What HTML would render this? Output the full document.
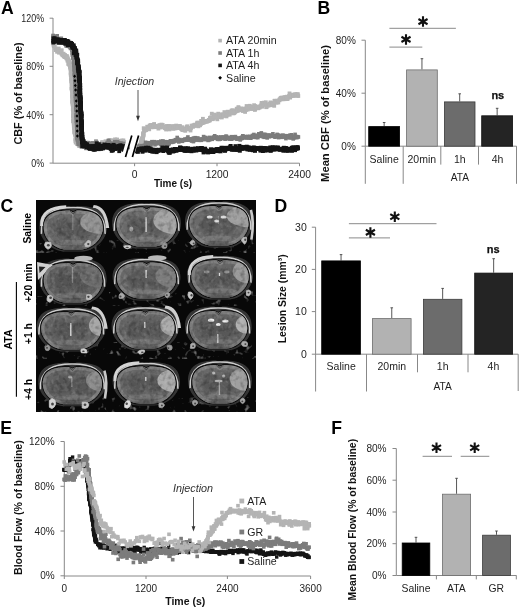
<!DOCTYPE html>
<html><head><meta charset="utf-8"><style>
html,body{margin:0;padding:0;background:#fff;width:520px;height:609px;overflow:hidden}
svg{display:block;will-change:transform}
text{font-family:"Liberation Sans",sans-serif}
</style></head><body>
<svg width="520" height="609" viewBox="0 0 520 609">
<text x="0.9" y="13.9" font-size="17.6" font-weight="bold" fill="#000">A</text>
<path d="M53,18L53,163.2" stroke="#888888" stroke-width="1"/>
<path d="M53,163.2L299.5,163.2" stroke="#888888" stroke-width="1"/>
<path d="M49.6,18.2L53,18.2" stroke="#888888" stroke-width="1"/>
<text x="0" y="0" font-size="10.6" text-anchor="end" fill="#1e1e1e" transform="translate(44.1 22.0) scale(0.84 1)">120%</text>
<path d="M49.6,66.3L53,66.3" stroke="#888888" stroke-width="1"/>
<text x="0" y="0" font-size="10.6" text-anchor="end" fill="#1e1e1e" transform="translate(44.1 70.1) scale(0.84 1)">80%</text>
<path d="M49.6,114.7L53,114.7" stroke="#888888" stroke-width="1"/>
<text x="0" y="0" font-size="10.6" text-anchor="end" fill="#1e1e1e" transform="translate(44.1 118.5) scale(0.84 1)">40%</text>
<path d="M49.6,163.1L53,163.1" stroke="#888888" stroke-width="1"/>
<text x="0" y="0" font-size="10.6" text-anchor="end" fill="#1e1e1e" transform="translate(44.1 166.9) scale(0.84 1)">0%</text>
<path d="M134.6,163.2L134.6,166.2" stroke="#888888" stroke-width="1"/>
<text x="134.7" y="177.7" font-size="10.3" text-anchor="middle" fill="#1e1e1e">0</text>
<path d="M217,163.2L217,166.2" stroke="#888888" stroke-width="1"/>
<text x="217.1" y="177.7" font-size="10.3" text-anchor="middle" fill="#1e1e1e">1200</text>
<path d="M299.5,163.2L299.5,166.2" stroke="#888888" stroke-width="1"/>
<text x="299.6" y="177.7" font-size="10.3" text-anchor="middle" fill="#1e1e1e">2400</text>
<text x="173" y="186.6" font-size="10" text-anchor="middle" font-weight="bold" fill="#111">Time (s)</text>
<text x="21.7" y="93.5" font-size="10.9" text-anchor="middle" font-weight="bold" fill="#111" transform="rotate(-90 21.7 93.5)">CBF (% of baseline)</text>
<g fill="#b4b4b4"><rect x="51.8" y="43.8" width="3.8" height="3.8"/><rect x="51.6" y="42.6" width="3.8" height="3.8"/><rect x="52.0" y="43.6" width="3.8" height="3.8"/><rect x="52.4" y="44.4" width="3.8" height="3.8"/><rect x="53.4" y="46.2" width="3.8" height="3.8"/><rect x="53.3" y="41.9" width="3.8" height="3.8"/><rect x="54.5" y="47.1" width="3.8" height="3.8"/><rect x="53.9" y="48.2" width="3.8" height="3.8"/><rect x="55.2" y="49.9" width="3.8" height="3.8"/><rect x="55.1" y="48.5" width="3.8" height="3.8"/><rect x="56.3" y="47.1" width="3.8" height="3.8"/><rect x="56.1" y="49.0" width="3.8" height="3.8"/><rect x="56.8" y="46.6" width="3.8" height="3.8"/><rect x="57.1" y="50.8" width="3.8" height="3.8"/><rect x="58.6" y="49.8" width="3.8" height="3.8"/><rect x="57.8" y="49.7" width="3.8" height="3.8"/><rect x="59.2" y="50.5" width="3.8" height="3.8"/><rect x="59.3" y="49.0" width="3.8" height="3.8"/><rect x="59.8" y="48.3" width="3.8" height="3.8"/><rect x="59.7" y="52.0" width="3.8" height="3.8"/><rect x="60.6" y="53.3" width="3.8" height="3.8"/><rect x="60.8" y="52.1" width="3.8" height="3.8"/><rect x="60.8" y="52.3" width="3.8" height="3.8"/><rect x="60.9" y="53.4" width="3.8" height="3.8"/><rect x="62.0" y="54.6" width="3.8" height="3.8"/><rect x="61.7" y="51.8" width="3.8" height="3.8"/><rect x="63.0" y="55.2" width="3.8" height="3.8"/><rect x="62.6" y="53.4" width="3.8" height="3.8"/><rect x="63.0" y="54.9" width="3.8" height="3.8"/><rect x="63.0" y="53.0" width="3.8" height="3.8"/><rect x="63.4" y="54.3" width="3.8" height="3.8"/><rect x="64.4" y="56.4" width="3.8" height="3.8"/><rect x="64.7" y="55.1" width="3.8" height="3.8"/><rect x="64.9" y="55.9" width="3.8" height="3.8"/><rect x="65.0" y="54.1" width="3.8" height="3.8"/><rect x="64.7" y="55.2" width="3.8" height="3.8"/><rect x="65.4" y="56.8" width="3.8" height="3.8"/><rect x="65.0" y="56.3" width="3.8" height="3.8"/><rect x="65.5" y="58.7" width="3.8" height="3.8"/><rect x="65.7" y="55.6" width="3.8" height="3.8"/><rect x="66.7" y="58.5" width="3.8" height="3.8"/><rect x="66.3" y="57.3" width="3.8" height="3.8"/><rect x="66.6" y="58.7" width="3.8" height="3.8"/><rect x="66.3" y="62.0" width="3.8" height="3.8"/><rect x="67.2" y="59.5" width="3.8" height="3.8"/><rect x="67.2" y="62.8" width="3.8" height="3.8"/><rect x="67.4" y="59.9" width="3.8" height="3.8"/><rect x="67.6" y="61.3" width="3.8" height="3.8"/><rect x="68.1" y="62.4" width="3.8" height="3.8"/><rect x="68.1" y="62.5" width="3.8" height="3.8"/><rect x="67.7" y="60.0" width="3.8" height="3.8"/><rect x="67.5" y="61.3" width="3.8" height="3.8"/><rect x="68.6" y="65.1" width="3.8" height="3.8"/><rect x="68.5" y="66.7" width="3.8" height="3.8"/><rect x="68.0" y="63.9" width="3.8" height="3.8"/><rect x="68.4" y="64.8" width="3.8" height="3.8"/><rect x="68.6" y="63.8" width="3.8" height="3.8"/><rect x="68.0" y="63.5" width="3.8" height="3.8"/><rect x="68.9" y="64.4" width="3.8" height="3.8"/><rect x="68.4" y="65.5" width="3.8" height="3.8"/><rect x="68.7" y="66.9" width="3.8" height="3.8"/><rect x="69.0" y="67.6" width="3.8" height="3.8"/><rect x="69.3" y="68.9" width="3.8" height="3.8"/><rect x="69.4" y="67.8" width="3.8" height="3.8"/><rect x="68.7" y="70.9" width="3.8" height="3.8"/><rect x="69.6" y="68.1" width="3.8" height="3.8"/><rect x="69.1" y="71.9" width="3.8" height="3.8"/><rect x="68.9" y="67.6" width="3.8" height="3.8"/><rect x="69.0" y="73.1" width="3.8" height="3.8"/><rect x="68.9" y="72.3" width="3.8" height="3.8"/><rect x="69.4" y="73.3" width="3.8" height="3.8"/><rect x="69.3" y="70.9" width="3.8" height="3.8"/><rect x="69.3" y="72.9" width="3.8" height="3.8"/><rect x="68.9" y="73.3" width="3.8" height="3.8"/><rect x="69.7" y="72.4" width="3.8" height="3.8"/><rect x="69.5" y="73.3" width="3.8" height="3.8"/><rect x="69.3" y="76.8" width="3.8" height="3.8"/><rect x="69.8" y="73.5" width="3.8" height="3.8"/><rect x="70.1" y="74.6" width="3.8" height="3.8"/><rect x="69.7" y="77.4" width="3.8" height="3.8"/><rect x="69.7" y="77.6" width="3.8" height="3.8"/><rect x="69.9" y="79.7" width="3.8" height="3.8"/><rect x="69.9" y="80.0" width="3.8" height="3.8"/><rect x="69.4" y="76.1" width="3.8" height="3.8"/><rect x="69.4" y="79.4" width="3.8" height="3.8"/><rect x="70.2" y="79.6" width="3.8" height="3.8"/><rect x="70.1" y="81.9" width="3.8" height="3.8"/><rect x="69.7" y="82.4" width="3.8" height="3.8"/><rect x="70.5" y="81.6" width="3.8" height="3.8"/><rect x="69.7" y="78.7" width="3.8" height="3.8"/><rect x="69.8" y="80.9" width="3.8" height="3.8"/><rect x="70.2" y="84.3" width="3.8" height="3.8"/><rect x="70.3" y="83.9" width="3.8" height="3.8"/><rect x="69.7" y="86.5" width="3.8" height="3.8"/><rect x="69.8" y="84.6" width="3.8" height="3.8"/><rect x="70.0" y="85.1" width="3.8" height="3.8"/><rect x="70.6" y="86.2" width="3.8" height="3.8"/><rect x="69.9" y="86.4" width="3.8" height="3.8"/><rect x="69.9" y="87.7" width="3.8" height="3.8"/><rect x="69.9" y="86.3" width="3.8" height="3.8"/><rect x="70.0" y="83.8" width="3.8" height="3.8"/><rect x="69.9" y="87.1" width="3.8" height="3.8"/><rect x="70.5" y="87.9" width="3.8" height="3.8"/><rect x="70.4" y="86.2" width="3.8" height="3.8"/><rect x="70.0" y="89.0" width="3.8" height="3.8"/><rect x="70.3" y="87.5" width="3.8" height="3.8"/><rect x="70.5" y="91.3" width="3.8" height="3.8"/><rect x="70.3" y="91.9" width="3.8" height="3.8"/><rect x="70.3" y="89.6" width="3.8" height="3.8"/><rect x="71.0" y="93.9" width="3.8" height="3.8"/><rect x="70.6" y="94.2" width="3.8" height="3.8"/><rect x="70.8" y="92.0" width="3.8" height="3.8"/><rect x="70.9" y="96.2" width="3.8" height="3.8"/><rect x="70.6" y="93.4" width="3.8" height="3.8"/><rect x="70.3" y="94.9" width="3.8" height="3.8"/><rect x="70.3" y="93.7" width="3.8" height="3.8"/><rect x="70.6" y="94.8" width="3.8" height="3.8"/><rect x="70.6" y="95.7" width="3.8" height="3.8"/><rect x="70.6" y="101.8" width="3.8" height="3.8"/><rect x="70.6" y="96.6" width="3.8" height="3.8"/><rect x="70.4" y="99.7" width="3.8" height="3.8"/><rect x="70.9" y="97.2" width="3.8" height="3.8"/><rect x="70.5" y="99.2" width="3.8" height="3.8"/><rect x="70.5" y="100.0" width="3.8" height="3.8"/><rect x="71.1" y="101.2" width="3.8" height="3.8"/><rect x="71.2" y="98.7" width="3.8" height="3.8"/><rect x="70.9" y="98.2" width="3.8" height="3.8"/><rect x="71.3" y="104.4" width="3.8" height="3.8"/><rect x="71.5" y="103.3" width="3.8" height="3.8"/><rect x="71.3" y="102.9" width="3.8" height="3.8"/><rect x="71.1" y="104.6" width="3.8" height="3.8"/><rect x="71.2" y="100.7" width="3.8" height="3.8"/><rect x="70.9" y="101.5" width="3.8" height="3.8"/><rect x="70.8" y="103.3" width="3.8" height="3.8"/><rect x="71.3" y="103.5" width="3.8" height="3.8"/><rect x="71.2" y="103.4" width="3.8" height="3.8"/><rect x="71.3" y="103.8" width="3.8" height="3.8"/><rect x="71.4" y="108.7" width="3.8" height="3.8"/><rect x="70.9" y="107.4" width="3.8" height="3.8"/><rect x="71.6" y="110.3" width="3.8" height="3.8"/><rect x="71.3" y="108.1" width="3.8" height="3.8"/><rect x="71.6" y="106.3" width="3.8" height="3.8"/><rect x="71.1" y="108.4" width="3.8" height="3.8"/><rect x="71.5" y="111.1" width="3.8" height="3.8"/><rect x="71.6" y="110.5" width="3.8" height="3.8"/><rect x="71.6" y="109.5" width="3.8" height="3.8"/><rect x="71.5" y="114.2" width="3.8" height="3.8"/><rect x="72.0" y="114.0" width="3.8" height="3.8"/><rect x="71.9" y="113.5" width="3.8" height="3.8"/><rect x="71.5" y="113.1" width="3.8" height="3.8"/><rect x="71.3" y="113.7" width="3.8" height="3.8"/><rect x="72.1" y="114.1" width="3.8" height="3.8"/><rect x="72.1" y="113.9" width="3.8" height="3.8"/><rect x="71.4" y="117.1" width="3.8" height="3.8"/><rect x="71.2" y="114.2" width="3.8" height="3.8"/><rect x="71.4" y="116.1" width="3.8" height="3.8"/><rect x="71.3" y="119.2" width="3.8" height="3.8"/><rect x="72.1" y="119.0" width="3.8" height="3.8"/><rect x="72.3" y="117.9" width="3.8" height="3.8"/><rect x="72.4" y="119.8" width="3.8" height="3.8"/><rect x="71.7" y="120.0" width="3.8" height="3.8"/><rect x="71.5" y="119.4" width="3.8" height="3.8"/><rect x="71.7" y="119.0" width="3.8" height="3.8"/><rect x="71.9" y="121.1" width="3.8" height="3.8"/><rect x="72.2" y="119.0" width="3.8" height="3.8"/><rect x="72.5" y="118.6" width="3.8" height="3.8"/><rect x="72.4" y="119.0" width="3.8" height="3.8"/><rect x="71.9" y="122.4" width="3.8" height="3.8"/><rect x="72.2" y="122.4" width="3.8" height="3.8"/><rect x="72.0" y="122.5" width="3.8" height="3.8"/><rect x="72.4" y="121.4" width="3.8" height="3.8"/><rect x="71.9" y="124.0" width="3.8" height="3.8"/><rect x="72.3" y="126.9" width="3.8" height="3.8"/><rect x="72.7" y="125.3" width="3.8" height="3.8"/><rect x="72.1" y="125.8" width="3.8" height="3.8"/><rect x="72.1" y="125.4" width="3.8" height="3.8"/><rect x="72.7" y="123.1" width="3.8" height="3.8"/><rect x="72.4" y="123.0" width="3.8" height="3.8"/><rect x="72.1" y="125.0" width="3.8" height="3.8"/><rect x="72.5" y="129.8" width="3.8" height="3.8"/><rect x="72.4" y="126.3" width="3.8" height="3.8"/><rect x="72.5" y="123.4" width="3.8" height="3.8"/><rect x="73.1" y="129.2" width="3.8" height="3.8"/><rect x="73.1" y="128.9" width="3.8" height="3.8"/><rect x="72.8" y="129.8" width="3.8" height="3.8"/><rect x="73.2" y="132.5" width="3.8" height="3.8"/><rect x="72.6" y="130.7" width="3.8" height="3.8"/><rect x="73.5" y="131.2" width="3.8" height="3.8"/><rect x="73.1" y="128.0" width="3.8" height="3.8"/><rect x="72.7" y="130.5" width="3.8" height="3.8"/><rect x="73.4" y="130.8" width="3.8" height="3.8"/><rect x="73.4" y="131.9" width="3.8" height="3.8"/><rect x="73.4" y="133.0" width="3.8" height="3.8"/><rect x="73.3" y="132.9" width="3.8" height="3.8"/><rect x="73.4" y="130.7" width="3.8" height="3.8"/><rect x="73.9" y="135.6" width="3.8" height="3.8"/><rect x="74.2" y="136.9" width="3.8" height="3.8"/><rect x="73.5" y="137.6" width="3.8" height="3.8"/><rect x="73.7" y="136.8" width="3.8" height="3.8"/><rect x="73.6" y="139.2" width="3.8" height="3.8"/><rect x="74.1" y="139.0" width="3.8" height="3.8"/><rect x="74.3" y="137.4" width="3.8" height="3.8"/><rect x="74.6" y="136.8" width="3.8" height="3.8"/><rect x="73.8" y="140.7" width="3.8" height="3.8"/><rect x="75.1" y="142.0" width="3.8" height="3.8"/><rect x="74.8" y="136.1" width="3.8" height="3.8"/><rect x="75.7" y="138.5" width="3.8" height="3.8"/><rect x="75.7" y="140.0" width="3.8" height="3.8"/><rect x="77.5" y="141.1" width="3.8" height="3.8"/><rect x="77.3" y="144.2" width="3.8" height="3.8"/><rect x="77.8" y="143.5" width="3.8" height="3.8"/><rect x="78.3" y="140.0" width="3.8" height="3.8"/><rect x="78.8" y="141.7" width="3.8" height="3.8"/><rect x="78.9" y="138.3" width="3.8" height="3.8"/><rect x="80.6" y="142.3" width="3.8" height="3.8"/><rect x="80.4" y="143.4" width="3.8" height="3.8"/><rect x="81.0" y="143.0" width="3.8" height="3.8"/><rect x="80.8" y="140.2" width="3.8" height="3.8"/><rect x="82.0" y="144.2" width="3.8" height="3.8"/><rect x="81.6" y="140.7" width="3.8" height="3.8"/><rect x="83.3" y="142.7" width="3.8" height="3.8"/><rect x="82.9" y="142.7" width="3.8" height="3.8"/><rect x="83.9" y="144.2" width="3.8" height="3.8"/><rect x="83.6" y="143.1" width="3.8" height="3.8"/><rect x="85.5" y="143.6" width="3.8" height="3.8"/><rect x="84.8" y="140.7" width="3.8" height="3.8"/><rect x="86.0" y="144.4" width="3.8" height="3.8"/><rect x="86.5" y="146.1" width="3.8" height="3.8"/><rect x="87.4" y="141.7" width="3.8" height="3.8"/><rect x="87.2" y="143.6" width="3.8" height="3.8"/><rect x="88.4" y="145.1" width="3.8" height="3.8"/><rect x="87.8" y="144.7" width="3.8" height="3.8"/><rect x="88.9" y="144.9" width="3.8" height="3.8"/><rect x="89.5" y="145.7" width="3.8" height="3.8"/><rect x="89.7" y="141.3" width="3.8" height="3.8"/><rect x="89.8" y="143.9" width="3.8" height="3.8"/><rect x="91.3" y="141.1" width="3.8" height="3.8"/><rect x="91.3" y="144.9" width="3.8" height="3.8"/><rect x="92.2" y="141.4" width="3.8" height="3.8"/><rect x="91.8" y="145.1" width="3.8" height="3.8"/><rect x="93.2" y="146.2" width="3.8" height="3.8"/><rect x="93.0" y="145.4" width="3.8" height="3.8"/><rect x="94.4" y="140.2" width="3.8" height="3.8"/><rect x="94.1" y="139.0" width="3.8" height="3.8"/><rect x="94.6" y="140.4" width="3.8" height="3.8"/><rect x="94.7" y="145.0" width="3.8" height="3.8"/><rect x="96.5" y="142.2" width="3.8" height="3.8"/><rect x="95.9" y="146.7" width="3.8" height="3.8"/><rect x="97.2" y="143.8" width="3.8" height="3.8"/><rect x="96.8" y="143.5" width="3.8" height="3.8"/><rect x="97.9" y="141.9" width="3.8" height="3.8"/><rect x="97.6" y="142.4" width="3.8" height="3.8"/><rect x="98.9" y="142.1" width="3.8" height="3.8"/><rect x="99.4" y="142.5" width="3.8" height="3.8"/><rect x="100.0" y="140.4" width="3.8" height="3.8"/><rect x="99.8" y="141.9" width="3.8" height="3.8"/><rect x="100.9" y="142.5" width="3.8" height="3.8"/><rect x="100.9" y="140.4" width="3.8" height="3.8"/><rect x="102.5" y="142.8" width="3.8" height="3.8"/><rect x="102.3" y="141.3" width="3.8" height="3.8"/><rect x="103.0" y="142.5" width="3.8" height="3.8"/><rect x="103.0" y="143.7" width="3.8" height="3.8"/><rect x="103.6" y="139.4" width="3.8" height="3.8"/><rect x="103.7" y="140.9" width="3.8" height="3.8"/><rect x="104.7" y="142.3" width="3.8" height="3.8"/><rect x="105.1" y="141.6" width="3.8" height="3.8"/><rect x="106.4" y="141.6" width="3.8" height="3.8"/><rect x="106.5" y="140.4" width="3.8" height="3.8"/><rect x="107.5" y="140.4" width="3.8" height="3.8"/><rect x="107.5" y="138.1" width="3.8" height="3.8"/><rect x="108.4" y="139.7" width="3.8" height="3.8"/><rect x="108.4" y="141.1" width="3.8" height="3.8"/><rect x="109.1" y="141.3" width="3.8" height="3.8"/><rect x="108.7" y="139.8" width="3.8" height="3.8"/><rect x="109.6" y="138.4" width="3.8" height="3.8"/><rect x="110.4" y="139.8" width="3.8" height="3.8"/><rect x="111.2" y="139.1" width="3.8" height="3.8"/><rect x="111.0" y="138.8" width="3.8" height="3.8"/><rect x="112.0" y="139.7" width="3.8" height="3.8"/><rect x="112.1" y="140.2" width="3.8" height="3.8"/><rect x="113.1" y="137.5" width="3.8" height="3.8"/><rect x="113.1" y="140.9" width="3.8" height="3.8"/><rect x="113.7" y="138.8" width="3.8" height="3.8"/><rect x="114.2" y="141.3" width="3.8" height="3.8"/><rect x="115.1" y="137.8" width="3.8" height="3.8"/><rect x="115.1" y="137.7" width="3.8" height="3.8"/><rect x="116.5" y="144.3" width="3.8" height="3.8"/><rect x="115.8" y="141.6" width="3.8" height="3.8"/><rect x="117.5" y="140.3" width="3.8" height="3.8"/><rect x="117.4" y="140.7" width="3.8" height="3.8"/><rect x="118.4" y="142.1" width="3.8" height="3.8"/><rect x="118.4" y="143.1" width="3.8" height="3.8"/><rect x="118.8" y="139.0" width="3.8" height="3.8"/><rect x="119.1" y="138.9" width="3.8" height="3.8"/><rect x="119.8" y="141.8" width="3.8" height="3.8"/><rect x="119.8" y="138.7" width="3.8" height="3.8"/><rect x="121.2" y="141.8" width="3.8" height="3.8"/><rect x="121.5" y="138.5" width="3.8" height="3.8"/><rect x="121.7" y="142.6" width="3.8" height="3.8"/><rect x="122.4" y="140.3" width="3.8" height="3.8"/><rect x="123.0" y="141.3" width="3.8" height="3.8"/><rect x="123.0" y="142.6" width="3.8" height="3.8"/><rect x="124.4" y="142.3" width="3.8" height="3.8"/><rect x="124.2" y="144.6" width="3.8" height="3.8"/><rect x="124.6" y="142.4" width="3.8" height="3.8"/><rect x="125.2" y="140.5" width="3.8" height="3.8"/></g>
<g fill="#7c7c7c"><rect x="51.2" y="33.7" width="3.8" height="3.8"/><rect x="51.1" y="35.4" width="3.8" height="3.8"/><rect x="52.2" y="35.4" width="3.8" height="3.8"/><rect x="52.6" y="35.1" width="3.8" height="3.8"/><rect x="53.0" y="37.0" width="3.8" height="3.8"/><rect x="52.9" y="35.6" width="3.8" height="3.8"/><rect x="54.1" y="35.5" width="3.8" height="3.8"/><rect x="53.7" y="36.2" width="3.8" height="3.8"/><rect x="55.2" y="34.0" width="3.8" height="3.8"/><rect x="54.8" y="38.3" width="3.8" height="3.8"/><rect x="56.0" y="38.6" width="3.8" height="3.8"/><rect x="55.7" y="38.2" width="3.8" height="3.8"/><rect x="57.5" y="38.9" width="3.8" height="3.8"/><rect x="57.1" y="39.1" width="3.8" height="3.8"/><rect x="57.9" y="38.0" width="3.8" height="3.8"/><rect x="57.6" y="40.7" width="3.8" height="3.8"/><rect x="58.6" y="39.7" width="3.8" height="3.8"/><rect x="59.3" y="36.5" width="3.8" height="3.8"/><rect x="59.8" y="39.7" width="3.8" height="3.8"/><rect x="59.9" y="39.0" width="3.8" height="3.8"/><rect x="61.3" y="38.5" width="3.8" height="3.8"/><rect x="61.4" y="40.4" width="3.8" height="3.8"/><rect x="62.6" y="41.3" width="3.8" height="3.8"/><rect x="62.5" y="40.4" width="3.8" height="3.8"/><rect x="63.3" y="42.2" width="3.8" height="3.8"/><rect x="63.5" y="39.2" width="3.8" height="3.8"/><rect x="64.2" y="43.8" width="3.8" height="3.8"/><rect x="64.3" y="42.3" width="3.8" height="3.8"/><rect x="65.1" y="42.3" width="3.8" height="3.8"/><rect x="65.0" y="40.2" width="3.8" height="3.8"/><rect x="65.3" y="44.1" width="3.8" height="3.8"/><rect x="65.3" y="42.8" width="3.8" height="3.8"/><rect x="66.3" y="43.1" width="3.8" height="3.8"/><rect x="66.7" y="43.1" width="3.8" height="3.8"/><rect x="66.9" y="41.0" width="3.8" height="3.8"/><rect x="67.2" y="44.2" width="3.8" height="3.8"/><rect x="67.7" y="44.9" width="3.8" height="3.8"/><rect x="67.7" y="40.5" width="3.8" height="3.8"/><rect x="68.9" y="44.3" width="3.8" height="3.8"/><rect x="68.7" y="45.0" width="3.8" height="3.8"/><rect x="68.7" y="46.4" width="3.8" height="3.8"/><rect x="68.9" y="45.9" width="3.8" height="3.8"/><rect x="69.4" y="46.3" width="3.8" height="3.8"/><rect x="69.5" y="44.6" width="3.8" height="3.8"/><rect x="70.5" y="48.5" width="3.8" height="3.8"/><rect x="70.0" y="48.5" width="3.8" height="3.8"/><rect x="70.6" y="50.9" width="3.8" height="3.8"/><rect x="71.0" y="51.3" width="3.8" height="3.8"/><rect x="70.6" y="51.4" width="3.8" height="3.8"/><rect x="70.6" y="53.0" width="3.8" height="3.8"/><rect x="70.9" y="50.7" width="3.8" height="3.8"/><rect x="71.1" y="51.1" width="3.8" height="3.8"/><rect x="71.1" y="51.7" width="3.8" height="3.8"/><rect x="70.9" y="53.3" width="3.8" height="3.8"/><rect x="71.6" y="54.5" width="3.8" height="3.8"/><rect x="71.6" y="52.4" width="3.8" height="3.8"/><rect x="72.0" y="57.2" width="3.8" height="3.8"/><rect x="71.3" y="56.2" width="3.8" height="3.8"/><rect x="71.6" y="55.2" width="3.8" height="3.8"/><rect x="71.4" y="54.5" width="3.8" height="3.8"/><rect x="72.0" y="56.4" width="3.8" height="3.8"/><rect x="71.4" y="56.2" width="3.8" height="3.8"/><rect x="71.6" y="55.6" width="3.8" height="3.8"/><rect x="72.2" y="56.9" width="3.8" height="3.8"/><rect x="72.4" y="58.4" width="3.8" height="3.8"/><rect x="72.2" y="59.2" width="3.8" height="3.8"/><rect x="71.9" y="60.2" width="3.8" height="3.8"/><rect x="72.2" y="60.1" width="3.8" height="3.8"/><rect x="72.7" y="60.8" width="3.8" height="3.8"/><rect x="71.9" y="60.2" width="3.8" height="3.8"/><rect x="72.6" y="62.6" width="3.8" height="3.8"/><rect x="72.1" y="62.4" width="3.8" height="3.8"/><rect x="72.4" y="64.7" width="3.8" height="3.8"/><rect x="72.7" y="63.6" width="3.8" height="3.8"/><rect x="72.2" y="62.6" width="3.8" height="3.8"/><rect x="72.5" y="63.5" width="3.8" height="3.8"/><rect x="72.7" y="63.3" width="3.8" height="3.8"/><rect x="72.9" y="61.8" width="3.8" height="3.8"/><rect x="73.1" y="62.4" width="3.8" height="3.8"/><rect x="72.8" y="63.4" width="3.8" height="3.8"/><rect x="72.3" y="63.7" width="3.8" height="3.8"/><rect x="72.9" y="67.0" width="3.8" height="3.8"/><rect x="72.9" y="67.0" width="3.8" height="3.8"/><rect x="73.0" y="67.1" width="3.8" height="3.8"/><rect x="73.1" y="66.0" width="3.8" height="3.8"/><rect x="72.4" y="68.3" width="3.8" height="3.8"/><rect x="73.3" y="71.0" width="3.8" height="3.8"/><rect x="72.5" y="67.4" width="3.8" height="3.8"/><rect x="73.0" y="67.9" width="3.8" height="3.8"/><rect x="72.9" y="67.6" width="3.8" height="3.8"/><rect x="72.9" y="73.0" width="3.8" height="3.8"/><rect x="72.6" y="72.2" width="3.8" height="3.8"/><rect x="72.8" y="71.7" width="3.8" height="3.8"/><rect x="73.0" y="72.0" width="3.8" height="3.8"/><rect x="72.8" y="73.5" width="3.8" height="3.8"/><rect x="73.5" y="71.7" width="3.8" height="3.8"/><rect x="73.0" y="73.8" width="3.8" height="3.8"/><rect x="73.5" y="74.3" width="3.8" height="3.8"/><rect x="72.9" y="74.3" width="3.8" height="3.8"/><rect x="73.1" y="72.3" width="3.8" height="3.8"/><rect x="73.2" y="73.8" width="3.8" height="3.8"/><rect x="73.6" y="76.0" width="3.8" height="3.8"/><rect x="73.2" y="74.9" width="3.8" height="3.8"/><rect x="73.2" y="75.9" width="3.8" height="3.8"/><rect x="73.1" y="77.1" width="3.8" height="3.8"/><rect x="73.3" y="78.2" width="3.8" height="3.8"/><rect x="73.8" y="76.8" width="3.8" height="3.8"/><rect x="73.0" y="79.3" width="3.8" height="3.8"/><rect x="73.1" y="78.9" width="3.8" height="3.8"/><rect x="73.0" y="76.2" width="3.8" height="3.8"/><rect x="73.1" y="78.1" width="3.8" height="3.8"/><rect x="73.2" y="79.2" width="3.8" height="3.8"/><rect x="74.0" y="80.0" width="3.8" height="3.8"/><rect x="73.7" y="79.0" width="3.8" height="3.8"/><rect x="73.9" y="77.9" width="3.8" height="3.8"/><rect x="73.3" y="79.9" width="3.8" height="3.8"/><rect x="73.6" y="82.5" width="3.8" height="3.8"/><rect x="73.4" y="80.0" width="3.8" height="3.8"/><rect x="73.6" y="82.4" width="3.8" height="3.8"/><rect x="73.7" y="80.7" width="3.8" height="3.8"/><rect x="73.2" y="84.7" width="3.8" height="3.8"/><rect x="73.9" y="82.5" width="3.8" height="3.8"/><rect x="74.2" y="85.8" width="3.8" height="3.8"/><rect x="73.9" y="84.5" width="3.8" height="3.8"/><rect x="74.0" y="87.1" width="3.8" height="3.8"/><rect x="73.8" y="85.5" width="3.8" height="3.8"/><rect x="74.1" y="87.2" width="3.8" height="3.8"/><rect x="73.7" y="88.3" width="3.8" height="3.8"/><rect x="73.9" y="88.4" width="3.8" height="3.8"/><rect x="73.8" y="87.3" width="3.8" height="3.8"/><rect x="74.2" y="88.7" width="3.8" height="3.8"/><rect x="73.9" y="89.5" width="3.8" height="3.8"/><rect x="74.1" y="92.0" width="3.8" height="3.8"/><rect x="73.8" y="90.4" width="3.8" height="3.8"/><rect x="73.5" y="90.2" width="3.8" height="3.8"/><rect x="74.4" y="91.6" width="3.8" height="3.8"/><rect x="73.5" y="94.3" width="3.8" height="3.8"/><rect x="74.2" y="96.1" width="3.8" height="3.8"/><rect x="74.2" y="93.9" width="3.8" height="3.8"/><rect x="74.3" y="93.2" width="3.8" height="3.8"/><rect x="74.3" y="93.2" width="3.8" height="3.8"/><rect x="73.8" y="96.1" width="3.8" height="3.8"/><rect x="74.3" y="93.7" width="3.8" height="3.8"/><rect x="74.5" y="97.2" width="3.8" height="3.8"/><rect x="74.0" y="96.0" width="3.8" height="3.8"/><rect x="74.3" y="97.7" width="3.8" height="3.8"/><rect x="73.8" y="99.6" width="3.8" height="3.8"/><rect x="74.6" y="96.2" width="3.8" height="3.8"/><rect x="73.8" y="97.9" width="3.8" height="3.8"/><rect x="74.8" y="100.6" width="3.8" height="3.8"/><rect x="74.5" y="100.6" width="3.8" height="3.8"/><rect x="74.0" y="100.4" width="3.8" height="3.8"/><rect x="74.0" y="102.0" width="3.8" height="3.8"/><rect x="74.0" y="101.2" width="3.8" height="3.8"/><rect x="74.6" y="101.4" width="3.8" height="3.8"/><rect x="74.0" y="102.7" width="3.8" height="3.8"/><rect x="74.7" y="104.3" width="3.8" height="3.8"/><rect x="74.4" y="103.6" width="3.8" height="3.8"/><rect x="74.7" y="107.4" width="3.8" height="3.8"/><rect x="74.0" y="102.2" width="3.8" height="3.8"/><rect x="74.3" y="104.0" width="3.8" height="3.8"/><rect x="74.5" y="103.2" width="3.8" height="3.8"/><rect x="74.5" y="106.2" width="3.8" height="3.8"/><rect x="74.2" y="105.2" width="3.8" height="3.8"/><rect x="74.7" y="104.4" width="3.8" height="3.8"/><rect x="75.0" y="106.3" width="3.8" height="3.8"/><rect x="74.2" y="106.1" width="3.8" height="3.8"/><rect x="74.8" y="107.1" width="3.8" height="3.8"/><rect x="75.1" y="108.4" width="3.8" height="3.8"/><rect x="74.6" y="105.8" width="3.8" height="3.8"/><rect x="74.8" y="109.7" width="3.8" height="3.8"/><rect x="75.0" y="108.2" width="3.8" height="3.8"/><rect x="74.6" y="107.5" width="3.8" height="3.8"/><rect x="74.3" y="108.3" width="3.8" height="3.8"/><rect x="74.8" y="108.9" width="3.8" height="3.8"/><rect x="75.1" y="112.2" width="3.8" height="3.8"/><rect x="74.6" y="113.4" width="3.8" height="3.8"/><rect x="74.5" y="112.8" width="3.8" height="3.8"/><rect x="74.9" y="113.2" width="3.8" height="3.8"/><rect x="74.8" y="113.9" width="3.8" height="3.8"/><rect x="75.1" y="114.7" width="3.8" height="3.8"/><rect x="75.1" y="115.4" width="3.8" height="3.8"/><rect x="75.3" y="113.8" width="3.8" height="3.8"/><rect x="74.9" y="114.5" width="3.8" height="3.8"/><rect x="74.6" y="115.9" width="3.8" height="3.8"/><rect x="74.8" y="115.1" width="3.8" height="3.8"/><rect x="75.5" y="118.1" width="3.8" height="3.8"/><rect x="74.6" y="116.1" width="3.8" height="3.8"/><rect x="75.1" y="117.2" width="3.8" height="3.8"/><rect x="74.5" y="119.5" width="3.8" height="3.8"/><rect x="75.1" y="118.7" width="3.8" height="3.8"/><rect x="75.3" y="116.9" width="3.8" height="3.8"/><rect x="75.4" y="122.8" width="3.8" height="3.8"/><rect x="74.8" y="121.5" width="3.8" height="3.8"/><rect x="75.2" y="123.2" width="3.8" height="3.8"/><rect x="75.1" y="125.9" width="3.8" height="3.8"/><rect x="75.3" y="123.0" width="3.8" height="3.8"/><rect x="74.9" y="124.0" width="3.8" height="3.8"/><rect x="75.4" y="121.0" width="3.8" height="3.8"/><rect x="75.2" y="125.6" width="3.8" height="3.8"/><rect x="75.0" y="127.2" width="3.8" height="3.8"/><rect x="75.7" y="126.5" width="3.8" height="3.8"/><rect x="75.6" y="126.9" width="3.8" height="3.8"/><rect x="75.5" y="127.8" width="3.8" height="3.8"/><rect x="75.7" y="130.2" width="3.8" height="3.8"/><rect x="75.5" y="127.5" width="3.8" height="3.8"/><rect x="75.2" y="130.4" width="3.8" height="3.8"/><rect x="75.5" y="130.1" width="3.8" height="3.8"/><rect x="75.7" y="133.2" width="3.8" height="3.8"/><rect x="75.1" y="131.1" width="3.8" height="3.8"/><rect x="76.0" y="135.3" width="3.8" height="3.8"/><rect x="75.2" y="131.5" width="3.8" height="3.8"/><rect x="76.0" y="132.0" width="3.8" height="3.8"/><rect x="76.0" y="131.9" width="3.8" height="3.8"/><rect x="75.4" y="133.1" width="3.8" height="3.8"/><rect x="75.9" y="132.9" width="3.8" height="3.8"/><rect x="75.6" y="133.8" width="3.8" height="3.8"/><rect x="76.1" y="134.9" width="3.8" height="3.8"/><rect x="75.7" y="137.2" width="3.8" height="3.8"/><rect x="75.5" y="136.2" width="3.8" height="3.8"/><rect x="76.1" y="137.0" width="3.8" height="3.8"/><rect x="75.7" y="138.2" width="3.8" height="3.8"/><rect x="76.5" y="139.6" width="3.8" height="3.8"/><rect x="75.6" y="135.6" width="3.8" height="3.8"/><rect x="76.3" y="137.6" width="3.8" height="3.8"/><rect x="76.3" y="142.4" width="3.8" height="3.8"/><rect x="76.4" y="139.7" width="3.8" height="3.8"/><rect x="75.8" y="136.8" width="3.8" height="3.8"/><rect x="77.0" y="141.4" width="3.8" height="3.8"/><rect x="77.1" y="141.5" width="3.8" height="3.8"/><rect x="77.8" y="142.0" width="3.8" height="3.8"/><rect x="77.5" y="142.3" width="3.8" height="3.8"/><rect x="78.8" y="142.4" width="3.8" height="3.8"/><rect x="78.7" y="142.7" width="3.8" height="3.8"/><rect x="79.6" y="143.2" width="3.8" height="3.8"/><rect x="79.6" y="144.8" width="3.8" height="3.8"/><rect x="80.5" y="141.0" width="3.8" height="3.8"/><rect x="79.8" y="144.2" width="3.8" height="3.8"/><rect x="81.0" y="144.1" width="3.8" height="3.8"/><rect x="80.6" y="142.0" width="3.8" height="3.8"/><rect x="81.7" y="142.8" width="3.8" height="3.8"/><rect x="81.9" y="140.9" width="3.8" height="3.8"/><rect x="82.7" y="144.2" width="3.8" height="3.8"/><rect x="83.6" y="141.0" width="3.8" height="3.8"/><rect x="84.1" y="146.4" width="3.8" height="3.8"/><rect x="83.8" y="143.3" width="3.8" height="3.8"/><rect x="84.6" y="145.5" width="3.8" height="3.8"/><rect x="85.3" y="143.0" width="3.8" height="3.8"/><rect x="86.2" y="140.9" width="3.8" height="3.8"/><rect x="86.5" y="142.8" width="3.8" height="3.8"/><rect x="87.1" y="143.7" width="3.8" height="3.8"/><rect x="86.9" y="144.5" width="3.8" height="3.8"/><rect x="88.2" y="144.4" width="3.8" height="3.8"/><rect x="88.3" y="143.3" width="3.8" height="3.8"/><rect x="89.0" y="141.6" width="3.8" height="3.8"/><rect x="89.4" y="143.1" width="3.8" height="3.8"/><rect x="90.4" y="143.8" width="3.8" height="3.8"/><rect x="90.0" y="145.2" width="3.8" height="3.8"/><rect x="91.4" y="141.8" width="3.8" height="3.8"/><rect x="90.7" y="141.2" width="3.8" height="3.8"/><rect x="91.8" y="142.6" width="3.8" height="3.8"/><rect x="92.1" y="145.3" width="3.8" height="3.8"/><rect x="92.6" y="144.3" width="3.8" height="3.8"/><rect x="93.6" y="144.2" width="3.8" height="3.8"/><rect x="94.4" y="144.4" width="3.8" height="3.8"/><rect x="94.2" y="140.3" width="3.8" height="3.8"/><rect x="95.1" y="141.2" width="3.8" height="3.8"/><rect x="95.2" y="142.2" width="3.8" height="3.8"/><rect x="96.6" y="142.8" width="3.8" height="3.8"/><rect x="95.7" y="144.2" width="3.8" height="3.8"/><rect x="96.9" y="143.3" width="3.8" height="3.8"/><rect x="97.1" y="144.2" width="3.8" height="3.8"/><rect x="97.9" y="143.0" width="3.8" height="3.8"/><rect x="97.7" y="144.6" width="3.8" height="3.8"/><rect x="99.2" y="142.7" width="3.8" height="3.8"/><rect x="98.8" y="143.9" width="3.8" height="3.8"/><rect x="100.2" y="142.3" width="3.8" height="3.8"/><rect x="99.8" y="143.7" width="3.8" height="3.8"/><rect x="100.6" y="144.1" width="3.8" height="3.8"/><rect x="101.5" y="143.0" width="3.8" height="3.8"/><rect x="101.9" y="144.8" width="3.8" height="3.8"/><rect x="101.8" y="143.5" width="3.8" height="3.8"/><rect x="102.7" y="142.9" width="3.8" height="3.8"/><rect x="103.0" y="143.9" width="3.8" height="3.8"/><rect x="104.6" y="143.5" width="3.8" height="3.8"/><rect x="104.0" y="142.8" width="3.8" height="3.8"/><rect x="105.4" y="140.8" width="3.8" height="3.8"/><rect x="105.3" y="142.5" width="3.8" height="3.8"/><rect x="106.4" y="140.9" width="3.8" height="3.8"/><rect x="106.5" y="138.7" width="3.8" height="3.8"/><rect x="107.1" y="140.1" width="3.8" height="3.8"/><rect x="107.2" y="139.8" width="3.8" height="3.8"/><rect x="108.2" y="141.5" width="3.8" height="3.8"/><rect x="108.3" y="143.6" width="3.8" height="3.8"/><rect x="109.0" y="143.2" width="3.8" height="3.8"/><rect x="109.4" y="143.1" width="3.8" height="3.8"/><rect x="109.8" y="141.5" width="3.8" height="3.8"/><rect x="110.2" y="142.5" width="3.8" height="3.8"/><rect x="111.4" y="141.8" width="3.8" height="3.8"/><rect x="111.6" y="142.8" width="3.8" height="3.8"/><rect x="111.6" y="144.9" width="3.8" height="3.8"/><rect x="112.5" y="143.7" width="3.8" height="3.8"/><rect x="113.1" y="139.9" width="3.8" height="3.8"/><rect x="113.3" y="140.1" width="3.8" height="3.8"/><rect x="114.0" y="143.8" width="3.8" height="3.8"/><rect x="113.7" y="141.2" width="3.8" height="3.8"/><rect x="115.2" y="142.5" width="3.8" height="3.8"/><rect x="115.6" y="139.9" width="3.8" height="3.8"/><rect x="116.6" y="140.9" width="3.8" height="3.8"/><rect x="115.8" y="143.2" width="3.8" height="3.8"/><rect x="117.1" y="142.8" width="3.8" height="3.8"/><rect x="117.5" y="142.2" width="3.8" height="3.8"/><rect x="118.5" y="141.5" width="3.8" height="3.8"/><rect x="118.1" y="142.6" width="3.8" height="3.8"/><rect x="119.2" y="143.4" width="3.8" height="3.8"/><rect x="119.0" y="144.5" width="3.8" height="3.8"/><rect x="120.0" y="142.9" width="3.8" height="3.8"/><rect x="119.6" y="141.5" width="3.8" height="3.8"/><rect x="121.3" y="141.7" width="3.8" height="3.8"/><rect x="121.1" y="142.2" width="3.8" height="3.8"/><rect x="122.1" y="145.0" width="3.8" height="3.8"/><rect x="121.7" y="143.1" width="3.8" height="3.8"/><rect x="122.7" y="142.6" width="3.8" height="3.8"/><rect x="123.1" y="144.1" width="3.8" height="3.8"/><rect x="123.7" y="145.0" width="3.8" height="3.8"/><rect x="124.3" y="142.8" width="3.8" height="3.8"/><rect x="124.7" y="143.9" width="3.8" height="3.8"/><rect x="125.2" y="142.1" width="3.8" height="3.8"/></g>
<g fill="#141414"><rect x="51.2" y="39.0" width="3.8" height="3.8"/><rect x="51.5" y="36.4" width="3.8" height="3.8"/><rect x="51.3" y="40.7" width="3.8" height="3.8"/><rect x="52.5" y="39.9" width="3.8" height="3.8"/><rect x="52.8" y="36.3" width="3.8" height="3.8"/><rect x="52.7" y="38.8" width="3.8" height="3.8"/><rect x="54.1" y="37.8" width="3.8" height="3.8"/><rect x="53.8" y="38.8" width="3.8" height="3.8"/><rect x="53.6" y="38.2" width="3.8" height="3.8"/><rect x="55.4" y="37.5" width="3.8" height="3.8"/><rect x="55.0" y="39.7" width="3.8" height="3.8"/><rect x="54.9" y="38.6" width="3.8" height="3.8"/><rect x="56.0" y="37.9" width="3.8" height="3.8"/><rect x="55.8" y="38.8" width="3.8" height="3.8"/><rect x="56.3" y="37.5" width="3.8" height="3.8"/><rect x="56.7" y="37.9" width="3.8" height="3.8"/><rect x="57.0" y="40.9" width="3.8" height="3.8"/><rect x="57.4" y="38.9" width="3.8" height="3.8"/><rect x="58.0" y="39.6" width="3.8" height="3.8"/><rect x="58.1" y="38.4" width="3.8" height="3.8"/><rect x="58.1" y="40.2" width="3.8" height="3.8"/><rect x="59.5" y="38.1" width="3.8" height="3.8"/><rect x="59.2" y="38.6" width="3.8" height="3.8"/><rect x="59.5" y="40.5" width="3.8" height="3.8"/><rect x="59.9" y="39.8" width="3.8" height="3.8"/><rect x="60.2" y="38.3" width="3.8" height="3.8"/><rect x="60.0" y="40.4" width="3.8" height="3.8"/><rect x="60.9" y="39.4" width="3.8" height="3.8"/><rect x="61.0" y="39.2" width="3.8" height="3.8"/><rect x="60.9" y="40.9" width="3.8" height="3.8"/><rect x="61.7" y="39.7" width="3.8" height="3.8"/><rect x="62.5" y="38.9" width="3.8" height="3.8"/><rect x="62.5" y="40.5" width="3.8" height="3.8"/><rect x="62.6" y="39.0" width="3.8" height="3.8"/><rect x="63.0" y="38.0" width="3.8" height="3.8"/><rect x="63.3" y="39.9" width="3.8" height="3.8"/><rect x="64.2" y="41.2" width="3.8" height="3.8"/><rect x="64.3" y="41.6" width="3.8" height="3.8"/><rect x="63.6" y="41.7" width="3.8" height="3.8"/><rect x="64.9" y="40.7" width="3.8" height="3.8"/><rect x="65.2" y="41.3" width="3.8" height="3.8"/><rect x="65.4" y="39.0" width="3.8" height="3.8"/><rect x="66.0" y="40.2" width="3.8" height="3.8"/><rect x="66.4" y="39.5" width="3.8" height="3.8"/><rect x="65.9" y="43.4" width="3.8" height="3.8"/><rect x="66.6" y="41.3" width="3.8" height="3.8"/><rect x="66.8" y="42.0" width="3.8" height="3.8"/><rect x="67.3" y="43.2" width="3.8" height="3.8"/><rect x="68.3" y="42.6" width="3.8" height="3.8"/><rect x="68.5" y="41.0" width="3.8" height="3.8"/><rect x="68.5" y="41.2" width="3.8" height="3.8"/><rect x="69.2" y="41.1" width="3.8" height="3.8"/><rect x="69.0" y="41.7" width="3.8" height="3.8"/><rect x="69.5" y="43.2" width="3.8" height="3.8"/><rect x="69.9" y="43.3" width="3.8" height="3.8"/><rect x="70.2" y="41.9" width="3.8" height="3.8"/><rect x="69.7" y="42.9" width="3.8" height="3.8"/><rect x="70.2" y="44.1" width="3.8" height="3.8"/><rect x="70.5" y="44.9" width="3.8" height="3.8"/><rect x="70.0" y="43.8" width="3.8" height="3.8"/><rect x="71.3" y="44.3" width="3.8" height="3.8"/><rect x="70.5" y="45.9" width="3.8" height="3.8"/><rect x="70.7" y="45.7" width="3.8" height="3.8"/><rect x="71.2" y="44.0" width="3.8" height="3.8"/><rect x="71.8" y="43.3" width="3.8" height="3.8"/><rect x="71.1" y="44.6" width="3.8" height="3.8"/><rect x="71.7" y="45.9" width="3.8" height="3.8"/><rect x="72.0" y="47.0" width="3.8" height="3.8"/><rect x="71.9" y="44.8" width="3.8" height="3.8"/><rect x="71.9" y="51.4" width="3.8" height="3.8"/><rect x="72.0" y="47.4" width="3.8" height="3.8"/><rect x="72.9" y="46.4" width="3.8" height="3.8"/><rect x="72.6" y="48.5" width="3.8" height="3.8"/><rect x="73.1" y="49.5" width="3.8" height="3.8"/><rect x="72.8" y="49.7" width="3.8" height="3.8"/><rect x="72.7" y="48.6" width="3.8" height="3.8"/><rect x="73.3" y="48.7" width="3.8" height="3.8"/><rect x="72.6" y="46.7" width="3.8" height="3.8"/><rect x="72.9" y="49.2" width="3.8" height="3.8"/><rect x="73.0" y="46.1" width="3.8" height="3.8"/><rect x="73.5" y="48.1" width="3.8" height="3.8"/><rect x="73.4" y="50.7" width="3.8" height="3.8"/><rect x="73.6" y="49.2" width="3.8" height="3.8"/><rect x="73.8" y="49.3" width="3.8" height="3.8"/><rect x="73.8" y="49.3" width="3.8" height="3.8"/><rect x="73.8" y="50.1" width="3.8" height="3.8"/><rect x="74.0" y="50.9" width="3.8" height="3.8"/><rect x="73.6" y="53.2" width="3.8" height="3.8"/><rect x="74.3" y="52.1" width="3.8" height="3.8"/><rect x="74.4" y="53.2" width="3.8" height="3.8"/><rect x="74.1" y="51.2" width="3.8" height="3.8"/><rect x="74.2" y="50.6" width="3.8" height="3.8"/><rect x="74.5" y="53.5" width="3.8" height="3.8"/><rect x="74.4" y="50.6" width="3.8" height="3.8"/><rect x="74.3" y="52.9" width="3.8" height="3.8"/><rect x="74.4" y="48.7" width="3.8" height="3.8"/><rect x="75.1" y="57.4" width="3.8" height="3.8"/><rect x="75.1" y="53.3" width="3.8" height="3.8"/><rect x="74.9" y="53.0" width="3.8" height="3.8"/><rect x="75.4" y="52.8" width="3.8" height="3.8"/><rect x="74.8" y="55.0" width="3.8" height="3.8"/><rect x="74.5" y="55.6" width="3.8" height="3.8"/><rect x="74.7" y="56.0" width="3.8" height="3.8"/><rect x="75.0" y="55.5" width="3.8" height="3.8"/><rect x="75.2" y="56.1" width="3.8" height="3.8"/><rect x="75.7" y="57.2" width="3.8" height="3.8"/><rect x="75.0" y="57.7" width="3.8" height="3.8"/><rect x="75.3" y="57.9" width="3.8" height="3.8"/><rect x="75.2" y="58.9" width="3.8" height="3.8"/><rect x="75.5" y="59.2" width="3.8" height="3.8"/><rect x="75.3" y="60.9" width="3.8" height="3.8"/><rect x="75.7" y="60.2" width="3.8" height="3.8"/><rect x="76.1" y="58.4" width="3.8" height="3.8"/><rect x="75.2" y="61.4" width="3.8" height="3.8"/><rect x="76.2" y="58.9" width="3.8" height="3.8"/><rect x="76.0" y="60.2" width="3.8" height="3.8"/><rect x="75.5" y="61.0" width="3.8" height="3.8"/><rect x="75.6" y="61.5" width="3.8" height="3.8"/><rect x="76.3" y="64.3" width="3.8" height="3.8"/><rect x="76.3" y="59.3" width="3.8" height="3.8"/><rect x="75.8" y="62.7" width="3.8" height="3.8"/><rect x="76.3" y="61.5" width="3.8" height="3.8"/><rect x="75.7" y="61.2" width="3.8" height="3.8"/><rect x="76.5" y="66.2" width="3.8" height="3.8"/><rect x="76.3" y="64.9" width="3.8" height="3.8"/><rect x="75.9" y="66.3" width="3.8" height="3.8"/><rect x="76.1" y="62.5" width="3.8" height="3.8"/><rect x="76.0" y="65.9" width="3.8" height="3.8"/><rect x="76.0" y="65.3" width="3.8" height="3.8"/><rect x="76.4" y="65.2" width="3.8" height="3.8"/><rect x="77.0" y="64.5" width="3.8" height="3.8"/><rect x="76.8" y="66.9" width="3.8" height="3.8"/><rect x="76.5" y="66.6" width="3.8" height="3.8"/><rect x="77.0" y="67.0" width="3.8" height="3.8"/><rect x="76.4" y="66.5" width="3.8" height="3.8"/><rect x="76.7" y="67.6" width="3.8" height="3.8"/><rect x="77.1" y="68.4" width="3.8" height="3.8"/><rect x="76.3" y="65.7" width="3.8" height="3.8"/><rect x="76.9" y="68.6" width="3.8" height="3.8"/><rect x="76.8" y="68.0" width="3.8" height="3.8"/><rect x="76.7" y="67.7" width="3.8" height="3.8"/><rect x="76.8" y="70.6" width="3.8" height="3.8"/><rect x="76.5" y="69.2" width="3.8" height="3.8"/><rect x="77.1" y="68.9" width="3.8" height="3.8"/><rect x="76.8" y="69.0" width="3.8" height="3.8"/><rect x="77.5" y="69.9" width="3.8" height="3.8"/><rect x="77.1" y="70.9" width="3.8" height="3.8"/><rect x="77.2" y="69.8" width="3.8" height="3.8"/><rect x="77.4" y="69.7" width="3.8" height="3.8"/><rect x="77.5" y="70.1" width="3.8" height="3.8"/><rect x="77.4" y="69.5" width="3.8" height="3.8"/><rect x="77.2" y="71.4" width="3.8" height="3.8"/><rect x="76.7" y="70.8" width="3.8" height="3.8"/><rect x="77.2" y="72.4" width="3.8" height="3.8"/><rect x="77.1" y="73.9" width="3.8" height="3.8"/><rect x="76.8" y="74.2" width="3.8" height="3.8"/><rect x="77.4" y="73.6" width="3.8" height="3.8"/><rect x="77.2" y="74.7" width="3.8" height="3.8"/><rect x="77.6" y="70.7" width="3.8" height="3.8"/><rect x="77.9" y="74.2" width="3.8" height="3.8"/><rect x="77.5" y="74.4" width="3.8" height="3.8"/><rect x="77.3" y="74.9" width="3.8" height="3.8"/><rect x="77.1" y="72.4" width="3.8" height="3.8"/><rect x="77.3" y="75.6" width="3.8" height="3.8"/><rect x="77.2" y="75.1" width="3.8" height="3.8"/><rect x="77.5" y="78.0" width="3.8" height="3.8"/><rect x="77.7" y="79.2" width="3.8" height="3.8"/><rect x="77.8" y="79.2" width="3.8" height="3.8"/><rect x="77.9" y="79.3" width="3.8" height="3.8"/><rect x="77.3" y="77.4" width="3.8" height="3.8"/><rect x="78.0" y="76.3" width="3.8" height="3.8"/><rect x="77.5" y="78.6" width="3.8" height="3.8"/><rect x="77.9" y="76.6" width="3.8" height="3.8"/><rect x="77.2" y="78.2" width="3.8" height="3.8"/><rect x="77.6" y="78.0" width="3.8" height="3.8"/><rect x="77.7" y="80.0" width="3.8" height="3.8"/><rect x="78.1" y="76.1" width="3.8" height="3.8"/><rect x="77.9" y="80.3" width="3.8" height="3.8"/><rect x="77.4" y="79.3" width="3.8" height="3.8"/><rect x="78.0" y="82.7" width="3.8" height="3.8"/><rect x="77.8" y="80.7" width="3.8" height="3.8"/><rect x="77.9" y="81.3" width="3.8" height="3.8"/><rect x="78.0" y="82.1" width="3.8" height="3.8"/><rect x="78.1" y="83.3" width="3.8" height="3.8"/><rect x="77.8" y="86.4" width="3.8" height="3.8"/><rect x="77.9" y="84.8" width="3.8" height="3.8"/><rect x="77.8" y="83.7" width="3.8" height="3.8"/><rect x="78.4" y="83.0" width="3.8" height="3.8"/><rect x="78.1" y="85.3" width="3.8" height="3.8"/><rect x="77.5" y="84.3" width="3.8" height="3.8"/><rect x="78.4" y="86.1" width="3.8" height="3.8"/><rect x="77.6" y="87.1" width="3.8" height="3.8"/><rect x="77.6" y="90.2" width="3.8" height="3.8"/><rect x="78.4" y="88.3" width="3.8" height="3.8"/><rect x="78.1" y="86.4" width="3.8" height="3.8"/><rect x="77.8" y="90.0" width="3.8" height="3.8"/><rect x="77.6" y="89.1" width="3.8" height="3.8"/><rect x="77.9" y="89.8" width="3.8" height="3.8"/><rect x="77.9" y="93.1" width="3.8" height="3.8"/><rect x="77.8" y="88.5" width="3.8" height="3.8"/><rect x="77.8" y="89.2" width="3.8" height="3.8"/><rect x="78.3" y="90.4" width="3.8" height="3.8"/><rect x="77.8" y="90.2" width="3.8" height="3.8"/><rect x="77.7" y="93.0" width="3.8" height="3.8"/><rect x="78.4" y="91.7" width="3.8" height="3.8"/><rect x="78.1" y="90.2" width="3.8" height="3.8"/><rect x="77.8" y="90.4" width="3.8" height="3.8"/><rect x="78.2" y="92.3" width="3.8" height="3.8"/><rect x="78.0" y="90.9" width="3.8" height="3.8"/><rect x="78.5" y="92.7" width="3.8" height="3.8"/><rect x="78.0" y="94.2" width="3.8" height="3.8"/><rect x="77.7" y="93.7" width="3.8" height="3.8"/><rect x="77.8" y="93.5" width="3.8" height="3.8"/><rect x="78.4" y="95.3" width="3.8" height="3.8"/><rect x="78.4" y="95.0" width="3.8" height="3.8"/><rect x="78.7" y="95.3" width="3.8" height="3.8"/><rect x="78.5" y="96.9" width="3.8" height="3.8"/><rect x="78.2" y="95.7" width="3.8" height="3.8"/><rect x="77.8" y="96.5" width="3.8" height="3.8"/><rect x="77.9" y="95.5" width="3.8" height="3.8"/><rect x="78.0" y="96.3" width="3.8" height="3.8"/><rect x="77.9" y="96.1" width="3.8" height="3.8"/><rect x="78.2" y="93.5" width="3.8" height="3.8"/><rect x="78.1" y="96.7" width="3.8" height="3.8"/><rect x="78.7" y="96.5" width="3.8" height="3.8"/><rect x="78.2" y="97.7" width="3.8" height="3.8"/><rect x="78.3" y="97.5" width="3.8" height="3.8"/><rect x="78.3" y="99.5" width="3.8" height="3.8"/><rect x="78.5" y="96.4" width="3.8" height="3.8"/><rect x="78.8" y="97.8" width="3.8" height="3.8"/><rect x="78.3" y="97.9" width="3.8" height="3.8"/><rect x="78.4" y="99.0" width="3.8" height="3.8"/><rect x="79.0" y="101.0" width="3.8" height="3.8"/><rect x="78.6" y="101.0" width="3.8" height="3.8"/><rect x="78.4" y="100.9" width="3.8" height="3.8"/><rect x="78.9" y="101.8" width="3.8" height="3.8"/><rect x="79.0" y="102.9" width="3.8" height="3.8"/><rect x="78.7" y="101.0" width="3.8" height="3.8"/><rect x="78.1" y="101.8" width="3.8" height="3.8"/><rect x="79.0" y="100.3" width="3.8" height="3.8"/><rect x="78.4" y="101.5" width="3.8" height="3.8"/><rect x="78.9" y="101.4" width="3.8" height="3.8"/><rect x="78.7" y="101.5" width="3.8" height="3.8"/><rect x="78.8" y="102.7" width="3.8" height="3.8"/><rect x="78.5" y="103.3" width="3.8" height="3.8"/><rect x="78.7" y="103.3" width="3.8" height="3.8"/><rect x="78.5" y="106.1" width="3.8" height="3.8"/><rect x="78.8" y="106.6" width="3.8" height="3.8"/><rect x="79.1" y="104.2" width="3.8" height="3.8"/><rect x="78.8" y="103.9" width="3.8" height="3.8"/><rect x="79.2" y="103.5" width="3.8" height="3.8"/><rect x="78.7" y="106.8" width="3.8" height="3.8"/><rect x="78.5" y="105.8" width="3.8" height="3.8"/><rect x="79.2" y="106.5" width="3.8" height="3.8"/><rect x="78.8" y="107.0" width="3.8" height="3.8"/><rect x="79.1" y="105.8" width="3.8" height="3.8"/><rect x="79.2" y="107.8" width="3.8" height="3.8"/><rect x="79.1" y="106.1" width="3.8" height="3.8"/><rect x="78.8" y="108.1" width="3.8" height="3.8"/><rect x="78.7" y="110.0" width="3.8" height="3.8"/><rect x="78.5" y="109.8" width="3.8" height="3.8"/><rect x="78.8" y="110.7" width="3.8" height="3.8"/><rect x="79.1" y="113.3" width="3.8" height="3.8"/><rect x="78.7" y="108.4" width="3.8" height="3.8"/><rect x="78.9" y="113.4" width="3.8" height="3.8"/><rect x="79.3" y="112.4" width="3.8" height="3.8"/><rect x="79.0" y="110.4" width="3.8" height="3.8"/><rect x="79.0" y="109.3" width="3.8" height="3.8"/><rect x="79.6" y="110.6" width="3.8" height="3.8"/><rect x="79.0" y="111.5" width="3.8" height="3.8"/><rect x="79.4" y="111.5" width="3.8" height="3.8"/><rect x="79.6" y="113.9" width="3.8" height="3.8"/><rect x="78.7" y="111.4" width="3.8" height="3.8"/><rect x="79.5" y="112.1" width="3.8" height="3.8"/><rect x="79.1" y="114.3" width="3.8" height="3.8"/><rect x="79.2" y="114.4" width="3.8" height="3.8"/><rect x="79.2" y="115.9" width="3.8" height="3.8"/><rect x="79.5" y="114.4" width="3.8" height="3.8"/><rect x="78.9" y="114.0" width="3.8" height="3.8"/><rect x="78.9" y="117.3" width="3.8" height="3.8"/><rect x="78.9" y="116.5" width="3.8" height="3.8"/><rect x="79.5" y="114.8" width="3.8" height="3.8"/><rect x="79.3" y="112.1" width="3.8" height="3.8"/><rect x="79.7" y="113.9" width="3.8" height="3.8"/><rect x="79.2" y="116.3" width="3.8" height="3.8"/><rect x="79.2" y="117.4" width="3.8" height="3.8"/><rect x="79.8" y="118.7" width="3.8" height="3.8"/><rect x="79.4" y="117.1" width="3.8" height="3.8"/><rect x="79.8" y="119.6" width="3.8" height="3.8"/><rect x="79.2" y="116.1" width="3.8" height="3.8"/><rect x="79.5" y="117.6" width="3.8" height="3.8"/><rect x="79.6" y="118.5" width="3.8" height="3.8"/><rect x="79.9" y="122.0" width="3.8" height="3.8"/><rect x="79.1" y="119.5" width="3.8" height="3.8"/><rect x="79.6" y="121.2" width="3.8" height="3.8"/><rect x="79.3" y="122.7" width="3.8" height="3.8"/><rect x="79.9" y="120.4" width="3.8" height="3.8"/><rect x="79.5" y="122.7" width="3.8" height="3.8"/><rect x="79.7" y="122.0" width="3.8" height="3.8"/><rect x="80.0" y="124.0" width="3.8" height="3.8"/><rect x="80.1" y="121.2" width="3.8" height="3.8"/><rect x="79.8" y="122.6" width="3.8" height="3.8"/><rect x="79.4" y="124.2" width="3.8" height="3.8"/><rect x="80.1" y="125.6" width="3.8" height="3.8"/><rect x="80.0" y="126.0" width="3.8" height="3.8"/><rect x="79.6" y="124.8" width="3.8" height="3.8"/><rect x="79.9" y="126.2" width="3.8" height="3.8"/><rect x="79.3" y="126.3" width="3.8" height="3.8"/><rect x="79.5" y="126.1" width="3.8" height="3.8"/><rect x="79.9" y="129.2" width="3.8" height="3.8"/><rect x="80.1" y="130.0" width="3.8" height="3.8"/><rect x="80.1" y="128.8" width="3.8" height="3.8"/><rect x="79.7" y="127.5" width="3.8" height="3.8"/><rect x="79.4" y="127.4" width="3.8" height="3.8"/><rect x="80.1" y="126.3" width="3.8" height="3.8"/><rect x="80.2" y="131.6" width="3.8" height="3.8"/><rect x="80.3" y="131.5" width="3.8" height="3.8"/><rect x="79.7" y="128.0" width="3.8" height="3.8"/><rect x="80.4" y="132.2" width="3.8" height="3.8"/><rect x="80.0" y="131.7" width="3.8" height="3.8"/><rect x="79.5" y="131.5" width="3.8" height="3.8"/><rect x="80.3" y="132.3" width="3.8" height="3.8"/><rect x="80.1" y="135.0" width="3.8" height="3.8"/><rect x="79.8" y="133.8" width="3.8" height="3.8"/><rect x="79.9" y="131.4" width="3.8" height="3.8"/><rect x="79.7" y="132.7" width="3.8" height="3.8"/><rect x="79.8" y="134.0" width="3.8" height="3.8"/><rect x="80.1" y="133.9" width="3.8" height="3.8"/><rect x="79.6" y="131.6" width="3.8" height="3.8"/><rect x="79.7" y="133.0" width="3.8" height="3.8"/><rect x="80.0" y="132.6" width="3.8" height="3.8"/><rect x="79.8" y="135.5" width="3.8" height="3.8"/><rect x="80.0" y="135.6" width="3.8" height="3.8"/><rect x="79.8" y="136.4" width="3.8" height="3.8"/><rect x="80.2" y="135.6" width="3.8" height="3.8"/><rect x="79.8" y="133.2" width="3.8" height="3.8"/><rect x="80.2" y="134.5" width="3.8" height="3.8"/><rect x="79.9" y="135.8" width="3.8" height="3.8"/><rect x="80.0" y="136.3" width="3.8" height="3.8"/><rect x="79.8" y="137.2" width="3.8" height="3.8"/><rect x="80.3" y="135.1" width="3.8" height="3.8"/><rect x="80.0" y="135.7" width="3.8" height="3.8"/><rect x="79.8" y="135.1" width="3.8" height="3.8"/><rect x="80.7" y="137.5" width="3.8" height="3.8"/><rect x="80.4" y="136.6" width="3.8" height="3.8"/><rect x="80.6" y="139.2" width="3.8" height="3.8"/><rect x="80.8" y="138.6" width="3.8" height="3.8"/><rect x="80.5" y="137.3" width="3.8" height="3.8"/><rect x="80.7" y="135.3" width="3.8" height="3.8"/><rect x="80.8" y="139.1" width="3.8" height="3.8"/><rect x="80.3" y="139.2" width="3.8" height="3.8"/><rect x="80.6" y="140.4" width="3.8" height="3.8"/><rect x="80.2" y="140.7" width="3.8" height="3.8"/><rect x="80.3" y="144.4" width="3.8" height="3.8"/><rect x="80.5" y="138.0" width="3.8" height="3.8"/><rect x="80.8" y="140.5" width="3.8" height="3.8"/><rect x="80.2" y="138.6" width="3.8" height="3.8"/><rect x="80.1" y="140.6" width="3.8" height="3.8"/><rect x="81.0" y="139.6" width="3.8" height="3.8"/><rect x="80.8" y="142.6" width="3.8" height="3.8"/><rect x="81.0" y="142.7" width="3.8" height="3.8"/><rect x="80.7" y="140.1" width="3.8" height="3.8"/><rect x="80.9" y="143.4" width="3.8" height="3.8"/><rect x="81.9" y="139.3" width="3.8" height="3.8"/><rect x="81.9" y="141.9" width="3.8" height="3.8"/><rect x="81.2" y="143.1" width="3.8" height="3.8"/><rect x="82.3" y="143.3" width="3.8" height="3.8"/><rect x="82.5" y="144.8" width="3.8" height="3.8"/><rect x="82.2" y="143.7" width="3.8" height="3.8"/><rect x="83.7" y="144.0" width="3.8" height="3.8"/><rect x="83.4" y="142.0" width="3.8" height="3.8"/><rect x="83.1" y="141.1" width="3.8" height="3.8"/><rect x="83.6" y="143.6" width="3.8" height="3.8"/><rect x="84.4" y="143.8" width="3.8" height="3.8"/><rect x="84.2" y="142.6" width="3.8" height="3.8"/><rect x="85.0" y="145.4" width="3.8" height="3.8"/><rect x="84.7" y="142.7" width="3.8" height="3.8"/><rect x="85.3" y="142.4" width="3.8" height="3.8"/><rect x="85.7" y="144.7" width="3.8" height="3.8"/><rect x="85.8" y="144.4" width="3.8" height="3.8"/><rect x="86.6" y="144.2" width="3.8" height="3.8"/><rect x="87.2" y="146.4" width="3.8" height="3.8"/><rect x="87.6" y="144.4" width="3.8" height="3.8"/><rect x="87.6" y="146.3" width="3.8" height="3.8"/><rect x="88.1" y="147.1" width="3.8" height="3.8"/><rect x="88.1" y="146.3" width="3.8" height="3.8"/><rect x="87.9" y="145.9" width="3.8" height="3.8"/><rect x="89.5" y="145.1" width="3.8" height="3.8"/><rect x="89.5" y="146.3" width="3.8" height="3.8"/><rect x="88.7" y="145.4" width="3.8" height="3.8"/><rect x="90.0" y="145.0" width="3.8" height="3.8"/><rect x="90.1" y="144.3" width="3.8" height="3.8"/><rect x="90.5" y="144.7" width="3.8" height="3.8"/><rect x="90.7" y="147.1" width="3.8" height="3.8"/><rect x="91.0" y="144.2" width="3.8" height="3.8"/><rect x="91.5" y="145.7" width="3.8" height="3.8"/><rect x="91.9" y="147.5" width="3.8" height="3.8"/><rect x="91.7" y="147.8" width="3.8" height="3.8"/><rect x="92.2" y="146.5" width="3.8" height="3.8"/><rect x="93.2" y="145.0" width="3.8" height="3.8"/><rect x="93.1" y="147.8" width="3.8" height="3.8"/><rect x="93.6" y="144.0" width="3.8" height="3.8"/><rect x="94.0" y="147.0" width="3.8" height="3.8"/><rect x="93.9" y="144.3" width="3.8" height="3.8"/><rect x="94.2" y="146.0" width="3.8" height="3.8"/><rect x="94.7" y="141.4" width="3.8" height="3.8"/><rect x="95.3" y="144.0" width="3.8" height="3.8"/><rect x="94.9" y="145.4" width="3.8" height="3.8"/><rect x="96.6" y="145.5" width="3.8" height="3.8"/><rect x="96.5" y="144.5" width="3.8" height="3.8"/><rect x="95.9" y="144.0" width="3.8" height="3.8"/><rect x="97.0" y="142.3" width="3.8" height="3.8"/><rect x="96.8" y="147.3" width="3.8" height="3.8"/><rect x="97.1" y="146.0" width="3.8" height="3.8"/><rect x="97.9" y="145.9" width="3.8" height="3.8"/><rect x="98.2" y="146.5" width="3.8" height="3.8"/><rect x="98.4" y="144.3" width="3.8" height="3.8"/><rect x="99.1" y="144.6" width="3.8" height="3.8"/><rect x="99.4" y="147.0" width="3.8" height="3.8"/><rect x="99.4" y="143.9" width="3.8" height="3.8"/><rect x="99.9" y="144.9" width="3.8" height="3.8"/><rect x="100.4" y="145.4" width="3.8" height="3.8"/><rect x="100.0" y="145.1" width="3.8" height="3.8"/><rect x="101.2" y="146.5" width="3.8" height="3.8"/><rect x="101.4" y="144.2" width="3.8" height="3.8"/><rect x="101.5" y="144.5" width="3.8" height="3.8"/><rect x="102.4" y="143.6" width="3.8" height="3.8"/><rect x="102.1" y="144.8" width="3.8" height="3.8"/><rect x="102.3" y="144.7" width="3.8" height="3.8"/><rect x="102.7" y="142.6" width="3.8" height="3.8"/><rect x="103.3" y="144.9" width="3.8" height="3.8"/><rect x="103.0" y="143.0" width="3.8" height="3.8"/><rect x="104.4" y="144.3" width="3.8" height="3.8"/><rect x="104.4" y="143.2" width="3.8" height="3.8"/><rect x="104.5" y="145.7" width="3.8" height="3.8"/><rect x="105.2" y="144.2" width="3.8" height="3.8"/><rect x="105.3" y="143.2" width="3.8" height="3.8"/><rect x="104.9" y="145.4" width="3.8" height="3.8"/><rect x="105.9" y="144.6" width="3.8" height="3.8"/><rect x="106.3" y="145.4" width="3.8" height="3.8"/><rect x="106.4" y="143.0" width="3.8" height="3.8"/><rect x="107.4" y="145.3" width="3.8" height="3.8"/><rect x="106.7" y="145.4" width="3.8" height="3.8"/><rect x="106.7" y="143.6" width="3.8" height="3.8"/><rect x="107.6" y="146.0" width="3.8" height="3.8"/><rect x="108.2" y="145.1" width="3.8" height="3.8"/><rect x="107.9" y="144.8" width="3.8" height="3.8"/><rect x="108.8" y="147.1" width="3.8" height="3.8"/><rect x="108.6" y="143.6" width="3.8" height="3.8"/><rect x="108.6" y="144.3" width="3.8" height="3.8"/><rect x="110.2" y="145.6" width="3.8" height="3.8"/><rect x="110.1" y="144.1" width="3.8" height="3.8"/><rect x="109.8" y="149.0" width="3.8" height="3.8"/><rect x="111.6" y="142.9" width="3.8" height="3.8"/><rect x="111.1" y="148.5" width="3.8" height="3.8"/><rect x="111.1" y="144.0" width="3.8" height="3.8"/><rect x="111.9" y="145.1" width="3.8" height="3.8"/><rect x="111.8" y="145.9" width="3.8" height="3.8"/><rect x="112.1" y="143.7" width="3.8" height="3.8"/><rect x="112.8" y="145.0" width="3.8" height="3.8"/><rect x="113.6" y="146.9" width="3.8" height="3.8"/><rect x="113.5" y="147.1" width="3.8" height="3.8"/><rect x="113.7" y="145.0" width="3.8" height="3.8"/><rect x="114.3" y="145.2" width="3.8" height="3.8"/><rect x="113.9" y="144.5" width="3.8" height="3.8"/><rect x="115.6" y="145.3" width="3.8" height="3.8"/><rect x="115.0" y="145.8" width="3.8" height="3.8"/><rect x="115.4" y="144.8" width="3.8" height="3.8"/><rect x="115.8" y="146.0" width="3.8" height="3.8"/><rect x="116.5" y="144.1" width="3.8" height="3.8"/><rect x="116.1" y="146.0" width="3.8" height="3.8"/><rect x="117.2" y="144.6" width="3.8" height="3.8"/><rect x="116.6" y="145.5" width="3.8" height="3.8"/><rect x="117.3" y="149.3" width="3.8" height="3.8"/><rect x="118.3" y="143.4" width="3.8" height="3.8"/><rect x="117.7" y="147.0" width="3.8" height="3.8"/><rect x="117.8" y="144.1" width="3.8" height="3.8"/><rect x="119.4" y="145.6" width="3.8" height="3.8"/><rect x="119.5" y="143.7" width="3.8" height="3.8"/><rect x="118.7" y="144.3" width="3.8" height="3.8"/><rect x="120.1" y="145.4" width="3.8" height="3.8"/><rect x="120.5" y="145.3" width="3.8" height="3.8"/><rect x="119.7" y="145.4" width="3.8" height="3.8"/><rect x="121.1" y="144.3" width="3.8" height="3.8"/><rect x="121.0" y="145.0" width="3.8" height="3.8"/><rect x="121.3" y="147.5" width="3.8" height="3.8"/><rect x="122.3" y="146.0" width="3.8" height="3.8"/><rect x="122.3" y="145.3" width="3.8" height="3.8"/><rect x="121.7" y="147.9" width="3.8" height="3.8"/><rect x="122.8" y="147.0" width="3.8" height="3.8"/><rect x="123.4" y="145.9" width="3.8" height="3.8"/><rect x="123.2" y="145.9" width="3.8" height="3.8"/><rect x="124.6" y="146.0" width="3.8" height="3.8"/><rect x="123.8" y="145.5" width="3.8" height="3.8"/><rect x="123.8" y="144.4" width="3.8" height="3.8"/><rect x="125.5" y="144.9" width="3.8" height="3.8"/><rect x="125.4" y="145.8" width="3.8" height="3.8"/><rect x="125.6" y="144.8" width="3.8" height="3.8"/></g>
<path d="M74.6,74.5L76.1,76.2L74.6,77.9L73.1,76.2Z" fill="#000"/>
<path d="M75,79.1L76.5,80.8L75,82.5L73.5,80.8Z" fill="#000"/>
<path d="M75.3,83.8L76.8,85.5L75.3,87.2L73.8,85.5Z" fill="#000"/>
<path d="M75.6,88.3L77.1,90L75.6,91.7L74.1,90Z" fill="#000"/>
<path d="M76,93.3L77.5,95L76,96.7L74.5,95Z" fill="#000"/>
<path d="M76.3,99.3L77.8,101L76.3,102.7L74.8,101Z" fill="#000"/>
<path d="M76.6,104.3L78.1,106L76.6,107.7L75.1,106Z" fill="#000"/>
<path d="M76.8,109.3L78.3,111L76.8,112.7L75.3,111Z" fill="#000"/>
<path d="M77,114.3L78.5,116L77,117.7L75.5,116Z" fill="#000"/>
<path d="M77,119.3L78.5,121L77,122.7L75.5,121Z" fill="#000"/>
<path d="M77.2,124.3L78.7,126L77.2,127.7L75.7,126Z" fill="#000"/>
<path d="M77.3,129.3L78.8,131L77.3,132.7L75.8,131Z" fill="#000"/>
<path d="M77.4,134.3L78.9,136L77.4,137.7L75.9,136Z" fill="#000"/>
<g fill="#b4b4b4"><rect x="134.8" y="146.2" width="3.8" height="3.8"/><rect x="135.5" y="146.7" width="3.8" height="3.8"/><rect x="135.9" y="147.1" width="3.8" height="3.8"/><rect x="135.9" y="145.9" width="3.8" height="3.8"/><rect x="136.2" y="147.2" width="3.8" height="3.8"/><rect x="136.5" y="146.2" width="3.8" height="3.8"/><rect x="137.7" y="144.7" width="3.8" height="3.8"/><rect x="137.3" y="146.2" width="3.8" height="3.8"/><rect x="138.0" y="147.2" width="3.8" height="3.8"/><rect x="138.0" y="146.8" width="3.8" height="3.8"/><rect x="138.8" y="141.2" width="3.8" height="3.8"/><rect x="138.3" y="142.8" width="3.8" height="3.8"/><rect x="138.9" y="145.3" width="3.8" height="3.8"/><rect x="138.3" y="143.0" width="3.8" height="3.8"/><rect x="139.1" y="140.3" width="3.8" height="3.8"/><rect x="139.0" y="140.5" width="3.8" height="3.8"/><rect x="139.7" y="141.0" width="3.8" height="3.8"/><rect x="139.7" y="137.7" width="3.8" height="3.8"/><rect x="139.7" y="136.7" width="3.8" height="3.8"/><rect x="139.4" y="140.0" width="3.8" height="3.8"/><rect x="139.9" y="137.3" width="3.8" height="3.8"/><rect x="139.7" y="138.7" width="3.8" height="3.8"/><rect x="140.8" y="137.2" width="3.8" height="3.8"/><rect x="140.7" y="139.5" width="3.8" height="3.8"/><rect x="140.4" y="136.2" width="3.8" height="3.8"/><rect x="141.1" y="136.5" width="3.8" height="3.8"/><rect x="141.2" y="136.7" width="3.8" height="3.8"/><rect x="141.3" y="134.4" width="3.8" height="3.8"/><rect x="141.1" y="133.1" width="3.8" height="3.8"/><rect x="141.7" y="133.1" width="3.8" height="3.8"/><rect x="141.6" y="131.9" width="3.8" height="3.8"/><rect x="141.4" y="133.8" width="3.8" height="3.8"/><rect x="141.4" y="131.2" width="3.8" height="3.8"/><rect x="141.3" y="131.9" width="3.8" height="3.8"/><rect x="141.8" y="126.3" width="3.8" height="3.8"/><rect x="142.3" y="129.1" width="3.8" height="3.8"/><rect x="142.4" y="128.3" width="3.8" height="3.8"/><rect x="142.4" y="128.6" width="3.8" height="3.8"/><rect x="143.4" y="128.0" width="3.8" height="3.8"/><rect x="143.4" y="128.1" width="3.8" height="3.8"/><rect x="143.5" y="128.4" width="3.8" height="3.8"/><rect x="143.5" y="127.3" width="3.8" height="3.8"/><rect x="144.3" y="126.9" width="3.8" height="3.8"/><rect x="144.2" y="128.1" width="3.8" height="3.8"/><rect x="145.3" y="124.8" width="3.8" height="3.8"/><rect x="145.5" y="127.3" width="3.8" height="3.8"/><rect x="146.4" y="125.9" width="3.8" height="3.8"/><rect x="146.5" y="126.8" width="3.8" height="3.8"/><rect x="146.6" y="125.9" width="3.8" height="3.8"/><rect x="147.3" y="127.4" width="3.8" height="3.8"/><rect x="147.7" y="123.8" width="3.8" height="3.8"/><rect x="148.6" y="123.1" width="3.8" height="3.8"/><rect x="148.8" y="124.7" width="3.8" height="3.8"/><rect x="148.7" y="124.6" width="3.8" height="3.8"/><rect x="149.7" y="125.4" width="3.8" height="3.8"/><rect x="149.9" y="123.0" width="3.8" height="3.8"/><rect x="150.8" y="124.7" width="3.8" height="3.8"/><rect x="151.4" y="123.5" width="3.8" height="3.8"/><rect x="152.0" y="125.3" width="3.8" height="3.8"/><rect x="152.2" y="122.1" width="3.8" height="3.8"/><rect x="153.3" y="125.1" width="3.8" height="3.8"/><rect x="153.0" y="123.9" width="3.8" height="3.8"/><rect x="153.7" y="124.2" width="3.8" height="3.8"/><rect x="154.1" y="124.2" width="3.8" height="3.8"/><rect x="154.7" y="125.1" width="3.8" height="3.8"/><rect x="155.5" y="124.6" width="3.8" height="3.8"/><rect x="156.3" y="124.8" width="3.8" height="3.8"/><rect x="156.5" y="126.7" width="3.8" height="3.8"/><rect x="157.5" y="123.2" width="3.8" height="3.8"/><rect x="157.5" y="123.9" width="3.8" height="3.8"/><rect x="158.5" y="124.8" width="3.8" height="3.8"/><rect x="158.3" y="125.6" width="3.8" height="3.8"/><rect x="158.8" y="124.0" width="3.8" height="3.8"/><rect x="159.6" y="123.6" width="3.8" height="3.8"/><rect x="160.3" y="124.8" width="3.8" height="3.8"/><rect x="159.6" y="122.7" width="3.8" height="3.8"/><rect x="160.8" y="123.1" width="3.8" height="3.8"/><rect x="160.7" y="124.7" width="3.8" height="3.8"/><rect x="162.5" y="124.8" width="3.8" height="3.8"/><rect x="162.5" y="125.8" width="3.8" height="3.8"/><rect x="163.5" y="126.4" width="3.8" height="3.8"/><rect x="163.0" y="126.0" width="3.8" height="3.8"/><rect x="164.2" y="127.6" width="3.8" height="3.8"/><rect x="164.0" y="125.7" width="3.8" height="3.8"/><rect x="164.8" y="124.1" width="3.8" height="3.8"/><rect x="165.1" y="125.7" width="3.8" height="3.8"/><rect x="166.4" y="124.5" width="3.8" height="3.8"/><rect x="166.6" y="124.3" width="3.8" height="3.8"/><rect x="166.9" y="124.2" width="3.8" height="3.8"/><rect x="166.6" y="125.7" width="3.8" height="3.8"/><rect x="167.6" y="127.5" width="3.8" height="3.8"/><rect x="167.9" y="124.1" width="3.8" height="3.8"/><rect x="168.7" y="125.6" width="3.8" height="3.8"/><rect x="168.7" y="126.2" width="3.8" height="3.8"/><rect x="170.5" y="124.6" width="3.8" height="3.8"/><rect x="169.8" y="125.6" width="3.8" height="3.8"/><rect x="171.0" y="126.7" width="3.8" height="3.8"/><rect x="171.6" y="124.2" width="3.8" height="3.8"/><rect x="171.7" y="125.3" width="3.8" height="3.8"/><rect x="171.7" y="126.7" width="3.8" height="3.8"/><rect x="173.6" y="126.5" width="3.8" height="3.8"/><rect x="173.4" y="124.7" width="3.8" height="3.8"/><rect x="173.7" y="124.3" width="3.8" height="3.8"/><rect x="174.3" y="123.7" width="3.8" height="3.8"/><rect x="175.6" y="125.5" width="3.8" height="3.8"/><rect x="175.2" y="125.8" width="3.8" height="3.8"/><rect x="175.8" y="124.7" width="3.8" height="3.8"/><rect x="176.1" y="125.4" width="3.8" height="3.8"/><rect x="177.2" y="124.1" width="3.8" height="3.8"/><rect x="176.6" y="126.1" width="3.8" height="3.8"/><rect x="178.2" y="124.2" width="3.8" height="3.8"/><rect x="178.6" y="126.1" width="3.8" height="3.8"/><rect x="179.6" y="126.3" width="3.8" height="3.8"/><rect x="179.5" y="127.2" width="3.8" height="3.8"/><rect x="180.3" y="125.3" width="3.8" height="3.8"/><rect x="179.7" y="126.6" width="3.8" height="3.8"/><rect x="180.6" y="128.1" width="3.8" height="3.8"/><rect x="180.7" y="128.2" width="3.8" height="3.8"/><rect x="182.0" y="127.1" width="3.8" height="3.8"/><rect x="182.0" y="128.3" width="3.8" height="3.8"/><rect x="183.3" y="128.4" width="3.8" height="3.8"/><rect x="183.4" y="128.8" width="3.8" height="3.8"/><rect x="184.3" y="125.7" width="3.8" height="3.8"/><rect x="183.8" y="127.1" width="3.8" height="3.8"/><rect x="185.4" y="124.4" width="3.8" height="3.8"/><rect x="185.2" y="124.9" width="3.8" height="3.8"/><rect x="186.3" y="126.7" width="3.8" height="3.8"/><rect x="185.7" y="127.3" width="3.8" height="3.8"/><rect x="186.6" y="126.4" width="3.8" height="3.8"/><rect x="187.6" y="127.2" width="3.8" height="3.8"/><rect x="188.6" y="128.6" width="3.8" height="3.8"/><rect x="187.9" y="125.8" width="3.8" height="3.8"/><rect x="189.0" y="126.1" width="3.8" height="3.8"/><rect x="188.7" y="126.5" width="3.8" height="3.8"/><rect x="189.7" y="123.7" width="3.8" height="3.8"/><rect x="190.1" y="124.2" width="3.8" height="3.8"/><rect x="191.3" y="124.6" width="3.8" height="3.8"/><rect x="191.0" y="124.8" width="3.8" height="3.8"/><rect x="192.0" y="123.5" width="3.8" height="3.8"/><rect x="191.3" y="123.6" width="3.8" height="3.8"/><rect x="192.9" y="123.8" width="3.8" height="3.8"/><rect x="192.8" y="122.8" width="3.8" height="3.8"/><rect x="193.6" y="123.9" width="3.8" height="3.8"/><rect x="193.7" y="123.4" width="3.8" height="3.8"/><rect x="194.5" y="123.1" width="3.8" height="3.8"/><rect x="194.2" y="122.9" width="3.8" height="3.8"/><rect x="195.5" y="120.7" width="3.8" height="3.8"/><rect x="195.1" y="121.5" width="3.8" height="3.8"/><rect x="195.9" y="122.6" width="3.8" height="3.8"/><rect x="196.5" y="124.4" width="3.8" height="3.8"/><rect x="197.0" y="120.9" width="3.8" height="3.8"/><rect x="196.7" y="121.5" width="3.8" height="3.8"/><rect x="198.1" y="122.8" width="3.8" height="3.8"/><rect x="198.1" y="123.4" width="3.8" height="3.8"/><rect x="199.1" y="122.0" width="3.8" height="3.8"/><rect x="199.3" y="119.0" width="3.8" height="3.8"/><rect x="199.7" y="119.3" width="3.8" height="3.8"/><rect x="200.3" y="121.2" width="3.8" height="3.8"/><rect x="201.3" y="120.8" width="3.8" height="3.8"/><rect x="201.0" y="116.9" width="3.8" height="3.8"/><rect x="202.2" y="120.5" width="3.8" height="3.8"/><rect x="201.9" y="120.2" width="3.8" height="3.8"/><rect x="202.7" y="119.7" width="3.8" height="3.8"/><rect x="203.2" y="119.8" width="3.8" height="3.8"/><rect x="204.4" y="119.0" width="3.8" height="3.8"/><rect x="203.7" y="119.6" width="3.8" height="3.8"/><rect x="205.4" y="119.5" width="3.8" height="3.8"/><rect x="204.7" y="119.8" width="3.8" height="3.8"/><rect x="206.4" y="118.9" width="3.8" height="3.8"/><rect x="206.0" y="119.2" width="3.8" height="3.8"/><rect x="207.6" y="118.8" width="3.8" height="3.8"/><rect x="206.9" y="118.0" width="3.8" height="3.8"/><rect x="208.1" y="118.0" width="3.8" height="3.8"/><rect x="208.1" y="116.0" width="3.8" height="3.8"/><rect x="208.8" y="115.5" width="3.8" height="3.8"/><rect x="208.7" y="116.5" width="3.8" height="3.8"/><rect x="209.9" y="111.8" width="3.8" height="3.8"/><rect x="210.5" y="116.1" width="3.8" height="3.8"/><rect x="210.9" y="117.3" width="3.8" height="3.8"/><rect x="211.0" y="116.6" width="3.8" height="3.8"/><rect x="211.6" y="114.5" width="3.8" height="3.8"/><rect x="212.6" y="112.7" width="3.8" height="3.8"/><rect x="212.9" y="113.0" width="3.8" height="3.8"/><rect x="213.0" y="114.1" width="3.8" height="3.8"/><rect x="213.8" y="116.0" width="3.8" height="3.8"/><rect x="214.5" y="114.3" width="3.8" height="3.8"/><rect x="215.4" y="117.4" width="3.8" height="3.8"/><rect x="215.3" y="114.7" width="3.8" height="3.8"/><rect x="216.3" y="111.8" width="3.8" height="3.8"/><rect x="216.1" y="115.0" width="3.8" height="3.8"/><rect x="217.4" y="112.5" width="3.8" height="3.8"/><rect x="217.5" y="115.3" width="3.8" height="3.8"/><rect x="218.3" y="114.0" width="3.8" height="3.8"/><rect x="218.1" y="113.9" width="3.8" height="3.8"/><rect x="219.4" y="115.2" width="3.8" height="3.8"/><rect x="218.8" y="112.9" width="3.8" height="3.8"/><rect x="219.9" y="115.6" width="3.8" height="3.8"/><rect x="219.7" y="113.8" width="3.8" height="3.8"/><rect x="221.1" y="112.3" width="3.8" height="3.8"/><rect x="221.4" y="114.1" width="3.8" height="3.8"/><rect x="222.5" y="110.2" width="3.8" height="3.8"/><rect x="221.9" y="113.2" width="3.8" height="3.8"/><rect x="223.2" y="112.0" width="3.8" height="3.8"/><rect x="223.1" y="111.0" width="3.8" height="3.8"/><rect x="224.3" y="112.4" width="3.8" height="3.8"/><rect x="224.6" y="113.2" width="3.8" height="3.8"/><rect x="224.6" y="114.5" width="3.8" height="3.8"/><rect x="225.0" y="112.3" width="3.8" height="3.8"/><rect x="226.1" y="112.6" width="3.8" height="3.8"/><rect x="225.8" y="109.8" width="3.8" height="3.8"/><rect x="227.5" y="110.8" width="3.8" height="3.8"/><rect x="227.0" y="110.2" width="3.8" height="3.8"/><rect x="227.8" y="111.5" width="3.8" height="3.8"/><rect x="227.8" y="112.8" width="3.8" height="3.8"/><rect x="228.7" y="110.7" width="3.8" height="3.8"/><rect x="229.6" y="108.8" width="3.8" height="3.8"/><rect x="230.5" y="108.3" width="3.8" height="3.8"/><rect x="230.0" y="109.6" width="3.8" height="3.8"/><rect x="231.1" y="110.3" width="3.8" height="3.8"/><rect x="231.5" y="111.5" width="3.8" height="3.8"/><rect x="232.2" y="110.8" width="3.8" height="3.8"/><rect x="232.0" y="111.1" width="3.8" height="3.8"/><rect x="233.0" y="110.5" width="3.8" height="3.8"/><rect x="233.1" y="109.7" width="3.8" height="3.8"/><rect x="234.3" y="109.4" width="3.8" height="3.8"/><rect x="234.1" y="108.5" width="3.8" height="3.8"/><rect x="234.8" y="106.8" width="3.8" height="3.8"/><rect x="235.3" y="108.4" width="3.8" height="3.8"/><rect x="235.9" y="109.0" width="3.8" height="3.8"/><rect x="236.5" y="105.2" width="3.8" height="3.8"/><rect x="237.4" y="108.0" width="3.8" height="3.8"/><rect x="236.7" y="106.1" width="3.8" height="3.8"/><rect x="237.9" y="108.0" width="3.8" height="3.8"/><rect x="237.8" y="107.0" width="3.8" height="3.8"/><rect x="238.8" y="106.8" width="3.8" height="3.8"/><rect x="238.7" y="107.9" width="3.8" height="3.8"/><rect x="239.8" y="106.6" width="3.8" height="3.8"/><rect x="240.1" y="108.0" width="3.8" height="3.8"/><rect x="241.2" y="107.5" width="3.8" height="3.8"/><rect x="240.8" y="109.1" width="3.8" height="3.8"/><rect x="242.0" y="106.9" width="3.8" height="3.8"/><rect x="242.3" y="108.6" width="3.8" height="3.8"/><rect x="243.2" y="110.0" width="3.8" height="3.8"/><rect x="243.4" y="107.9" width="3.8" height="3.8"/><rect x="244.5" y="106.2" width="3.8" height="3.8"/><rect x="244.2" y="108.0" width="3.8" height="3.8"/><rect x="244.7" y="104.1" width="3.8" height="3.8"/><rect x="245.5" y="107.4" width="3.8" height="3.8"/><rect x="245.9" y="107.6" width="3.8" height="3.8"/><rect x="245.8" y="105.6" width="3.8" height="3.8"/><rect x="246.6" y="105.5" width="3.8" height="3.8"/><rect x="247.1" y="105.6" width="3.8" height="3.8"/><rect x="247.9" y="103.9" width="3.8" height="3.8"/><rect x="248.1" y="106.0" width="3.8" height="3.8"/><rect x="249.4" y="106.9" width="3.8" height="3.8"/><rect x="249.0" y="104.9" width="3.8" height="3.8"/><rect x="250.1" y="105.7" width="3.8" height="3.8"/><rect x="249.8" y="107.0" width="3.8" height="3.8"/><rect x="250.7" y="106.1" width="3.8" height="3.8"/><rect x="250.7" y="106.1" width="3.8" height="3.8"/><rect x="252.3" y="105.4" width="3.8" height="3.8"/><rect x="252.2" y="103.3" width="3.8" height="3.8"/><rect x="253.0" y="108.0" width="3.8" height="3.8"/><rect x="253.3" y="107.3" width="3.8" height="3.8"/><rect x="254.5" y="105.7" width="3.8" height="3.8"/><rect x="253.6" y="104.1" width="3.8" height="3.8"/><rect x="255.3" y="105.6" width="3.8" height="3.8"/><rect x="254.7" y="105.8" width="3.8" height="3.8"/><rect x="256.3" y="106.4" width="3.8" height="3.8"/><rect x="256.0" y="105.1" width="3.8" height="3.8"/><rect x="257.6" y="105.8" width="3.8" height="3.8"/><rect x="257.3" y="105.2" width="3.8" height="3.8"/><rect x="258.0" y="104.8" width="3.8" height="3.8"/><rect x="258.3" y="104.4" width="3.8" height="3.8"/><rect x="259.2" y="104.4" width="3.8" height="3.8"/><rect x="259.5" y="102.7" width="3.8" height="3.8"/><rect x="260.5" y="104.8" width="3.8" height="3.8"/><rect x="259.7" y="101.0" width="3.8" height="3.8"/><rect x="260.6" y="103.5" width="3.8" height="3.8"/><rect x="261.4" y="102.1" width="3.8" height="3.8"/><rect x="262.0" y="101.4" width="3.8" height="3.8"/><rect x="262.0" y="100.8" width="3.8" height="3.8"/><rect x="263.2" y="102.3" width="3.8" height="3.8"/><rect x="263.0" y="102.8" width="3.8" height="3.8"/><rect x="264.4" y="105.3" width="3.8" height="3.8"/><rect x="263.9" y="100.4" width="3.8" height="3.8"/><rect x="264.8" y="104.8" width="3.8" height="3.8"/><rect x="265.1" y="102.7" width="3.8" height="3.8"/><rect x="266.5" y="103.7" width="3.8" height="3.8"/><rect x="266.2" y="103.0" width="3.8" height="3.8"/><rect x="267.5" y="101.9" width="3.8" height="3.8"/><rect x="267.4" y="103.3" width="3.8" height="3.8"/><rect x="268.5" y="100.5" width="3.8" height="3.8"/><rect x="268.3" y="102.9" width="3.8" height="3.8"/><rect x="269.3" y="103.0" width="3.8" height="3.8"/><rect x="269.3" y="102.0" width="3.8" height="3.8"/><rect x="270.5" y="103.3" width="3.8" height="3.8"/><rect x="270.4" y="102.0" width="3.8" height="3.8"/><rect x="271.0" y="101.1" width="3.8" height="3.8"/><rect x="271.1" y="101.9" width="3.8" height="3.8"/><rect x="272.3" y="103.9" width="3.8" height="3.8"/><rect x="272.3" y="101.7" width="3.8" height="3.8"/><rect x="272.8" y="98.8" width="3.8" height="3.8"/><rect x="272.6" y="99.2" width="3.8" height="3.8"/><rect x="274.5" y="100.6" width="3.8" height="3.8"/><rect x="274.3" y="99.6" width="3.8" height="3.8"/><rect x="274.8" y="100.6" width="3.8" height="3.8"/><rect x="275.4" y="98.8" width="3.8" height="3.8"/><rect x="275.9" y="99.6" width="3.8" height="3.8"/><rect x="276.4" y="100.6" width="3.8" height="3.8"/><rect x="277.5" y="97.7" width="3.8" height="3.8"/><rect x="277.6" y="98.4" width="3.8" height="3.8"/><rect x="278.5" y="96.5" width="3.8" height="3.8"/><rect x="278.4" y="97.2" width="3.8" height="3.8"/><rect x="279.1" y="95.9" width="3.8" height="3.8"/><rect x="279.6" y="97.4" width="3.8" height="3.8"/><rect x="280.2" y="95.7" width="3.8" height="3.8"/><rect x="280.1" y="96.8" width="3.8" height="3.8"/><rect x="281.2" y="97.2" width="3.8" height="3.8"/><rect x="281.2" y="97.3" width="3.8" height="3.8"/><rect x="282.6" y="97.3" width="3.8" height="3.8"/><rect x="282.6" y="96.6" width="3.8" height="3.8"/><rect x="282.6" y="95.5" width="3.8" height="3.8"/><rect x="282.7" y="95.4" width="3.8" height="3.8"/><rect x="284.5" y="95.7" width="3.8" height="3.8"/><rect x="284.2" y="95.1" width="3.8" height="3.8"/><rect x="285.0" y="94.8" width="3.8" height="3.8"/><rect x="284.9" y="97.1" width="3.8" height="3.8"/><rect x="285.7" y="97.1" width="3.8" height="3.8"/><rect x="286.1" y="95.7" width="3.8" height="3.8"/><rect x="287.3" y="94.0" width="3.8" height="3.8"/><rect x="287.6" y="94.7" width="3.8" height="3.8"/><rect x="287.6" y="91.5" width="3.8" height="3.8"/><rect x="288.2" y="95.7" width="3.8" height="3.8"/><rect x="289.2" y="94.3" width="3.8" height="3.8"/><rect x="288.6" y="93.3" width="3.8" height="3.8"/><rect x="289.7" y="94.0" width="3.8" height="3.8"/><rect x="290.1" y="92.7" width="3.8" height="3.8"/><rect x="291.3" y="93.1" width="3.8" height="3.8"/><rect x="291.4" y="93.9" width="3.8" height="3.8"/><rect x="291.9" y="93.6" width="3.8" height="3.8"/><rect x="292.6" y="93.8" width="3.8" height="3.8"/><rect x="293.3" y="93.2" width="3.8" height="3.8"/><rect x="293.3" y="92.2" width="3.8" height="3.8"/><rect x="293.9" y="93.1" width="3.8" height="3.8"/><rect x="294.2" y="93.2" width="3.8" height="3.8"/><rect x="295.2" y="93.8" width="3.8" height="3.8"/><rect x="295.0" y="92.4" width="3.8" height="3.8"/><rect x="296.0" y="92.3" width="3.8" height="3.8"/><rect x="296.4" y="94.1" width="3.8" height="3.8"/></g>
<g fill="#7c7c7c"><rect x="135.1" y="146.1" width="3.6" height="3.6"/><rect x="135.5" y="145.8" width="3.6" height="3.6"/><rect x="136.2" y="143.8" width="3.6" height="3.6"/><rect x="135.9" y="145.8" width="3.6" height="3.6"/><rect x="136.8" y="146.2" width="3.6" height="3.6"/><rect x="137.1" y="145.4" width="3.6" height="3.6"/><rect x="137.9" y="146.3" width="3.6" height="3.6"/><rect x="138.6" y="146.5" width="3.6" height="3.6"/><rect x="138.7" y="145.5" width="3.6" height="3.6"/><rect x="139.5" y="144.9" width="3.6" height="3.6"/><rect x="139.8" y="143.9" width="3.6" height="3.6"/><rect x="140.4" y="144.6" width="3.6" height="3.6"/><rect x="141.4" y="144.1" width="3.6" height="3.6"/><rect x="141.4" y="145.7" width="3.6" height="3.6"/><rect x="141.9" y="143.8" width="3.6" height="3.6"/><rect x="142.4" y="144.7" width="3.6" height="3.6"/><rect x="143.4" y="144.4" width="3.6" height="3.6"/><rect x="143.1" y="143.4" width="3.6" height="3.6"/><rect x="143.8" y="140.5" width="3.6" height="3.6"/><rect x="143.8" y="142.4" width="3.6" height="3.6"/><rect x="145.4" y="142.7" width="3.6" height="3.6"/><rect x="145.5" y="142.1" width="3.6" height="3.6"/><rect x="146.2" y="144.0" width="3.6" height="3.6"/><rect x="146.4" y="144.1" width="3.6" height="3.6"/><rect x="146.7" y="140.9" width="3.6" height="3.6"/><rect x="147.5" y="142.6" width="3.6" height="3.6"/><rect x="148.3" y="141.9" width="3.6" height="3.6"/><rect x="148.1" y="141.3" width="3.6" height="3.6"/><rect x="149.1" y="144.3" width="3.6" height="3.6"/><rect x="148.8" y="141.6" width="3.6" height="3.6"/><rect x="149.9" y="142.0" width="3.6" height="3.6"/><rect x="150.1" y="139.9" width="3.6" height="3.6"/><rect x="151.1" y="141.1" width="3.6" height="3.6"/><rect x="151.7" y="140.3" width="3.6" height="3.6"/><rect x="152.6" y="139.9" width="3.6" height="3.6"/><rect x="152.6" y="140.7" width="3.6" height="3.6"/><rect x="153.2" y="143.0" width="3.6" height="3.6"/><rect x="153.1" y="140.8" width="3.6" height="3.6"/><rect x="154.0" y="140.7" width="3.6" height="3.6"/><rect x="154.4" y="141.8" width="3.6" height="3.6"/><rect x="155.5" y="141.2" width="3.6" height="3.6"/><rect x="155.5" y="140.7" width="3.6" height="3.6"/><rect x="156.2" y="140.7" width="3.6" height="3.6"/><rect x="156.4" y="141.8" width="3.6" height="3.6"/><rect x="156.9" y="140.7" width="3.6" height="3.6"/><rect x="157.1" y="140.2" width="3.6" height="3.6"/><rect x="158.4" y="141.1" width="3.6" height="3.6"/><rect x="158.4" y="141.5" width="3.6" height="3.6"/><rect x="159.0" y="139.4" width="3.6" height="3.6"/><rect x="159.1" y="142.7" width="3.6" height="3.6"/><rect x="160.4" y="142.2" width="3.6" height="3.6"/><rect x="160.0" y="140.3" width="3.6" height="3.6"/><rect x="161.2" y="139.4" width="3.6" height="3.6"/><rect x="161.0" y="139.4" width="3.6" height="3.6"/><rect x="162.5" y="141.4" width="3.6" height="3.6"/><rect x="162.0" y="140.0" width="3.6" height="3.6"/><rect x="163.0" y="141.2" width="3.6" height="3.6"/><rect x="163.6" y="139.9" width="3.6" height="3.6"/><rect x="164.1" y="141.9" width="3.6" height="3.6"/><rect x="163.8" y="142.8" width="3.6" height="3.6"/><rect x="165.3" y="141.1" width="3.6" height="3.6"/><rect x="164.7" y="140.1" width="3.6" height="3.6"/><rect x="166.1" y="140.9" width="3.6" height="3.6"/><rect x="166.3" y="140.0" width="3.6" height="3.6"/><rect x="167.3" y="141.5" width="3.6" height="3.6"/><rect x="166.9" y="142.5" width="3.6" height="3.6"/><rect x="168.3" y="139.6" width="3.6" height="3.6"/><rect x="168.0" y="140.0" width="3.6" height="3.6"/><rect x="168.8" y="139.2" width="3.6" height="3.6"/><rect x="169.0" y="139.1" width="3.6" height="3.6"/><rect x="169.8" y="140.6" width="3.6" height="3.6"/><rect x="169.9" y="139.9" width="3.6" height="3.6"/><rect x="171.5" y="140.0" width="3.6" height="3.6"/><rect x="171.0" y="140.0" width="3.6" height="3.6"/><rect x="171.8" y="138.8" width="3.6" height="3.6"/><rect x="172.5" y="139.7" width="3.6" height="3.6"/><rect x="173.5" y="138.6" width="3.6" height="3.6"/><rect x="173.0" y="138.9" width="3.6" height="3.6"/><rect x="173.8" y="137.9" width="3.6" height="3.6"/><rect x="173.8" y="138.6" width="3.6" height="3.6"/><rect x="175.2" y="139.0" width="3.6" height="3.6"/><rect x="175.4" y="135.7" width="3.6" height="3.6"/><rect x="176.2" y="137.4" width="3.6" height="3.6"/><rect x="175.9" y="138.3" width="3.6" height="3.6"/><rect x="177.3" y="138.8" width="3.6" height="3.6"/><rect x="177.0" y="140.1" width="3.6" height="3.6"/><rect x="177.8" y="138.1" width="3.6" height="3.6"/><rect x="178.0" y="137.8" width="3.6" height="3.6"/><rect x="179.7" y="139.3" width="3.6" height="3.6"/><rect x="179.1" y="139.2" width="3.6" height="3.6"/><rect x="180.1" y="138.5" width="3.6" height="3.6"/><rect x="180.2" y="139.4" width="3.6" height="3.6"/><rect x="180.7" y="139.5" width="3.6" height="3.6"/><rect x="181.7" y="137.9" width="3.6" height="3.6"/><rect x="182.2" y="138.1" width="3.6" height="3.6"/><rect x="182.4" y="138.5" width="3.6" height="3.6"/><rect x="183.3" y="137.5" width="3.6" height="3.6"/><rect x="183.2" y="137.4" width="3.6" height="3.6"/><rect x="184.2" y="138.0" width="3.6" height="3.6"/><rect x="184.4" y="138.1" width="3.6" height="3.6"/><rect x="185.3" y="136.8" width="3.6" height="3.6"/><rect x="185.1" y="138.4" width="3.6" height="3.6"/><rect x="186.1" y="135.2" width="3.6" height="3.6"/><rect x="186.4" y="138.2" width="3.6" height="3.6"/><rect x="187.6" y="137.3" width="3.6" height="3.6"/><rect x="187.4" y="137.2" width="3.6" height="3.6"/><rect x="188.5" y="138.1" width="3.6" height="3.6"/><rect x="188.1" y="138.3" width="3.6" height="3.6"/><rect x="189.6" y="137.0" width="3.6" height="3.6"/><rect x="189.6" y="137.9" width="3.6" height="3.6"/><rect x="189.8" y="139.2" width="3.6" height="3.6"/><rect x="189.9" y="138.6" width="3.6" height="3.6"/><rect x="191.6" y="139.8" width="3.6" height="3.6"/><rect x="191.7" y="136.4" width="3.6" height="3.6"/><rect x="192.6" y="138.6" width="3.6" height="3.6"/><rect x="191.8" y="136.7" width="3.6" height="3.6"/><rect x="193.6" y="137.1" width="3.6" height="3.6"/><rect x="193.4" y="135.9" width="3.6" height="3.6"/><rect x="193.9" y="138.3" width="3.6" height="3.6"/><rect x="194.5" y="137.4" width="3.6" height="3.6"/><rect x="194.9" y="136.6" width="3.6" height="3.6"/><rect x="195.7" y="136.7" width="3.6" height="3.6"/><rect x="195.7" y="137.8" width="3.6" height="3.6"/><rect x="196.1" y="136.3" width="3.6" height="3.6"/><rect x="197.4" y="138.5" width="3.6" height="3.6"/><rect x="197.2" y="138.4" width="3.6" height="3.6"/><rect x="198.2" y="138.1" width="3.6" height="3.6"/><rect x="198.1" y="137.4" width="3.6" height="3.6"/><rect x="199.3" y="138.5" width="3.6" height="3.6"/><rect x="199.1" y="137.6" width="3.6" height="3.6"/><rect x="199.7" y="138.0" width="3.6" height="3.6"/><rect x="200.3" y="137.1" width="3.6" height="3.6"/><rect x="201.5" y="137.2" width="3.6" height="3.6"/><rect x="201.6" y="137.8" width="3.6" height="3.6"/><rect x="202.1" y="135.8" width="3.6" height="3.6"/><rect x="201.8" y="134.8" width="3.6" height="3.6"/><rect x="202.9" y="136.5" width="3.6" height="3.6"/><rect x="203.1" y="136.9" width="3.6" height="3.6"/><rect x="203.9" y="135.7" width="3.6" height="3.6"/><rect x="204.2" y="136.9" width="3.6" height="3.6"/><rect x="204.9" y="137.8" width="3.6" height="3.6"/><rect x="205.5" y="136.6" width="3.6" height="3.6"/><rect x="206.5" y="136.7" width="3.6" height="3.6"/><rect x="206.3" y="138.6" width="3.6" height="3.6"/><rect x="206.8" y="137.5" width="3.6" height="3.6"/><rect x="207.4" y="137.4" width="3.6" height="3.6"/><rect x="207.8" y="138.1" width="3.6" height="3.6"/><rect x="207.9" y="135.6" width="3.6" height="3.6"/><rect x="209.2" y="137.4" width="3.6" height="3.6"/><rect x="209.0" y="136.2" width="3.6" height="3.6"/><rect x="210.4" y="137.5" width="3.6" height="3.6"/><rect x="210.0" y="137.4" width="3.6" height="3.6"/><rect x="211.7" y="135.2" width="3.6" height="3.6"/><rect x="210.7" y="136.7" width="3.6" height="3.6"/><rect x="212.1" y="136.0" width="3.6" height="3.6"/><rect x="212.2" y="136.5" width="3.6" height="3.6"/><rect x="213.5" y="136.1" width="3.6" height="3.6"/><rect x="212.9" y="134.0" width="3.6" height="3.6"/><rect x="214.4" y="135.2" width="3.6" height="3.6"/><rect x="213.9" y="135.7" width="3.6" height="3.6"/><rect x="215.1" y="135.9" width="3.6" height="3.6"/><rect x="215.7" y="137.5" width="3.6" height="3.6"/><rect x="216.5" y="135.7" width="3.6" height="3.6"/><rect x="216.4" y="136.3" width="3.6" height="3.6"/><rect x="217.4" y="137.6" width="3.6" height="3.6"/><rect x="216.7" y="135.6" width="3.6" height="3.6"/><rect x="218.0" y="137.3" width="3.6" height="3.6"/><rect x="218.5" y="137.4" width="3.6" height="3.6"/><rect x="218.8" y="135.2" width="3.6" height="3.6"/><rect x="218.8" y="135.8" width="3.6" height="3.6"/><rect x="220.1" y="136.0" width="3.6" height="3.6"/><rect x="220.1" y="136.4" width="3.6" height="3.6"/><rect x="221.7" y="135.2" width="3.6" height="3.6"/><rect x="221.1" y="135.6" width="3.6" height="3.6"/><rect x="222.3" y="136.9" width="3.6" height="3.6"/><rect x="222.0" y="135.6" width="3.6" height="3.6"/><rect x="223.6" y="137.0" width="3.6" height="3.6"/><rect x="223.1" y="136.8" width="3.6" height="3.6"/><rect x="224.2" y="134.3" width="3.6" height="3.6"/><rect x="223.9" y="137.2" width="3.6" height="3.6"/><rect x="225.1" y="136.2" width="3.6" height="3.6"/><rect x="225.0" y="134.8" width="3.6" height="3.6"/><rect x="226.6" y="136.2" width="3.6" height="3.6"/><rect x="225.7" y="136.1" width="3.6" height="3.6"/><rect x="226.7" y="136.7" width="3.6" height="3.6"/><rect x="226.9" y="136.3" width="3.6" height="3.6"/><rect x="228.2" y="137.0" width="3.6" height="3.6"/><rect x="228.0" y="137.2" width="3.6" height="3.6"/><rect x="229.4" y="135.7" width="3.6" height="3.6"/><rect x="229.6" y="134.9" width="3.6" height="3.6"/><rect x="229.8" y="137.4" width="3.6" height="3.6"/><rect x="230.4" y="136.7" width="3.6" height="3.6"/><rect x="231.1" y="135.7" width="3.6" height="3.6"/><rect x="231.3" y="135.5" width="3.6" height="3.6"/><rect x="231.8" y="136.3" width="3.6" height="3.6"/><rect x="231.8" y="135.0" width="3.6" height="3.6"/><rect x="233.1" y="135.2" width="3.6" height="3.6"/><rect x="233.6" y="134.8" width="3.6" height="3.6"/><rect x="234.7" y="137.0" width="3.6" height="3.6"/><rect x="234.3" y="136.1" width="3.6" height="3.6"/><rect x="235.5" y="136.7" width="3.6" height="3.6"/><rect x="234.8" y="137.1" width="3.6" height="3.6"/><rect x="236.3" y="136.6" width="3.6" height="3.6"/><rect x="235.8" y="137.2" width="3.6" height="3.6"/><rect x="237.3" y="137.0" width="3.6" height="3.6"/><rect x="236.7" y="137.3" width="3.6" height="3.6"/><rect x="238.1" y="136.2" width="3.6" height="3.6"/><rect x="238.4" y="138.1" width="3.6" height="3.6"/><rect x="238.9" y="135.9" width="3.6" height="3.6"/><rect x="239.7" y="136.9" width="3.6" height="3.6"/><rect x="240.5" y="135.0" width="3.6" height="3.6"/><rect x="240.6" y="136.4" width="3.6" height="3.6"/><rect x="241.5" y="134.6" width="3.6" height="3.6"/><rect x="241.0" y="134.0" width="3.6" height="3.6"/><rect x="242.5" y="135.3" width="3.6" height="3.6"/><rect x="242.3" y="135.1" width="3.6" height="3.6"/><rect x="242.9" y="135.7" width="3.6" height="3.6"/><rect x="242.9" y="135.8" width="3.6" height="3.6"/><rect x="244.0" y="134.8" width="3.6" height="3.6"/><rect x="244.1" y="135.8" width="3.6" height="3.6"/><rect x="245.1" y="135.8" width="3.6" height="3.6"/><rect x="245.7" y="135.8" width="3.6" height="3.6"/><rect x="245.8" y="135.5" width="3.6" height="3.6"/><rect x="245.9" y="134.7" width="3.6" height="3.6"/><rect x="247.7" y="135.8" width="3.6" height="3.6"/><rect x="246.8" y="136.1" width="3.6" height="3.6"/><rect x="248.5" y="135.3" width="3.6" height="3.6"/><rect x="247.9" y="134.6" width="3.6" height="3.6"/><rect x="248.9" y="136.4" width="3.6" height="3.6"/><rect x="249.3" y="135.7" width="3.6" height="3.6"/><rect x="250.6" y="135.2" width="3.6" height="3.6"/><rect x="250.6" y="133.7" width="3.6" height="3.6"/><rect x="251.4" y="135.5" width="3.6" height="3.6"/><rect x="251.3" y="133.9" width="3.6" height="3.6"/><rect x="252.1" y="132.7" width="3.6" height="3.6"/><rect x="251.8" y="134.5" width="3.6" height="3.6"/><rect x="253.4" y="133.7" width="3.6" height="3.6"/><rect x="252.8" y="135.0" width="3.6" height="3.6"/><rect x="254.6" y="135.7" width="3.6" height="3.6"/><rect x="254.3" y="134.7" width="3.6" height="3.6"/><rect x="254.8" y="134.8" width="3.6" height="3.6"/><rect x="254.7" y="134.0" width="3.6" height="3.6"/><rect x="256.1" y="135.8" width="3.6" height="3.6"/><rect x="255.9" y="133.6" width="3.6" height="3.6"/><rect x="257.3" y="134.4" width="3.6" height="3.6"/><rect x="257.0" y="132.0" width="3.6" height="3.6"/><rect x="258.0" y="134.0" width="3.6" height="3.6"/><rect x="258.1" y="133.6" width="3.6" height="3.6"/><rect x="259.5" y="131.1" width="3.6" height="3.6"/><rect x="259.3" y="134.2" width="3.6" height="3.6"/><rect x="260.3" y="134.6" width="3.6" height="3.6"/><rect x="260.2" y="134.0" width="3.6" height="3.6"/><rect x="261.5" y="135.0" width="3.6" height="3.6"/><rect x="260.8" y="132.7" width="3.6" height="3.6"/><rect x="262.5" y="135.5" width="3.6" height="3.6"/><rect x="262.0" y="134.2" width="3.6" height="3.6"/><rect x="262.9" y="132.5" width="3.6" height="3.6"/><rect x="263.1" y="133.8" width="3.6" height="3.6"/><rect x="264.0" y="132.9" width="3.6" height="3.6"/><rect x="264.6" y="134.3" width="3.6" height="3.6"/><rect x="265.2" y="134.8" width="3.6" height="3.6"/><rect x="265.4" y="136.1" width="3.6" height="3.6"/><rect x="266.3" y="133.3" width="3.6" height="3.6"/><rect x="265.7" y="134.4" width="3.6" height="3.6"/><rect x="267.5" y="134.5" width="3.6" height="3.6"/><rect x="267.3" y="134.9" width="3.6" height="3.6"/><rect x="267.9" y="134.0" width="3.6" height="3.6"/><rect x="268.0" y="133.3" width="3.6" height="3.6"/><rect x="269.7" y="134.5" width="3.6" height="3.6"/><rect x="269.2" y="134.3" width="3.6" height="3.6"/><rect x="269.9" y="133.6" width="3.6" height="3.6"/><rect x="269.7" y="134.5" width="3.6" height="3.6"/><rect x="270.9" y="134.1" width="3.6" height="3.6"/><rect x="271.1" y="132.0" width="3.6" height="3.6"/><rect x="272.0" y="134.0" width="3.6" height="3.6"/><rect x="272.4" y="134.1" width="3.6" height="3.6"/><rect x="273.2" y="135.4" width="3.6" height="3.6"/><rect x="273.5" y="134.6" width="3.6" height="3.6"/><rect x="274.5" y="134.0" width="3.6" height="3.6"/><rect x="274.5" y="134.1" width="3.6" height="3.6"/><rect x="275.3" y="132.6" width="3.6" height="3.6"/><rect x="275.7" y="133.3" width="3.6" height="3.6"/><rect x="276.0" y="134.2" width="3.6" height="3.6"/><rect x="276.3" y="133.5" width="3.6" height="3.6"/><rect x="276.8" y="135.8" width="3.6" height="3.6"/><rect x="277.6" y="134.7" width="3.6" height="3.6"/><rect x="277.8" y="135.4" width="3.6" height="3.6"/><rect x="277.8" y="133.6" width="3.6" height="3.6"/><rect x="279.5" y="134.0" width="3.6" height="3.6"/><rect x="278.8" y="134.0" width="3.6" height="3.6"/><rect x="279.8" y="135.5" width="3.6" height="3.6"/><rect x="279.8" y="135.1" width="3.6" height="3.6"/><rect x="281.1" y="133.3" width="3.6" height="3.6"/><rect x="280.7" y="134.5" width="3.6" height="3.6"/><rect x="282.4" y="135.2" width="3.6" height="3.6"/><rect x="281.8" y="133.9" width="3.6" height="3.6"/><rect x="283.4" y="135.4" width="3.6" height="3.6"/><rect x="283.0" y="134.4" width="3.6" height="3.6"/><rect x="284.2" y="133.9" width="3.6" height="3.6"/><rect x="284.1" y="136.8" width="3.6" height="3.6"/><rect x="285.0" y="134.8" width="3.6" height="3.6"/><rect x="285.2" y="135.4" width="3.6" height="3.6"/><rect x="286.7" y="134.0" width="3.6" height="3.6"/><rect x="286.6" y="135.0" width="3.6" height="3.6"/><rect x="287.4" y="136.0" width="3.6" height="3.6"/><rect x="287.4" y="134.7" width="3.6" height="3.6"/><rect x="288.1" y="133.4" width="3.6" height="3.6"/><rect x="288.6" y="135.8" width="3.6" height="3.6"/><rect x="289.6" y="135.2" width="3.6" height="3.6"/><rect x="289.6" y="133.0" width="3.6" height="3.6"/><rect x="290.5" y="136.1" width="3.6" height="3.6"/><rect x="289.9" y="134.9" width="3.6" height="3.6"/><rect x="290.9" y="135.2" width="3.6" height="3.6"/><rect x="291.4" y="137.1" width="3.6" height="3.6"/><rect x="292.1" y="134.4" width="3.6" height="3.6"/><rect x="292.6" y="136.0" width="3.6" height="3.6"/><rect x="292.8" y="135.3" width="3.6" height="3.6"/><rect x="293.3" y="132.6" width="3.6" height="3.6"/><rect x="294.1" y="134.7" width="3.6" height="3.6"/><rect x="294.3" y="135.5" width="3.6" height="3.6"/><rect x="295.0" y="135.0" width="3.6" height="3.6"/><rect x="295.1" y="135.8" width="3.6" height="3.6"/><rect x="295.8" y="134.9" width="3.6" height="3.6"/><rect x="296.6" y="135.2" width="3.6" height="3.6"/></g>
<g fill="#141414"><rect x="135.0" y="147.1" width="4.0" height="4.0"/><rect x="134.5" y="149.3" width="4.0" height="4.0"/><rect x="135.9" y="149.8" width="4.0" height="4.0"/><rect x="135.6" y="147.5" width="4.0" height="4.0"/><rect x="136.5" y="147.5" width="4.0" height="4.0"/><rect x="136.5" y="148.0" width="4.0" height="4.0"/><rect x="137.9" y="147.6" width="4.0" height="4.0"/><rect x="138.3" y="148.1" width="4.0" height="4.0"/><rect x="139.3" y="146.7" width="4.0" height="4.0"/><rect x="139.2" y="146.6" width="4.0" height="4.0"/><rect x="140.5" y="147.3" width="4.0" height="4.0"/><rect x="139.6" y="146.9" width="4.0" height="4.0"/><rect x="140.5" y="149.7" width="4.0" height="4.0"/><rect x="141.4" y="148.2" width="4.0" height="4.0"/><rect x="141.7" y="147.1" width="4.0" height="4.0"/><rect x="141.8" y="146.6" width="4.0" height="4.0"/><rect x="143.5" y="146.0" width="4.0" height="4.0"/><rect x="143.5" y="148.6" width="4.0" height="4.0"/><rect x="144.0" y="145.8" width="4.0" height="4.0"/><rect x="143.7" y="147.9" width="4.0" height="4.0"/><rect x="145.0" y="146.0" width="4.0" height="4.0"/><rect x="145.3" y="146.6" width="4.0" height="4.0"/><rect x="145.8" y="146.3" width="4.0" height="4.0"/><rect x="145.9" y="145.8" width="4.0" height="4.0"/><rect x="147.0" y="146.5" width="4.0" height="4.0"/><rect x="147.2" y="147.3" width="4.0" height="4.0"/><rect x="147.6" y="146.7" width="4.0" height="4.0"/><rect x="147.7" y="148.7" width="4.0" height="4.0"/><rect x="148.6" y="149.0" width="4.0" height="4.0"/><rect x="148.8" y="147.3" width="4.0" height="4.0"/><rect x="150.4" y="147.6" width="4.0" height="4.0"/><rect x="150.1" y="149.4" width="4.0" height="4.0"/><rect x="150.5" y="148.2" width="4.0" height="4.0"/><rect x="150.8" y="149.2" width="4.0" height="4.0"/><rect x="151.5" y="149.5" width="4.0" height="4.0"/><rect x="152.4" y="148.4" width="4.0" height="4.0"/><rect x="152.9" y="149.4" width="4.0" height="4.0"/><rect x="152.7" y="149.0" width="4.0" height="4.0"/><rect x="153.8" y="147.8" width="4.0" height="4.0"/><rect x="153.8" y="149.0" width="4.0" height="4.0"/><rect x="155.0" y="148.1" width="4.0" height="4.0"/><rect x="154.6" y="150.1" width="4.0" height="4.0"/><rect x="156.4" y="148.8" width="4.0" height="4.0"/><rect x="155.7" y="148.4" width="4.0" height="4.0"/><rect x="157.0" y="147.9" width="4.0" height="4.0"/><rect x="156.7" y="148.0" width="4.0" height="4.0"/><rect x="157.7" y="148.1" width="4.0" height="4.0"/><rect x="157.6" y="147.9" width="4.0" height="4.0"/><rect x="159.3" y="147.8" width="4.0" height="4.0"/><rect x="159.1" y="148.2" width="4.0" height="4.0"/><rect x="160.3" y="145.6" width="4.0" height="4.0"/><rect x="159.9" y="148.1" width="4.0" height="4.0"/><rect x="161.4" y="149.0" width="4.0" height="4.0"/><rect x="161.0" y="147.5" width="4.0" height="4.0"/><rect x="162.3" y="147.1" width="4.0" height="4.0"/><rect x="162.5" y="145.9" width="4.0" height="4.0"/><rect x="162.8" y="145.9" width="4.0" height="4.0"/><rect x="162.9" y="147.3" width="4.0" height="4.0"/><rect x="163.9" y="147.6" width="4.0" height="4.0"/><rect x="163.8" y="146.3" width="4.0" height="4.0"/><rect x="164.6" y="147.9" width="4.0" height="4.0"/><rect x="165.2" y="145.6" width="4.0" height="4.0"/><rect x="166.5" y="149.4" width="4.0" height="4.0"/><rect x="166.1" y="148.9" width="4.0" height="4.0"/><rect x="167.1" y="148.0" width="4.0" height="4.0"/><rect x="166.8" y="150.5" width="4.0" height="4.0"/><rect x="167.5" y="150.4" width="4.0" height="4.0"/><rect x="167.7" y="150.7" width="4.0" height="4.0"/><rect x="169.1" y="148.0" width="4.0" height="4.0"/><rect x="168.9" y="148.9" width="4.0" height="4.0"/><rect x="169.6" y="149.1" width="4.0" height="4.0"/><rect x="170.3" y="148.6" width="4.0" height="4.0"/><rect x="171.0" y="149.4" width="4.0" height="4.0"/><rect x="170.6" y="147.4" width="4.0" height="4.0"/><rect x="172.4" y="148.2" width="4.0" height="4.0"/><rect x="172.0" y="149.1" width="4.0" height="4.0"/><rect x="173.0" y="147.0" width="4.0" height="4.0"/><rect x="173.5" y="147.9" width="4.0" height="4.0"/><rect x="173.8" y="148.5" width="4.0" height="4.0"/><rect x="174.4" y="148.5" width="4.0" height="4.0"/><rect x="175.2" y="147.3" width="4.0" height="4.0"/><rect x="174.8" y="148.2" width="4.0" height="4.0"/><rect x="176.1" y="147.9" width="4.0" height="4.0"/><rect x="176.3" y="147.3" width="4.0" height="4.0"/><rect x="176.7" y="147.9" width="4.0" height="4.0"/><rect x="177.2" y="147.9" width="4.0" height="4.0"/><rect x="178.0" y="145.5" width="4.0" height="4.0"/><rect x="178.2" y="146.6" width="4.0" height="4.0"/><rect x="179.1" y="146.7" width="4.0" height="4.0"/><rect x="178.9" y="145.8" width="4.0" height="4.0"/><rect x="179.9" y="146.3" width="4.0" height="4.0"/><rect x="180.5" y="147.6" width="4.0" height="4.0"/><rect x="180.9" y="147.9" width="4.0" height="4.0"/><rect x="181.1" y="147.3" width="4.0" height="4.0"/><rect x="182.4" y="148.6" width="4.0" height="4.0"/><rect x="181.8" y="147.6" width="4.0" height="4.0"/><rect x="182.7" y="147.4" width="4.0" height="4.0"/><rect x="183.2" y="148.7" width="4.0" height="4.0"/><rect x="183.7" y="148.4" width="4.0" height="4.0"/><rect x="183.6" y="146.2" width="4.0" height="4.0"/><rect x="185.0" y="148.3" width="4.0" height="4.0"/><rect x="184.6" y="148.4" width="4.0" height="4.0"/><rect x="186.2" y="146.3" width="4.0" height="4.0"/><rect x="186.1" y="148.5" width="4.0" height="4.0"/><rect x="186.7" y="147.2" width="4.0" height="4.0"/><rect x="187.2" y="148.2" width="4.0" height="4.0"/><rect x="188.1" y="147.4" width="4.0" height="4.0"/><rect x="187.7" y="148.7" width="4.0" height="4.0"/><rect x="189.5" y="149.2" width="4.0" height="4.0"/><rect x="189.1" y="148.1" width="4.0" height="4.0"/><rect x="190.1" y="147.5" width="4.0" height="4.0"/><rect x="190.1" y="147.8" width="4.0" height="4.0"/><rect x="191.4" y="148.6" width="4.0" height="4.0"/><rect x="190.8" y="146.8" width="4.0" height="4.0"/><rect x="191.7" y="147.2" width="4.0" height="4.0"/><rect x="191.7" y="148.2" width="4.0" height="4.0"/><rect x="192.8" y="147.9" width="4.0" height="4.0"/><rect x="193.3" y="146.6" width="4.0" height="4.0"/><rect x="194.3" y="148.5" width="4.0" height="4.0"/><rect x="193.8" y="147.2" width="4.0" height="4.0"/><rect x="194.9" y="146.9" width="4.0" height="4.0"/><rect x="194.6" y="147.8" width="4.0" height="4.0"/><rect x="196.0" y="146.3" width="4.0" height="4.0"/><rect x="195.8" y="146.8" width="4.0" height="4.0"/><rect x="197.2" y="147.0" width="4.0" height="4.0"/><rect x="196.6" y="146.9" width="4.0" height="4.0"/><rect x="198.1" y="147.0" width="4.0" height="4.0"/><rect x="197.8" y="147.9" width="4.0" height="4.0"/><rect x="199.2" y="146.0" width="4.0" height="4.0"/><rect x="199.2" y="147.7" width="4.0" height="4.0"/><rect x="199.8" y="146.0" width="4.0" height="4.0"/><rect x="199.9" y="147.3" width="4.0" height="4.0"/><rect x="200.8" y="148.1" width="4.0" height="4.0"/><rect x="201.5" y="148.2" width="4.0" height="4.0"/><rect x="202.2" y="147.8" width="4.0" height="4.0"/><rect x="201.6" y="150.4" width="4.0" height="4.0"/><rect x="203.1" y="146.7" width="4.0" height="4.0"/><rect x="202.8" y="149.0" width="4.0" height="4.0"/><rect x="203.5" y="148.4" width="4.0" height="4.0"/><rect x="203.9" y="148.5" width="4.0" height="4.0"/><rect x="205.1" y="149.3" width="4.0" height="4.0"/><rect x="205.0" y="149.6" width="4.0" height="4.0"/><rect x="205.7" y="149.4" width="4.0" height="4.0"/><rect x="206.1" y="150.4" width="4.0" height="4.0"/><rect x="206.5" y="148.8" width="4.0" height="4.0"/><rect x="206.5" y="149.2" width="4.0" height="4.0"/><rect x="208.3" y="149.8" width="4.0" height="4.0"/><rect x="208.2" y="149.9" width="4.0" height="4.0"/><rect x="208.9" y="147.3" width="4.0" height="4.0"/><rect x="209.2" y="148.6" width="4.0" height="4.0"/><rect x="209.9" y="149.4" width="4.0" height="4.0"/><rect x="210.1" y="149.4" width="4.0" height="4.0"/><rect x="210.8" y="148.3" width="4.0" height="4.0"/><rect x="211.4" y="150.0" width="4.0" height="4.0"/><rect x="212.3" y="147.7" width="4.0" height="4.0"/><rect x="211.6" y="147.9" width="4.0" height="4.0"/><rect x="213.0" y="148.7" width="4.0" height="4.0"/><rect x="213.2" y="148.3" width="4.0" height="4.0"/><rect x="213.8" y="148.1" width="4.0" height="4.0"/><rect x="213.9" y="148.3" width="4.0" height="4.0"/><rect x="215.0" y="149.0" width="4.0" height="4.0"/><rect x="214.8" y="147.1" width="4.0" height="4.0"/><rect x="216.4" y="147.2" width="4.0" height="4.0"/><rect x="216.4" y="149.1" width="4.0" height="4.0"/><rect x="216.8" y="147.3" width="4.0" height="4.0"/><rect x="217.3" y="147.5" width="4.0" height="4.0"/><rect x="218.5" y="149.3" width="4.0" height="4.0"/><rect x="218.1" y="148.1" width="4.0" height="4.0"/><rect x="218.6" y="147.9" width="4.0" height="4.0"/><rect x="218.6" y="148.1" width="4.0" height="4.0"/><rect x="220.3" y="147.0" width="4.0" height="4.0"/><rect x="219.5" y="145.8" width="4.0" height="4.0"/><rect x="221.0" y="147.3" width="4.0" height="4.0"/><rect x="220.7" y="145.9" width="4.0" height="4.0"/><rect x="221.9" y="146.9" width="4.0" height="4.0"/><rect x="222.3" y="147.7" width="4.0" height="4.0"/><rect x="223.0" y="148.7" width="4.0" height="4.0"/><rect x="222.9" y="148.4" width="4.0" height="4.0"/><rect x="224.1" y="147.3" width="4.0" height="4.0"/><rect x="223.5" y="145.9" width="4.0" height="4.0"/><rect x="225.3" y="145.9" width="4.0" height="4.0"/><rect x="224.8" y="146.6" width="4.0" height="4.0"/><rect x="226.5" y="146.1" width="4.0" height="4.0"/><rect x="225.6" y="146.1" width="4.0" height="4.0"/><rect x="226.9" y="147.0" width="4.0" height="4.0"/><rect x="227.4" y="146.9" width="4.0" height="4.0"/><rect x="227.8" y="145.4" width="4.0" height="4.0"/><rect x="228.5" y="145.6" width="4.0" height="4.0"/><rect x="228.6" y="146.0" width="4.0" height="4.0"/><rect x="228.6" y="144.0" width="4.0" height="4.0"/><rect x="230.5" y="147.2" width="4.0" height="4.0"/><rect x="229.8" y="147.7" width="4.0" height="4.0"/><rect x="231.2" y="146.6" width="4.0" height="4.0"/><rect x="231.1" y="146.3" width="4.0" height="4.0"/><rect x="232.2" y="146.5" width="4.0" height="4.0"/><rect x="231.5" y="147.6" width="4.0" height="4.0"/><rect x="233.4" y="146.9" width="4.0" height="4.0"/><rect x="233.4" y="147.7" width="4.0" height="4.0"/><rect x="233.8" y="146.6" width="4.0" height="4.0"/><rect x="233.5" y="144.2" width="4.0" height="4.0"/><rect x="234.6" y="147.6" width="4.0" height="4.0"/><rect x="234.8" y="147.3" width="4.0" height="4.0"/><rect x="235.7" y="147.7" width="4.0" height="4.0"/><rect x="235.6" y="146.2" width="4.0" height="4.0"/><rect x="237.4" y="143.9" width="4.0" height="4.0"/><rect x="236.9" y="147.6" width="4.0" height="4.0"/><rect x="237.8" y="148.7" width="4.0" height="4.0"/><rect x="238.1" y="146.9" width="4.0" height="4.0"/><rect x="239.4" y="144.9" width="4.0" height="4.0"/><rect x="238.8" y="145.9" width="4.0" height="4.0"/><rect x="240.4" y="146.0" width="4.0" height="4.0"/><rect x="239.7" y="146.9" width="4.0" height="4.0"/><rect x="241.4" y="145.7" width="4.0" height="4.0"/><rect x="241.2" y="145.8" width="4.0" height="4.0"/><rect x="242.5" y="146.7" width="4.0" height="4.0"/><rect x="242.5" y="145.5" width="4.0" height="4.0"/><rect x="243.0" y="146.1" width="4.0" height="4.0"/><rect x="243.2" y="145.4" width="4.0" height="4.0"/><rect x="244.1" y="146.0" width="4.0" height="4.0"/><rect x="243.5" y="145.2" width="4.0" height="4.0"/><rect x="245.4" y="145.5" width="4.0" height="4.0"/><rect x="244.7" y="144.7" width="4.0" height="4.0"/><rect x="245.5" y="147.4" width="4.0" height="4.0"/><rect x="245.8" y="147.0" width="4.0" height="4.0"/><rect x="246.7" y="145.4" width="4.0" height="4.0"/><rect x="247.3" y="146.1" width="4.0" height="4.0"/><rect x="247.9" y="146.7" width="4.0" height="4.0"/><rect x="247.7" y="147.8" width="4.0" height="4.0"/><rect x="248.7" y="146.2" width="4.0" height="4.0"/><rect x="249.5" y="146.3" width="4.0" height="4.0"/><rect x="249.7" y="145.9" width="4.0" height="4.0"/><rect x="250.3" y="147.8" width="4.0" height="4.0"/><rect x="251.0" y="148.2" width="4.0" height="4.0"/><rect x="250.6" y="147.4" width="4.0" height="4.0"/><rect x="251.6" y="145.6" width="4.0" height="4.0"/><rect x="252.0" y="145.8" width="4.0" height="4.0"/><rect x="252.7" y="145.9" width="4.0" height="4.0"/><rect x="253.0" y="148.8" width="4.0" height="4.0"/><rect x="253.8" y="146.0" width="4.0" height="4.0"/><rect x="253.7" y="147.0" width="4.0" height="4.0"/><rect x="255.4" y="146.3" width="4.0" height="4.0"/><rect x="255.2" y="146.8" width="4.0" height="4.0"/><rect x="256.5" y="146.9" width="4.0" height="4.0"/><rect x="256.2" y="146.5" width="4.0" height="4.0"/><rect x="256.5" y="146.3" width="4.0" height="4.0"/><rect x="256.5" y="146.7" width="4.0" height="4.0"/><rect x="258.1" y="147.4" width="4.0" height="4.0"/><rect x="258.5" y="148.6" width="4.0" height="4.0"/><rect x="258.8" y="145.8" width="4.0" height="4.0"/><rect x="258.5" y="146.5" width="4.0" height="4.0"/><rect x="260.0" y="147.7" width="4.0" height="4.0"/><rect x="260.3" y="147.1" width="4.0" height="4.0"/><rect x="261.0" y="146.1" width="4.0" height="4.0"/><rect x="260.9" y="149.0" width="4.0" height="4.0"/><rect x="262.2" y="146.8" width="4.0" height="4.0"/><rect x="262.3" y="146.4" width="4.0" height="4.0"/><rect x="262.8" y="146.1" width="4.0" height="4.0"/><rect x="263.0" y="147.5" width="4.0" height="4.0"/><rect x="263.6" y="148.6" width="4.0" height="4.0"/><rect x="263.5" y="146.5" width="4.0" height="4.0"/><rect x="265.3" y="148.1" width="4.0" height="4.0"/><rect x="265.3" y="147.3" width="4.0" height="4.0"/><rect x="266.3" y="147.7" width="4.0" height="4.0"/><rect x="266.4" y="146.2" width="4.0" height="4.0"/><rect x="267.5" y="147.2" width="4.0" height="4.0"/><rect x="267.3" y="147.5" width="4.0" height="4.0"/><rect x="268.3" y="148.6" width="4.0" height="4.0"/><rect x="268.3" y="145.5" width="4.0" height="4.0"/><rect x="269.5" y="147.1" width="4.0" height="4.0"/><rect x="268.9" y="148.6" width="4.0" height="4.0"/><rect x="270.2" y="145.9" width="4.0" height="4.0"/><rect x="269.9" y="147.3" width="4.0" height="4.0"/><rect x="270.8" y="145.3" width="4.0" height="4.0"/><rect x="271.2" y="146.3" width="4.0" height="4.0"/><rect x="271.6" y="147.5" width="4.0" height="4.0"/><rect x="271.5" y="147.3" width="4.0" height="4.0"/><rect x="272.7" y="145.5" width="4.0" height="4.0"/><rect x="273.3" y="146.3" width="4.0" height="4.0"/><rect x="273.9" y="146.5" width="4.0" height="4.0"/><rect x="274.1" y="147.1" width="4.0" height="4.0"/><rect x="275.0" y="147.3" width="4.0" height="4.0"/><rect x="274.8" y="145.7" width="4.0" height="4.0"/><rect x="276.1" y="145.8" width="4.0" height="4.0"/><rect x="275.9" y="145.7" width="4.0" height="4.0"/><rect x="276.6" y="147.1" width="4.0" height="4.0"/><rect x="276.7" y="147.0" width="4.0" height="4.0"/><rect x="278.0" y="147.7" width="4.0" height="4.0"/><rect x="277.7" y="147.1" width="4.0" height="4.0"/><rect x="278.8" y="147.6" width="4.0" height="4.0"/><rect x="278.9" y="146.9" width="4.0" height="4.0"/><rect x="280.2" y="146.9" width="4.0" height="4.0"/><rect x="280.4" y="147.0" width="4.0" height="4.0"/><rect x="281.4" y="148.7" width="4.0" height="4.0"/><rect x="281.0" y="146.7" width="4.0" height="4.0"/><rect x="282.1" y="146.4" width="4.0" height="4.0"/><rect x="281.9" y="145.8" width="4.0" height="4.0"/><rect x="283.4" y="147.8" width="4.0" height="4.0"/><rect x="282.6" y="147.7" width="4.0" height="4.0"/><rect x="283.7" y="148.3" width="4.0" height="4.0"/><rect x="283.9" y="146.0" width="4.0" height="4.0"/><rect x="285.2" y="148.3" width="4.0" height="4.0"/><rect x="284.9" y="148.4" width="4.0" height="4.0"/><rect x="285.6" y="147.2" width="4.0" height="4.0"/><rect x="286.0" y="148.7" width="4.0" height="4.0"/><rect x="287.0" y="146.7" width="4.0" height="4.0"/><rect x="286.7" y="147.5" width="4.0" height="4.0"/><rect x="288.4" y="147.1" width="4.0" height="4.0"/><rect x="288.1" y="147.0" width="4.0" height="4.0"/><rect x="289.1" y="147.5" width="4.0" height="4.0"/><rect x="288.6" y="147.5" width="4.0" height="4.0"/><rect x="290.0" y="145.8" width="4.0" height="4.0"/><rect x="289.9" y="148.8" width="4.0" height="4.0"/><rect x="291.3" y="145.3" width="4.0" height="4.0"/><rect x="291.2" y="146.1" width="4.0" height="4.0"/><rect x="292.3" y="146.8" width="4.0" height="4.0"/><rect x="291.7" y="147.7" width="4.0" height="4.0"/><rect x="293.0" y="148.1" width="4.0" height="4.0"/><rect x="293.2" y="146.3" width="4.0" height="4.0"/><rect x="294.3" y="145.4" width="4.0" height="4.0"/><rect x="294.4" y="146.8" width="4.0" height="4.0"/><rect x="295.0" y="145.7" width="4.0" height="4.0"/><rect x="294.8" y="146.4" width="4.0" height="4.0"/><rect x="295.7" y="145.2" width="4.0" height="4.0"/><rect x="296.0" y="146.3" width="4.0" height="4.0"/></g>
<path d="M123.5,159 L131,133 M130.5,159 L138,133" stroke="#fff" stroke-width="5"/>
<path d="M125.5,157 L131.8,135.5 M132.4,157 L138.6,135.5" stroke="#000" stroke-width="1.7"/>
<text x="134.5" y="85" font-size="10.6" text-anchor="middle" font-style="italic" fill="#333">Injection</text>
<path d="M138,90L138,117" stroke="#444" stroke-width="0.9"/>
<path d="M136.1,115.8L139.9,115.8L138,121.3Z" fill="#333"/>
<rect x="218.30" y="38.80" width="3.60" height="3.60" fill="#b4b4b4"/>
<text x="226" y="44.4" font-size="10.7" fill="#1e1e1e">ATA 20min</text>
<rect x="218.30" y="51.20" width="3.60" height="3.60" fill="#7c7c7c"/>
<text x="226" y="56.8" font-size="10.7" fill="#1e1e1e">ATA 1h</text>
<rect x="218.30" y="63.60" width="3.60" height="3.60" fill="#141414"/>
<text x="226" y="69.2" font-size="10.7" fill="#1e1e1e">ATA 4h</text>
<path d="M220.1,75.9L222,77.8L220.1,79.7L218.2,77.8Z" fill="#000"/>
<text x="226" y="81.6" font-size="10.7" fill="#1e1e1e">Saline</text>
<text x="317.6" y="13.9" font-size="17.6" font-weight="bold" fill="#000">B</text>
<path d="M365.3,40.2L365.3,183.8" stroke="#888888" stroke-width="1"/>
<path d="M365.3,146.2L516.5,146.2" stroke="#888888" stroke-width="1"/>
<path d="M361.5,40.2L365.3,40.2" stroke="#888888" stroke-width="1"/>
<text x="355.8" y="43.800000000000004" font-size="10" text-anchor="end" fill="#1e1e1e">80%</text>
<path d="M361.5,93.2L365.3,93.2" stroke="#888888" stroke-width="1"/>
<text x="355.8" y="96.8" font-size="10" text-anchor="end" fill="#1e1e1e">40%</text>
<path d="M361.5,146.2L365.3,146.2" stroke="#888888" stroke-width="1"/>
<text x="355.8" y="149.79999999999998" font-size="10" text-anchor="end" fill="#1e1e1e">0%</text>
<path d="M403.2,146.2L403.2,183.8" stroke="#888888" stroke-width="1"/>
<path d="M440.8,146.2L440.8,164.6" stroke="#888888" stroke-width="1"/>
<path d="M478.5,146.2L478.5,164.6" stroke="#888888" stroke-width="1"/>
<path d="M516.5,146.2L516.5,183.8" stroke="#888888" stroke-width="1"/>
<path d="M384.15,122.5L384.15,126.2" stroke="#444" stroke-width="0.9"/>
<path d="M382.84999999999997,122.5L385.45,122.5" stroke="#444" stroke-width="0.9"/>
<rect x="368.70" y="126.60" width="30.90" height="19.60" fill="#000" stroke="#000" stroke-width="0.8"/>
<path d="M421.95,58.7L421.95,69.5" stroke="#444" stroke-width="0.9"/>
<path d="M420.65,58.7L423.25,58.7" stroke="#444" stroke-width="0.9"/>
<rect x="406.60" y="69.90" width="30.70" height="76.30" fill="#b2b2b2" stroke="#6e6e6e" stroke-width="0.8"/>
<path d="M459.7,93.8L459.7,101.5" stroke="#444" stroke-width="0.9"/>
<path d="M458.4,93.8L461.0,93.8" stroke="#444" stroke-width="0.9"/>
<rect x="444.40" y="101.90" width="30.60" height="44.30" fill="#6c6c6c" stroke="#3c3c3c" stroke-width="0.8"/>
<path d="M497.15,108.3L497.15,115.4" stroke="#444" stroke-width="0.9"/>
<path d="M495.84999999999997,108.3L498.45,108.3" stroke="#444" stroke-width="0.9"/>
<rect x="481.70" y="115.80" width="30.90" height="30.40" fill="#242424" stroke="#111" stroke-width="0.8"/>
<text x="497.8" y="99.4" font-size="11" text-anchor="middle" font-weight="bold" fill="#111" stroke="#111" stroke-width="0.25">ns</text>
<text x="384.2" y="162.6" font-size="10.5" text-anchor="middle" fill="#1e1e1e">Saline</text>
<text x="421.8" y="162.6" font-size="10.5" text-anchor="middle" fill="#1e1e1e">20min</text>
<text x="459.8" y="162.6" font-size="10.5" text-anchor="middle" fill="#1e1e1e">1h</text>
<text x="497.5" y="162.6" font-size="10.5" text-anchor="middle" fill="#1e1e1e">4h</text>
<text x="459.8" y="181.2" font-size="10.2" text-anchor="middle" fill="#1e1e1e">ATA</text>
<path d="M389.4,28.3L455.9,28.3" stroke="#8a8a8a" stroke-width="1"/>
<path d="M389.4,47.1L422.3,47.1" stroke="#8a8a8a" stroke-width="1"/>
<path d="M423.00,16.35L423.00,26.85M427.55,18.98L418.45,24.23M427.55,24.23L418.45,18.98" stroke="#111" stroke-width="2.1" stroke-linecap="butt"/>
<path d="M406.00,34.15L406.00,44.65M410.55,36.77L401.45,42.02M410.55,42.02L401.45,36.77" stroke="#111" stroke-width="2.1" stroke-linecap="butt"/>
<text x="328.5" y="113.5" font-size="11.2" text-anchor="middle" font-weight="bold" fill="#111" transform="rotate(-90 328.5 113.5)">Mean CBF (% of baseline)</text>
<text x="0.6" y="211.6" font-size="17.6" font-weight="bold" fill="#000">C</text>
<text x="31.4" y="228.3" font-size="10.4" text-anchor="middle" font-weight="bold" fill="#000" transform="rotate(-90 31.4 228.3)">Saline</text>
<text x="32.3" y="282.8" font-size="10.4" text-anchor="middle" font-weight="bold" fill="#000" transform="rotate(-90 32.3 282.8)">+20 min</text>
<text x="32.3" y="333.6" font-size="10.4" text-anchor="middle" font-weight="bold" fill="#000" transform="rotate(-90 32.3 333.6)">+1 h</text>
<text x="32.3" y="389.5" font-size="10.4" text-anchor="middle" font-weight="bold" fill="#000" transform="rotate(-90 32.3 389.5)">+4 h</text>
<text x="11.9" y="339.5" font-size="10.6" text-anchor="middle" font-weight="bold" fill="#000" transform="rotate(-90 11.9 339.5)">ATA</text>
<path d="M16.4,282L16.4,396.8" stroke="#000" stroke-width="1.1"/>
<defs><filter id="nzw" x="0" y="0" width="100%" height="100%"><feTurbulence type="fractalNoise" baseFrequency="0.25" numOctaves="2" seed="4"/><feColorMatrix type="matrix" values="0 0 0 0 1  0 0 0 0 1  0 0 0 0 1  2.2 0 0 0 -1.05"/></filter><filter id="nzb" x="0" y="0" width="100%" height="100%"><feTurbulence type="fractalNoise" baseFrequency="0.22" numOctaves="2" seed="9"/><feColorMatrix type="matrix" values="0 0 0 0 0  0 0 0 0 0  0 0 0 0 0  2.2 0 0 0 -1.0"/></filter><filter id="nzd" x="0" y="0" width="100%" height="100%"><feTurbulence type="fractalNoise" baseFrequency="0.18" numOctaves="2" seed="21"/><feColorMatrix type="matrix" values="0 0 0 0 0.75  0 0 0 0 0.75  0 0 0 0 0.75  3.2 0 0 0 -1.9"/></filter><filter id="bl" x="-2%" y="-2%" width="104%" height="104%"><feGaussianBlur stdDeviation="0.4"/></filter><filter id="bl2" x="-40%" y="-40%" width="180%" height="180%"><feGaussianBlur stdDeviation="1.6"/></filter><filter id="bl3" x="-40%" y="-40%" width="180%" height="180%"><feGaussianBlur stdDeviation="0.7"/></filter><clipPath id="gridclip"><rect x="36" y="200" width="220" height="212"/></clipPath><clipPath id="bc00"><path d="M43.8,228.0 C43.8,214.3 54.4,210.4 69.7,210.4 L73.2,212.4 L76.8,210.4 C92.1,210.4 102.7,214.3 102.7,228.0 C102.7,239.7 90.9,249.5 80.3,249.5 L66.2,249.5 C55.6,249.5 43.8,239.7 43.8,228.0 Z"/></clipPath><clipPath id="bc10"><path d="M116.6,225.0 C116.6,211.3 127.4,207.4 143.0,207.4 L146.6,209.4 L150.2,207.4 C165.7,207.4 176.5,211.3 176.5,225.0 C176.5,236.7 164.5,246.5 153.8,246.5 L139.4,246.5 C128.6,246.5 116.6,236.7 116.6,225.0 Z"/></clipPath><clipPath id="bc20"><path d="M189.5,223.7 C189.5,209.9 200.1,205.9 215.4,205.9 L218.9,207.9 L222.4,205.9 C237.8,205.9 248.4,209.9 248.4,223.7 C248.4,235.6 236.6,245.5 226.0,245.5 L211.8,245.5 C201.2,245.5 189.5,235.6 189.5,223.7 Z"/></clipPath><clipPath id="bc01"><path d="M43.8,280.7 C43.8,266.9 54.3,262.9 69.5,262.9 L73.0,264.9 L76.5,262.9 C91.7,262.9 102.2,266.9 102.2,280.7 C102.2,292.6 90.5,302.5 80.0,302.5 L66.0,302.5 C55.5,302.5 43.8,292.6 43.8,280.7 Z"/></clipPath><clipPath id="bc11"><path d="M117.1,278.6 C117.1,266.0 127.7,262.4 143.0,262.4 L146.6,264.2 L150.1,262.4 C165.4,262.4 176.0,266.0 176.0,278.6 C176.0,289.5 164.2,298.5 153.6,298.5 L139.5,298.5 C128.9,298.5 117.1,289.5 117.1,278.6 Z"/></clipPath><clipPath id="bc21"><path d="M191.5,277.0 C191.5,263.9 201.7,260.2 216.6,260.2 L220.0,262.1 L223.4,260.2 C238.3,260.2 248.6,263.9 248.6,277.0 C248.6,288.2 237.1,297.5 226.9,297.5 L213.2,297.5 C202.9,297.5 191.5,288.2 191.5,277.0 Z"/></clipPath><clipPath id="bc02"><path d="M41.3,328.8 C41.3,315.7 52.1,311.9 67.7,311.9 L71.2,313.8 L74.8,311.9 C90.4,311.9 101.2,315.7 101.2,328.8 C101.2,340.1 89.2,349.5 78.4,349.5 L64.1,349.5 C53.3,349.5 41.3,340.1 41.3,328.8 Z"/></clipPath><clipPath id="bc12"><path d="M116.1,327.9 C116.1,314.8 126.6,311.1 141.8,311.1 L145.3,313.0 L148.8,311.1 C164.0,311.1 174.5,314.8 174.5,327.9 C174.5,339.1 162.8,348.5 152.3,348.5 L138.3,348.5 C127.8,348.5 116.1,339.1 116.1,327.9 Z"/></clipPath><clipPath id="bc22"><path d="M189.5,327.9 C189.5,314.8 199.8,311.1 214.8,311.1 L218.3,313.0 L221.8,311.1 C236.8,311.1 247.2,314.8 247.2,327.9 C247.2,339.1 235.6,348.5 225.2,348.5 L211.4,348.5 C201.0,348.5 189.5,339.1 189.5,327.9 Z"/></clipPath><clipPath id="bc03"><path d="M42.8,383.7 C42.8,370.6 53.4,366.9 68.8,366.9 L72.3,368.8 L75.9,366.9 C91.3,366.9 101.9,370.6 101.9,383.7 C101.9,394.9 90.1,404.2 79.4,404.2 L65.3,404.2 C54.6,404.2 42.8,394.9 42.8,383.7 Z"/></clipPath><clipPath id="bc13"><path d="M117.1,383.1 C117.1,370.1 127.6,366.4 142.8,366.4 L146.3,368.3 L149.8,366.4 C165.0,366.4 175.5,370.1 175.5,383.1 C175.5,394.2 163.8,403.5 153.3,403.5 L139.3,403.5 C128.8,403.5 117.1,394.2 117.1,383.1 Z"/></clipPath><clipPath id="bc23"><path d="M192.5,382.3 C192.5,368.8 202.3,364.9 216.6,364.9 L219.9,366.8 L223.2,364.9 C237.5,364.9 247.4,368.8 247.4,382.3 C247.4,393.9 236.4,403.5 226.5,403.5 L213.3,403.5 C203.4,403.5 192.5,393.9 192.5,382.3 Z"/></clipPath></defs><g clip-path="url(#gridclip)"><rect x="36" y="200" width="220" height="212" fill="#080808"/><g filter="url(#bl)"><rect x="36.0" y="243.5" width="73.3" height="9.5" filter="url(#nzd)" opacity="0.6"/><path d="M39.3,226.4 C39.3,210.5 51.5,205.9 69.2,205.9 L73.2,208.2 L77.3,205.9 C95.0,205.9 107.2,210.5 107.2,226.4 C107.2,240.1 93.6,251.5 81.4,251.5 L65.1,251.5 C52.9,251.5 39.3,240.1 39.3,226.4 Z" fill="#363636"/><path d="M41.4,233.9 C40.4,212.4 55.6,207.2 73.2,207.4 C90.9,207.2 106.1,212.4 105.1,233.9" fill="none" stroke="#cccccc" stroke-width="1.5"/><path d="M42.6,227.8 C42.6,213.3 53.6,209.2 69.6,209.2 L73.2,211.3 L76.9,209.2 C92.9,209.2 103.9,213.3 103.9,227.8 C103.9,240.2 91.6,250.5 80.6,250.5 L65.9,250.5 C54.9,250.5 42.6,240.2 42.6,227.8 Z" fill="#101010"/><path d="M93.7,204.9 Q106.7,205.4 109.2,228.0 L105.7,228.0 Q104.7,209.2 92.7,207.8 Z" fill="#cfcfcf"/><path d="M41.6,226.0 C40.8,212.4 50.9,207.2 66.2,206.8" fill="none" stroke="#d4d4d4" stroke-width="3"/><path d="M43.8,228.0 C43.8,214.3 54.4,210.4 69.7,210.4 L73.2,212.4 L76.8,210.4 C92.1,210.4 102.7,214.3 102.7,228.0 C102.7,239.7 90.9,249.5 80.3,249.5 L66.2,249.5 C55.6,249.5 43.8,239.7 43.8,228.0 Z" fill="rgb(104,104,104)"/><g clip-path="url(#bc00)"><path d="M43.8,228.0 C43.8,214.3 54.4,210.4 69.7,210.4 L73.2,212.4 L76.8,210.4 C92.1,210.4 102.7,214.3 102.7,228.0 C102.7,239.7 90.9,249.5 80.3,249.5 L66.2,249.5 C55.6,249.5 43.8,239.7 43.8,228.0 Z" fill="none" stroke="rgb(128,128,128)" stroke-width="6" filter="url(#bl3)"/><ellipse cx="63.8" cy="229.2" rx="9.4" ry="9.8" fill="#4a4a4a" opacity="0.5" filter="url(#bl2)"/><ellipse cx="82.1" cy="229.2" rx="8.8" ry="9.8" fill="#4a4a4a" opacity="0.45" filter="url(#bl2)"/><ellipse cx="73.2" cy="242.5" rx="17.7" ry="2.7" fill="rgb(134,134,134)" opacity="0.5" filter="url(#bl3)"/><ellipse cx="73.2" cy="250.5" rx="14.7" ry="5.5" fill="#3c3c3c" opacity="0.55" filter="url(#bl2)"/><ellipse cx="102.0" cy="222.0" rx="22.0" ry="12.0" fill="rgb(147,147,147)" filter="url(#bl3)"/><path d="M72.8,214.0L72.8,230.0" stroke="#e8e8e8" stroke-opacity="0.25" stroke-width="1.3"/><path d="M69.7,210.6 L73.2,213.9 L76.8,210.6" fill="none" stroke="#333" stroke-width="0.7"/><rect x="36.0" y="200.0" width="73.3" height="53.0" filter="url(#nzw)" opacity="0.14"/><rect x="36.0" y="200.0" width="73.3" height="53.0" filter="url(#nzb)" opacity="0.28"/></g><path d="M51.4,245.0 L50.6,247.6 L48.0,249.3 L45.6,247.4 L44.5,245.0 L45.4,242.4 L48.0,242.1 L50.5,242.5 Z" fill="rgb(200,200,200)" stroke="rgb(200,200,200)" stroke-width="0.8" stroke-linejoin="round"/><ellipse cx="48.3" cy="245.3" rx="1.4" ry="1.2" fill="#444"/><path d="M90.4,244.0 L89.9,245.9 L88.0,246.4 L85.5,246.5 L84.6,244.0 L86.3,242.3 L88.0,240.2 L90.7,241.3 Z" fill="rgb(190,190,190)" stroke="rgb(190,190,190)" stroke-width="0.8" stroke-linejoin="round"/><ellipse cx="88.3" cy="244.1" rx="1.2" ry="1.1" fill="#444"/><rect x="109.3" y="240.5" width="73.3" height="12.5" filter="url(#nzd)" opacity="0.6"/><path d="M112.1,223.4 C112.1,207.5 124.5,202.9 142.4,202.9 L146.6,205.2 L150.7,202.9 C168.6,202.9 181.0,207.5 181.0,223.4 C181.0,237.1 167.2,248.5 154.8,248.5 L138.3,248.5 C125.9,248.5 112.1,237.1 112.1,223.4 Z" fill="#363636"/><path d="M114.2,230.9 C113.2,209.4 128.6,204.2 146.6,204.4 C164.5,204.2 179.9,209.4 178.9,230.9" fill="none" stroke="#cccccc" stroke-width="1.5"/><path d="M115.4,224.8 C115.4,210.3 126.6,206.2 142.8,206.2 L146.6,208.3 L150.3,206.2 C166.5,206.2 177.7,210.3 177.7,224.8 C177.7,237.2 165.3,247.5 154.1,247.5 L139.1,247.5 C127.9,247.5 115.4,237.2 115.4,224.8 Z" fill="#101010"/><path d="M116.6,225.0 C116.6,211.3 127.4,207.4 143.0,207.4 L146.6,209.4 L150.2,207.4 C165.7,207.4 176.5,211.3 176.5,225.0 C176.5,236.7 164.5,246.5 153.8,246.5 L139.4,246.5 C128.6,246.5 116.6,236.7 116.6,225.0 Z" fill="rgb(108,108,108)"/><g clip-path="url(#bc10)"><path d="M116.6,225.0 C116.6,211.3 127.4,207.4 143.0,207.4 L146.6,209.4 L150.2,207.4 C165.7,207.4 176.5,211.3 176.5,225.0 C176.5,236.7 164.5,246.5 153.8,246.5 L139.4,246.5 C128.6,246.5 116.6,236.7 116.6,225.0 Z" fill="none" stroke="rgb(132,132,132)" stroke-width="6" filter="url(#bl3)"/><ellipse cx="137.0" cy="226.2" rx="9.6" ry="9.8" fill="#4a4a4a" opacity="0.5" filter="url(#bl2)"/><ellipse cx="155.6" cy="226.2" rx="9.0" ry="9.8" fill="#4a4a4a" opacity="0.45" filter="url(#bl2)"/><ellipse cx="146.6" cy="239.5" rx="18.0" ry="2.7" fill="rgb(138,138,138)" opacity="0.5" filter="url(#bl3)"/><ellipse cx="146.6" cy="247.5" rx="15.0" ry="5.5" fill="#3c3c3c" opacity="0.55" filter="url(#bl2)"/><ellipse cx="175.3" cy="220.5" rx="22.0" ry="13.5" fill="rgb(165,165,165)" filter="url(#bl3)"/><path d="M146.1,217.0L146.1,232.0" stroke="#e8e8e8" stroke-opacity="0.90" stroke-width="1.3"/><path d="M143.0,207.6 L146.6,210.9 L150.2,207.6" fill="none" stroke="#333" stroke-width="0.7"/><ellipse cx="131.3" cy="229.0" rx="2" ry="2.5" fill="#f0f0f0" fill-opacity="0.50"/><rect x="109.3" y="200.0" width="73.3" height="53.0" filter="url(#nzw)" opacity="0.14"/><rect x="109.3" y="200.0" width="73.3" height="53.0" filter="url(#nzb)" opacity="0.28"/></g><path d="M130.9,247.0 L129.7,247.9 L127.3,248.8 L124.9,248.0 L123.7,247.0 L124.6,245.9 L127.3,245.7 L130.4,245.8 Z" fill="rgb(210,210,210)" stroke="rgb(210,210,210)" stroke-width="0.8" stroke-linejoin="round"/><ellipse cx="127.2" cy="247.3" rx="1.8" ry="0.6" fill="#444"/><path d="M167.0,246.0 L166.3,248.0 L164.3,248.6 L162.3,248.0 L161.8,246.0 L162.7,244.4 L164.3,242.7 L166.7,243.7 Z" fill="rgb(150,150,150)" stroke="rgb(150,150,150)" stroke-width="0.8" stroke-linejoin="round"/><ellipse cx="165.0" cy="246.2" rx="1.0" ry="0.9" fill="#444"/><rect x="182.7" y="239.5" width="73.3" height="13.5" filter="url(#nzd)" opacity="0.6"/><path d="M185.0,222.1 C185.0,206.0 197.2,201.4 214.8,201.4 L218.9,203.7 L223.0,201.4 C240.6,201.4 252.9,206.0 252.9,222.1 C252.9,236.0 239.3,247.5 227.1,247.5 L210.8,247.5 C198.5,247.5 185.0,236.0 185.0,222.1 Z" fill="#363636"/><path d="M187.1,229.7 C186.1,207.9 201.2,202.7 218.9,202.9 C236.6,202.7 251.8,207.9 250.8,229.7" fill="none" stroke="#cccccc" stroke-width="1.5"/><path d="M188.3,223.5 C188.3,208.9 199.3,204.7 215.2,204.7 L218.9,206.8 L222.6,204.7 C238.5,204.7 249.6,208.9 249.6,223.5 C249.6,236.1 237.3,246.5 226.3,246.5 L211.6,246.5 C200.5,246.5 188.3,236.1 188.3,223.5 Z" fill="#101010"/><path d="M250.9,209.9 Q254.4,221.7 251.4,239.6" fill="none" stroke="#c8c8c8" stroke-width="2.6"/><path d="M189.5,223.7 C189.5,209.9 200.1,205.9 215.4,205.9 L218.9,207.9 L222.4,205.9 C237.8,205.9 248.4,209.9 248.4,223.7 C248.4,235.6 236.6,245.5 226.0,245.5 L211.8,245.5 C201.2,245.5 189.5,235.6 189.5,223.7 Z" fill="rgb(106,106,106)"/><g clip-path="url(#bc20)"><path d="M189.5,223.7 C189.5,209.9 200.1,205.9 215.4,205.9 L218.9,207.9 L222.4,205.9 C237.8,205.9 248.4,209.9 248.4,223.7 C248.4,235.6 236.6,245.5 226.0,245.5 L211.8,245.5 C201.2,245.5 189.5,235.6 189.5,223.7 Z" fill="none" stroke="rgb(130,130,130)" stroke-width="6" filter="url(#bl3)"/><ellipse cx="209.5" cy="224.9" rx="9.4" ry="9.9" fill="#4a4a4a" opacity="0.5" filter="url(#bl2)"/><ellipse cx="227.7" cy="224.9" rx="8.8" ry="9.9" fill="#4a4a4a" opacity="0.45" filter="url(#bl2)"/><ellipse cx="218.9" cy="238.4" rx="17.7" ry="2.8" fill="rgb(136,136,136)" opacity="0.5" filter="url(#bl3)"/><ellipse cx="218.9" cy="246.5" rx="14.7" ry="5.5" fill="#3c3c3c" opacity="0.55" filter="url(#bl2)"/><ellipse cx="248.7" cy="216.0" rx="22.0" ry="11.0" fill="rgb(160,160,160)" filter="url(#bl3)"/><path d="M218.4,216.0L218.4,224.0" stroke="#e8e8e8" stroke-opacity="0.30" stroke-width="1.3"/><path d="M215.4,206.1 L218.9,209.5 L222.4,206.1" fill="none" stroke="#333" stroke-width="0.7"/><ellipse cx="209.7" cy="217.0" rx="3" ry="1.6" fill="#f0f0f0" fill-opacity="0.90"/><ellipse cx="223.7" cy="217.0" rx="3" ry="1.6" fill="#f0f0f0" fill-opacity="0.90"/><ellipse cx="216.7" cy="221.0" rx="2.5" ry="1.5" fill="#f0f0f0" fill-opacity="0.90"/><rect x="182.7" y="200.0" width="73.3" height="53.0" filter="url(#nzw)" opacity="0.14"/><rect x="182.7" y="200.0" width="73.3" height="53.0" filter="url(#nzb)" opacity="0.28"/></g><path d="M195.0,243.0 L194.3,244.6 L192.7,245.3 L191.2,244.4 L189.7,243.0 L190.9,241.2 L192.7,239.9 L194.4,241.3 Z" fill="rgb(180,180,180)" stroke="rgb(180,180,180)" stroke-width="0.8" stroke-linejoin="round"/><ellipse cx="193.6" cy="243.3" rx="1.0" ry="0.9" fill="#444"/><path d="M246.6,240.0 L246.2,242.1 L244.7,244.2 L242.8,242.4 L241.4,240.0 L242.9,237.7 L244.7,237.3 L246.6,237.4 Z" fill="rgb(190,190,190)" stroke="rgb(190,190,190)" stroke-width="0.8" stroke-linejoin="round"/><ellipse cx="245.2" cy="239.8" rx="1.0" ry="1.2" fill="#444"/><rect x="36.0" y="296.5" width="73.3" height="9.5" filter="url(#nzd)" opacity="0.6"/><path d="M39.3,279.1 C39.3,263.0 51.4,258.4 69.0,258.4 L73.0,260.7 L77.0,258.4 C94.6,258.4 106.7,263.0 106.7,279.1 C106.7,293.0 93.2,304.5 81.1,304.5 L64.9,304.5 C52.8,304.5 39.3,293.0 39.3,279.1 Z" fill="#363636"/><path d="M41.4,286.7 C40.4,264.9 55.5,259.7 73.0,259.9 C90.5,259.7 105.6,264.9 104.6,286.7" fill="none" stroke="#cccccc" stroke-width="1.5"/><path d="M42.6,280.5 C42.6,265.9 53.5,261.7 69.4,261.7 L73.0,263.8 L76.6,261.7 C92.5,261.7 103.4,265.9 103.4,280.5 C103.4,293.1 91.2,303.5 80.3,303.5 L65.7,303.5 C54.8,303.5 42.6,293.1 42.6,280.5 Z" fill="#101010"/><path d="M37.0,262.0 L53.0,265.0 L38.0,280.0 Z" fill="#d0d0d0"/><path d="M39.0,266.5 L45.5,267.0 L39.5,273.0 Z" fill="#202020"/><ellipse cx="83.5" cy="258.4" rx="9.3" ry="2.6" fill="#b8b8b8"/><path d="M43.8,280.7 C43.8,266.9 54.3,262.9 69.5,262.9 L73.0,264.9 L76.5,262.9 C91.7,262.9 102.2,266.9 102.2,280.7 C102.2,292.6 90.5,302.5 80.0,302.5 L66.0,302.5 C55.5,302.5 43.8,292.6 43.8,280.7 Z" fill="rgb(98,98,98)"/><g clip-path="url(#bc01)"><path d="M43.8,280.7 C43.8,266.9 54.3,262.9 69.5,262.9 L73.0,264.9 L76.5,262.9 C91.7,262.9 102.2,266.9 102.2,280.7 C102.2,292.6 90.5,302.5 80.0,302.5 L66.0,302.5 C55.5,302.5 43.8,292.6 43.8,280.7 Z" fill="none" stroke="rgb(122,122,122)" stroke-width="6" filter="url(#bl3)"/><ellipse cx="63.7" cy="281.9" rx="9.3" ry="9.9" fill="#4a4a4a" opacity="0.5" filter="url(#bl2)"/><ellipse cx="81.8" cy="281.9" rx="8.8" ry="9.9" fill="#4a4a4a" opacity="0.45" filter="url(#bl2)"/><ellipse cx="73.0" cy="295.4" rx="17.5" ry="2.8" fill="rgb(128,128,128)" opacity="0.5" filter="url(#bl3)"/><ellipse cx="73.0" cy="303.5" rx="14.6" ry="5.5" fill="#3c3c3c" opacity="0.55" filter="url(#bl2)"/><ellipse cx="102.0" cy="276.0" rx="22.0" ry="12.0" fill="rgb(109,109,109)" filter="url(#bl3)"/><path d="M72.5,267.0L72.5,283.0" stroke="#e8e8e8" stroke-opacity="0.35" stroke-width="1.3"/><path d="M69.5,263.1 L73.0,266.5 L76.5,263.1" fill="none" stroke="#333" stroke-width="0.7"/><rect x="36.0" y="253.0" width="73.3" height="53.0" filter="url(#nzw)" opacity="0.14"/><rect x="36.0" y="253.0" width="73.3" height="53.0" filter="url(#nzb)" opacity="0.28"/></g><path d="M52.8,298.0 L52.3,300.3 L50.0,302.3 L47.2,300.8 L47.2,298.0 L47.8,295.8 L50.0,295.2 L51.9,296.1 Z" fill="rgb(200,200,200)" stroke="rgb(200,200,200)" stroke-width="0.8" stroke-linejoin="round"/><ellipse cx="50.6" cy="297.7" rx="1.4" ry="1.2" fill="#444"/><path d="M92.2,297.0 L91.1,299.1 L89.0,299.6 L86.6,299.4 L86.5,297.0 L86.7,294.7 L89.0,294.5 L91.1,294.9 Z" fill="rgb(190,190,190)" stroke="rgb(190,190,190)" stroke-width="0.8" stroke-linejoin="round"/><ellipse cx="88.4" cy="296.8" rx="1.2" ry="1.1" fill="#444"/><rect x="109.3" y="292.5" width="73.3" height="13.5" filter="url(#nzd)" opacity="0.6"/><path d="M112.6,277.1 C112.6,262.2 124.9,257.9 142.5,257.9 L146.6,260.0 L150.7,257.9 C168.3,257.9 180.5,262.2 180.5,277.1 C180.5,289.9 166.9,300.5 154.7,300.5 L138.4,300.5 C126.2,300.5 112.6,289.9 112.6,277.1 Z" fill="#363636"/><path d="M114.7,284.1 C113.7,264.2 128.9,259.2 146.6,259.4 C164.2,259.2 179.4,264.2 178.4,284.1" fill="none" stroke="#cccccc" stroke-width="1.5"/><path d="M115.9,278.4 C115.9,265.0 127.0,261.2 142.9,261.2 L146.6,263.1 L150.3,261.2 C166.2,261.2 177.2,265.0 177.2,278.4 C177.2,289.9 165.0,299.5 153.9,299.5 L139.2,299.5 C128.2,299.5 115.9,289.9 115.9,278.4 Z" fill="#101010"/><ellipse cx="157.2" cy="257.9" rx="9.4" ry="2.6" fill="#b8b8b8"/><path d="M117.1,278.6 C117.1,266.0 127.7,262.4 143.0,262.4 L146.6,264.2 L150.1,262.4 C165.4,262.4 176.0,266.0 176.0,278.6 C176.0,289.5 164.2,298.5 153.6,298.5 L139.5,298.5 C128.9,298.5 117.1,289.5 117.1,278.6 Z" fill="rgb(104,104,104)"/><g clip-path="url(#bc11)"><path d="M117.1,278.6 C117.1,266.0 127.7,262.4 143.0,262.4 L146.6,264.2 L150.1,262.4 C165.4,262.4 176.0,266.0 176.0,278.6 C176.0,289.5 164.2,298.5 153.6,298.5 L139.5,298.5 C128.9,298.5 117.1,289.5 117.1,278.6 Z" fill="none" stroke="rgb(128,128,128)" stroke-width="6" filter="url(#bl3)"/><ellipse cx="137.2" cy="279.7" rx="9.4" ry="9.0" fill="#4a4a4a" opacity="0.5" filter="url(#bl2)"/><ellipse cx="155.4" cy="279.7" rx="8.8" ry="9.0" fill="#4a4a4a" opacity="0.45" filter="url(#bl2)"/><ellipse cx="146.6" cy="292.0" rx="17.7" ry="2.5" fill="rgb(134,134,134)" opacity="0.5" filter="url(#bl3)"/><ellipse cx="146.6" cy="299.5" rx="14.7" ry="5.1" fill="#3c3c3c" opacity="0.55" filter="url(#bl2)"/><ellipse cx="175.3" cy="276.0" rx="20.0" ry="12.0" fill="rgb(125,125,125)" filter="url(#bl3)"/><path d="M146.1,270.0L146.1,278.0" stroke="#e8e8e8" stroke-opacity="0.95" stroke-width="1.3"/><path d="M143.0,262.6 L146.6,265.6 L150.1,262.6" fill="none" stroke="#333" stroke-width="0.7"/><rect x="109.3" y="253.0" width="73.3" height="53.0" filter="url(#nzw)" opacity="0.14"/><rect x="109.3" y="253.0" width="73.3" height="53.0" filter="url(#nzb)" opacity="0.28"/></g><path d="M124.6,296.0 L123.5,298.1 L121.3,298.4 L119.1,298.2 L119.1,296.0 L119.6,294.2 L121.3,292.9 L123.3,294.0 Z" fill="rgb(170,170,170)" stroke="rgb(170,170,170)" stroke-width="0.8" stroke-linejoin="round"/><ellipse cx="120.5" cy="296.5" rx="1.0" ry="0.9" fill="#444"/><path d="M169.6,295.0 L169.0,296.6 L167.3,298.0 L165.6,296.7 L165.0,295.0 L165.9,293.6 L167.3,292.9 L169.3,293.1 Z" fill="rgb(160,160,160)" stroke="rgb(160,160,160)" stroke-width="0.8" stroke-linejoin="round"/><ellipse cx="166.8" cy="295.1" rx="1.0" ry="0.9" fill="#444"/><rect x="182.7" y="291.5" width="73.3" height="14.5" filter="url(#nzd)" opacity="0.6"/><path d="M187.0,275.4 C187.0,260.1 198.9,255.7 216.0,255.7 L220.0,257.9 L224.0,255.7 C241.2,255.7 253.1,260.1 253.1,275.4 C253.1,288.6 239.8,299.5 227.9,299.5 L212.1,299.5 C200.2,299.5 187.0,288.6 187.0,275.4 Z" fill="#363636"/><path d="M189.1,282.6 C188.1,262.1 202.9,257.0 220.0,257.2 C237.1,257.0 252.0,262.1 251.0,282.6" fill="none" stroke="#cccccc" stroke-width="1.5"/><path d="M190.3,276.8 C190.3,262.9 201.0,259.0 216.4,259.0 L220.0,261.0 L223.6,259.0 C239.0,259.0 249.8,262.9 249.8,276.8 C249.8,288.6 237.9,298.5 227.1,298.5 L212.9,298.5 C202.2,298.5 190.3,288.6 190.3,276.8 Z" fill="#101010"/><path d="M189.3,275.1 C188.5,262.1 198.3,257.0 213.2,256.6" fill="none" stroke="#d4d4d4" stroke-width="3"/><path d="M191.5,277.0 C191.5,263.9 201.7,260.2 216.6,260.2 L220.0,262.1 L223.4,260.2 C238.3,260.2 248.6,263.9 248.6,277.0 C248.6,288.2 237.1,297.5 226.9,297.5 L213.2,297.5 C202.9,297.5 191.5,288.2 191.5,277.0 Z" fill="rgb(102,102,102)"/><g clip-path="url(#bc21)"><path d="M191.5,277.0 C191.5,263.9 201.7,260.2 216.6,260.2 L220.0,262.1 L223.4,260.2 C238.3,260.2 248.6,263.9 248.6,277.0 C248.6,288.2 237.1,297.5 226.9,297.5 L213.2,297.5 C202.9,297.5 191.5,288.2 191.5,277.0 Z" fill="none" stroke="rgb(126,126,126)" stroke-width="6" filter="url(#bl3)"/><ellipse cx="210.9" cy="278.1" rx="9.1" ry="9.3" fill="#4a4a4a" opacity="0.5" filter="url(#bl2)"/><ellipse cx="228.6" cy="278.1" rx="8.6" ry="9.3" fill="#4a4a4a" opacity="0.45" filter="url(#bl2)"/><ellipse cx="220.0" cy="290.8" rx="17.1" ry="2.6" fill="rgb(132,132,132)" opacity="0.5" filter="url(#bl3)"/><ellipse cx="220.0" cy="298.5" rx="14.3" ry="5.2" fill="#3c3c3c" opacity="0.55" filter="url(#bl2)"/><ellipse cx="248.7" cy="271.5" rx="16.0" ry="11.5" fill="rgb(154,154,154)" filter="url(#bl3)"/><path d="M219.5,273.0L219.5,276.0" stroke="#e8e8e8" stroke-opacity="0.90" stroke-width="1.3"/><path d="M216.6,260.4 L220.0,263.6 L223.4,260.4" fill="none" stroke="#333" stroke-width="0.7"/><ellipse cx="206.7" cy="272.0" rx="3" ry="1.4" fill="#f0f0f0" fill-opacity="0.40"/><ellipse cx="226.7" cy="272.0" rx="3" ry="1.4" fill="#f0f0f0" fill-opacity="0.40"/><rect x="182.7" y="253.0" width="73.3" height="53.0" filter="url(#nzw)" opacity="0.14"/><rect x="182.7" y="253.0" width="73.3" height="53.0" filter="url(#nzb)" opacity="0.28"/></g><path d="M193.1,295.0 L192.5,297.4 L190.7,299.3 L188.8,297.5 L187.9,295.0 L188.5,292.1 L190.7,292.1 L192.2,293.0 Z" fill="rgb(200,200,200)" stroke="rgb(200,200,200)" stroke-width="0.8" stroke-linejoin="round"/><ellipse cx="191.5" cy="295.3" rx="1.0" ry="1.2" fill="#444"/><path d="M250.9,293.0 L250.2,294.6 L248.7,295.9 L246.4,295.3 L246.4,293.0 L246.4,290.7 L248.7,289.9 L250.6,291.0 Z" fill="rgb(190,190,190)" stroke="rgb(190,190,190)" stroke-width="0.8" stroke-linejoin="round"/><ellipse cx="248.5" cy="292.6" rx="1.0" ry="0.9" fill="#444"/><rect x="36.0" y="343.5" width="73.3" height="15.5" filter="url(#nzd)" opacity="0.6"/><path d="M36.8,327.2 C36.8,311.8 49.2,307.4 67.1,307.4 L71.2,309.6 L75.4,307.4 C93.3,307.4 105.7,311.8 105.7,327.2 C105.7,340.5 91.9,351.5 79.5,351.5 L63.0,351.5 C50.6,351.5 36.8,340.5 36.8,327.2 Z" fill="#363636"/><path d="M38.9,334.5 C37.9,313.8 53.3,308.7 71.2,308.9 C89.2,308.7 104.6,313.8 103.6,334.5" fill="none" stroke="#cccccc" stroke-width="1.5"/><path d="M40.1,328.6 C40.1,314.7 51.3,310.7 67.5,310.7 L71.2,312.7 L75.0,310.7 C91.2,310.7 102.4,314.7 102.4,328.6 C102.4,340.6 89.9,350.5 78.7,350.5 L63.8,350.5 C52.6,350.5 40.1,340.6 40.1,328.6 Z" fill="#101010"/><path d="M92.2,306.4 Q105.2,306.9 107.7,328.8 L104.2,328.8 Q103.2,310.7 91.2,309.3 Z" fill="#cfcfcf"/><path d="M41.3,328.8 C41.3,315.7 52.1,311.9 67.7,311.9 L71.2,313.8 L74.8,311.9 C90.4,311.9 101.2,315.7 101.2,328.8 C101.2,340.1 89.2,349.5 78.4,349.5 L64.1,349.5 C53.3,349.5 41.3,340.1 41.3,328.8 Z" fill="rgb(102,102,102)"/><g clip-path="url(#bc02)"><path d="M41.3,328.8 C41.3,315.7 52.1,311.9 67.7,311.9 L71.2,313.8 L74.8,311.9 C90.4,311.9 101.2,315.7 101.2,328.8 C101.2,340.1 89.2,349.5 78.4,349.5 L64.1,349.5 C53.3,349.5 41.3,340.1 41.3,328.8 Z" fill="none" stroke="rgb(126,126,126)" stroke-width="6" filter="url(#bl3)"/><ellipse cx="61.7" cy="329.9" rx="9.6" ry="9.4" fill="#4a4a4a" opacity="0.5" filter="url(#bl2)"/><ellipse cx="80.2" cy="329.9" rx="9.0" ry="9.4" fill="#4a4a4a" opacity="0.45" filter="url(#bl2)"/><ellipse cx="71.2" cy="342.7" rx="18.0" ry="2.6" fill="rgb(132,132,132)" opacity="0.5" filter="url(#bl3)"/><ellipse cx="71.2" cy="350.5" rx="15.0" ry="5.3" fill="#3c3c3c" opacity="0.55" filter="url(#bl2)"/><ellipse cx="102.0" cy="325.5" rx="13.0" ry="10.5" fill="rgb(168,168,168)" filter="url(#bl3)"/><path d="M70.8,323.0L70.8,336.0" stroke="#e8e8e8" stroke-opacity="0.95" stroke-width="1.3"/><path d="M67.7,312.1 L71.2,315.3 L74.8,312.1" fill="none" stroke="#333" stroke-width="0.7"/><rect x="36.0" y="306.0" width="73.3" height="53.0" filter="url(#nzw)" opacity="0.14"/><rect x="36.0" y="306.0" width="73.3" height="53.0" filter="url(#nzb)" opacity="0.28"/></g><path d="M86.7,351.0 L87.1,352.9 L84.0,352.9 L81.3,352.7 L80.9,351.0 L81.1,349.2 L84.0,348.7 L86.2,349.6 Z" fill="rgb(210,210,210)" stroke="rgb(210,210,210)" stroke-width="0.8" stroke-linejoin="round"/><ellipse cx="83.4" cy="351.2" rx="1.4" ry="0.8" fill="#444"/><path d="M50.0,348.0 L49.6,349.6 L48.0,350.7 L45.8,350.2 L45.2,348.0 L46.4,346.4 L48.0,344.8 L49.6,346.4 Z" fill="rgb(150,150,150)" stroke="rgb(150,150,150)" stroke-width="0.8" stroke-linejoin="round"/><ellipse cx="47.0" cy="347.8" rx="1.0" ry="0.9" fill="#444"/><rect x="109.3" y="342.5" width="73.3" height="16.5" filter="url(#nzd)" opacity="0.6"/><path d="M111.6,326.4 C111.6,311.0 123.8,306.6 141.3,306.6 L145.3,308.8 L149.4,306.6 C166.9,306.6 179.0,311.0 179.0,326.4 C179.0,339.5 165.5,350.5 153.4,350.5 L137.2,350.5 C125.1,350.5 111.6,339.5 111.6,326.4 Z" fill="#363636"/><path d="M113.7,333.5 C112.7,313.0 127.8,307.9 145.3,308.1 C162.8,307.9 177.9,313.0 176.9,333.5" fill="none" stroke="#cccccc" stroke-width="1.5"/><path d="M114.9,327.7 C114.9,313.9 125.9,309.9 141.7,309.9 L145.3,311.9 L149.0,309.9 C164.8,309.9 175.7,313.9 175.7,327.7 C175.7,339.6 163.6,349.5 152.6,349.5 L138.0,349.5 C127.1,349.5 114.9,339.6 114.9,327.7 Z" fill="#101010"/><path d="M165.5,305.6 Q178.5,306.1 181.0,327.9 L177.5,327.9 Q176.5,309.9 164.5,308.5 Z" fill="#cfcfcf"/><path d="M116.1,327.9 C116.1,314.8 126.6,311.1 141.8,311.1 L145.3,313.0 L148.8,311.1 C164.0,311.1 174.5,314.8 174.5,327.9 C174.5,339.1 162.8,348.5 152.3,348.5 L138.3,348.5 C127.8,348.5 116.1,339.1 116.1,327.9 Z" fill="rgb(102,102,102)"/><g clip-path="url(#bc12)"><path d="M116.1,327.9 C116.1,314.8 126.6,311.1 141.8,311.1 L145.3,313.0 L148.8,311.1 C164.0,311.1 174.5,314.8 174.5,327.9 C174.5,339.1 162.8,348.5 152.3,348.5 L138.3,348.5 C127.8,348.5 116.1,339.1 116.1,327.9 Z" fill="none" stroke="rgb(126,126,126)" stroke-width="6" filter="url(#bl3)"/><ellipse cx="136.0" cy="329.1" rx="9.3" ry="9.4" fill="#4a4a4a" opacity="0.5" filter="url(#bl2)"/><ellipse cx="154.1" cy="329.1" rx="8.8" ry="9.4" fill="#4a4a4a" opacity="0.45" filter="url(#bl2)"/><ellipse cx="145.3" cy="341.8" rx="17.5" ry="2.6" fill="rgb(132,132,132)" opacity="0.5" filter="url(#bl3)"/><ellipse cx="145.3" cy="349.5" rx="14.6" ry="5.2" fill="#3c3c3c" opacity="0.55" filter="url(#bl2)"/><ellipse cx="174.3" cy="325.5" rx="14.0" ry="10.5" fill="rgb(172,172,172)" filter="url(#bl3)"/><path d="M144.8,322.0L144.8,328.0" stroke="#e8e8e8" stroke-opacity="0.90" stroke-width="1.3"/><path d="M141.8,311.3 L145.3,314.5 L148.8,311.3" fill="none" stroke="#333" stroke-width="0.7"/><rect x="109.3" y="306.0" width="73.3" height="53.0" filter="url(#nzw)" opacity="0.14"/><rect x="109.3" y="306.0" width="73.3" height="53.0" filter="url(#nzb)" opacity="0.28"/></g><path d="M144.7,352.0 L143.2,353.2 L141.3,353.8 L139.0,353.4 L137.7,352.0 L139.3,350.7 L141.3,350.0 L144.3,350.1 Z" fill="rgb(200,200,200)" stroke="rgb(200,200,200)" stroke-width="0.8" stroke-linejoin="round"/><ellipse cx="142.3" cy="352.2" rx="1.4" ry="0.8" fill="#444"/><path d="M172.2,348.0 L171.3,349.9 L169.3,350.1 L167.9,349.4 L167.4,348.0 L167.1,345.8 L169.3,345.1 L171.6,345.7 Z" fill="rgb(150,150,150)" stroke="rgb(150,150,150)" stroke-width="0.8" stroke-linejoin="round"/><ellipse cx="168.4" cy="348.1" rx="1.0" ry="0.9" fill="#444"/><rect x="182.7" y="342.5" width="73.3" height="16.5" filter="url(#nzd)" opacity="0.6"/><path d="M185.0,326.4 C185.0,311.0 197.0,306.6 214.3,306.6 L218.3,308.8 L222.3,306.6 C239.7,306.6 251.7,311.0 251.7,326.4 C251.7,339.5 238.3,350.5 226.3,350.5 L210.3,350.5 C198.3,350.5 185.0,339.5 185.0,326.4 Z" fill="#363636"/><path d="M187.1,333.5 C186.1,313.0 201.0,307.9 218.3,308.1 C235.6,307.9 250.6,313.0 249.6,333.5" fill="none" stroke="#cccccc" stroke-width="1.5"/><path d="M188.3,327.7 C188.3,313.9 199.1,309.9 214.7,309.9 L218.3,311.9 L221.9,309.9 C237.5,309.9 248.4,313.9 248.4,327.7 C248.4,339.6 236.3,349.5 225.5,349.5 L211.1,349.5 C200.3,349.5 188.3,339.6 188.3,327.7 Z" fill="#101010"/><path d="M189.5,327.9 C189.5,314.8 199.8,311.1 214.8,311.1 L218.3,313.0 L221.8,311.1 C236.8,311.1 247.2,314.8 247.2,327.9 C247.2,339.1 235.6,348.5 225.2,348.5 L211.4,348.5 C201.0,348.5 189.5,339.1 189.5,327.9 Z" fill="rgb(100,100,100)"/><g clip-path="url(#bc22)"><path d="M189.5,327.9 C189.5,314.8 199.8,311.1 214.8,311.1 L218.3,313.0 L221.8,311.1 C236.8,311.1 247.2,314.8 247.2,327.9 C247.2,339.1 235.6,348.5 225.2,348.5 L211.4,348.5 C201.0,348.5 189.5,339.1 189.5,327.9 Z" fill="none" stroke="rgb(124,124,124)" stroke-width="6" filter="url(#bl3)"/><ellipse cx="209.1" cy="329.1" rx="9.2" ry="9.4" fill="#4a4a4a" opacity="0.5" filter="url(#bl2)"/><ellipse cx="227.0" cy="329.1" rx="8.7" ry="9.4" fill="#4a4a4a" opacity="0.45" filter="url(#bl2)"/><ellipse cx="218.3" cy="341.8" rx="17.3" ry="2.6" fill="rgb(130,130,130)" opacity="0.5" filter="url(#bl3)"/><ellipse cx="218.3" cy="349.5" rx="14.4" ry="5.2" fill="#3c3c3c" opacity="0.55" filter="url(#bl2)"/><ellipse cx="247.7" cy="324.5" rx="12.0" ry="9.5" fill="rgb(176,176,176)" filter="url(#bl3)"/><path d="M217.8,334.0L217.8,343.0" stroke="#e8e8e8" stroke-opacity="0.80" stroke-width="1.3"/><path d="M214.8,311.3 L218.3,314.5 L221.8,311.3" fill="none" stroke="#333" stroke-width="0.7"/><ellipse cx="211.1" cy="320.2" rx="3.2" ry="1.6" fill="#f0f0f0" fill-opacity="1.00"/><ellipse cx="225.4" cy="321.0" rx="3.2" ry="1.6" fill="#f0f0f0" fill-opacity="1.00"/><ellipse cx="218.3" cy="324.5" rx="2.4" ry="1.6" fill="#f0f0f0" fill-opacity="1.00"/><rect x="182.7" y="306.0" width="73.3" height="53.0" filter="url(#nzw)" opacity="0.14"/><rect x="182.7" y="306.0" width="73.3" height="53.0" filter="url(#nzb)" opacity="0.28"/></g><path d="M195.3,346.0 L194.7,348.1 L192.7,348.4 L190.3,348.3 L190.6,346.0 L190.8,344.1 L192.7,343.1 L194.9,343.8 Z" fill="rgb(170,170,170)" stroke="rgb(170,170,170)" stroke-width="0.8" stroke-linejoin="round"/><ellipse cx="193.1" cy="346.2" rx="1.0" ry="0.9" fill="#444"/><path d="M247.7,344.0 L246.9,346.3 L244.7,346.4 L242.6,346.0 L241.5,344.0 L242.4,341.8 L244.7,341.5 L246.8,341.9 Z" fill="rgb(170,170,170)" stroke="rgb(170,170,170)" stroke-width="0.8" stroke-linejoin="round"/><ellipse cx="245.4" cy="344.1" rx="1.0" ry="0.9" fill="#444"/><rect x="36.0" y="398.2" width="73.3" height="13.8" filter="url(#nzd)" opacity="0.6"/><path d="M38.3,382.1 C38.3,366.8 50.6,362.4 68.3,362.4 L72.3,364.6 L76.4,362.4 C94.1,362.4 106.4,366.8 106.4,382.1 C106.4,395.2 92.8,406.2 80.5,406.2 L64.2,406.2 C51.9,406.2 38.3,395.2 38.3,382.1 Z" fill="#363636"/><path d="M40.4,389.3 C39.4,368.8 54.6,363.7 72.3,363.9 C90.1,363.7 105.3,368.8 104.3,389.3" fill="none" stroke="#cccccc" stroke-width="1.5"/><path d="M41.6,383.5 C41.6,369.6 52.7,365.7 68.7,365.7 L72.3,367.7 L76.0,365.7 C92.0,365.7 103.1,369.6 103.1,383.5 C103.1,395.3 90.8,405.2 79.7,405.2 L65.0,405.2 C53.9,405.2 41.6,395.3 41.6,383.5 Z" fill="#101010"/><path d="M104.4,370.6 Q107.9,381.8 104.9,398.6" fill="none" stroke="#c8c8c8" stroke-width="2.6"/><path d="M42.8,383.7 C42.8,370.6 53.4,366.9 68.8,366.9 L72.3,368.8 L75.9,366.9 C91.3,366.9 101.9,370.6 101.9,383.7 C101.9,394.9 90.1,404.2 79.4,404.2 L65.3,404.2 C54.6,404.2 42.8,394.9 42.8,383.7 Z" fill="rgb(100,100,100)"/><g clip-path="url(#bc03)"><path d="M42.8,383.7 C42.8,370.6 53.4,366.9 68.8,366.9 L72.3,368.8 L75.9,366.9 C91.3,366.9 101.9,370.6 101.9,383.7 C101.9,394.9 90.1,404.2 79.4,404.2 L65.3,404.2 C54.6,404.2 42.8,394.9 42.8,383.7 Z" fill="none" stroke="rgb(124,124,124)" stroke-width="6" filter="url(#bl3)"/><ellipse cx="62.9" cy="384.8" rx="9.5" ry="9.3" fill="#4a4a4a" opacity="0.5" filter="url(#bl2)"/><ellipse cx="81.2" cy="384.8" rx="8.9" ry="9.3" fill="#4a4a4a" opacity="0.45" filter="url(#bl2)"/><ellipse cx="72.3" cy="397.5" rx="17.7" ry="2.6" fill="rgb(130,130,130)" opacity="0.5" filter="url(#bl3)"/><ellipse cx="72.3" cy="405.2" rx="14.8" ry="5.2" fill="#3c3c3c" opacity="0.55" filter="url(#bl2)"/><ellipse cx="101.0" cy="380.5" rx="15.0" ry="10.5" fill="rgb(140,140,140)" filter="url(#bl3)"/><path d="M71.8,377.0L71.8,387.0" stroke="#e8e8e8" stroke-opacity="0.40" stroke-width="1.3"/><path d="M68.8,367.1 L72.3,370.3 L75.9,367.1" fill="none" stroke="#333" stroke-width="0.7"/><ellipse cx="70.0" cy="377.0" rx="2" ry="1.4" fill="#f0f0f0" fill-opacity="0.50"/><rect x="36.0" y="359.0" width="73.3" height="53.0" filter="url(#nzw)" opacity="0.14"/><rect x="36.0" y="359.0" width="73.3" height="53.0" filter="url(#nzb)" opacity="0.28"/></g><path d="M55.7,404.0 L54.3,406.9 L52.0,408.6 L49.4,407.3 L49.3,404.0 L49.3,400.7 L52.0,398.5 L55.0,400.3 Z" fill="rgb(210,210,210)" stroke="rgb(210,210,210)" stroke-width="0.8" stroke-linejoin="round"/><ellipse cx="52.5" cy="403.9" rx="1.4" ry="1.5" fill="#444"/><path d="M88.9,405.0 L87.6,407.6 L85.0,408.4 L82.1,407.9 L82.2,405.0 L82.2,402.2 L85.0,402.3 L87.6,402.4 Z" fill="rgb(200,200,200)" stroke="rgb(200,200,200)" stroke-width="0.8" stroke-linejoin="round"/><ellipse cx="85.0" cy="404.7" rx="1.4" ry="1.2" fill="#444"/><rect x="109.3" y="397.5" width="73.3" height="14.5" filter="url(#nzd)" opacity="0.6"/><path d="M112.6,381.5 C112.6,366.3 124.8,361.9 142.3,361.9 L146.3,364.1 L150.4,361.9 C167.9,361.9 180.0,366.3 180.0,381.5 C180.0,394.6 166.5,405.5 154.4,405.5 L138.2,405.5 C126.1,405.5 112.6,394.6 112.6,381.5 Z" fill="#363636"/><path d="M114.7,388.7 C113.7,368.3 128.8,363.2 146.3,363.4 C163.8,363.2 178.9,368.3 177.9,388.7" fill="none" stroke="#cccccc" stroke-width="1.5"/><path d="M115.9,382.9 C115.9,369.1 126.9,365.2 142.7,365.2 L146.3,367.2 L150.0,365.2 C165.8,365.2 176.7,369.1 176.7,382.9 C176.7,394.7 164.6,404.5 153.6,404.5 L139.0,404.5 C128.1,404.5 115.9,394.7 115.9,382.9 Z" fill="#101010"/><path d="M114.9,381.2 C114.1,368.3 124.1,363.2 139.3,362.8" fill="none" stroke="#d4d4d4" stroke-width="3"/><path d="M117.1,383.1 C117.1,370.1 127.6,366.4 142.8,366.4 L146.3,368.3 L149.8,366.4 C165.0,366.4 175.5,370.1 175.5,383.1 C175.5,394.2 163.8,403.5 153.3,403.5 L139.3,403.5 C128.8,403.5 117.1,394.2 117.1,383.1 Z" fill="rgb(102,102,102)"/><g clip-path="url(#bc13)"><path d="M117.1,383.1 C117.1,370.1 127.6,366.4 142.8,366.4 L146.3,368.3 L149.8,366.4 C165.0,366.4 175.5,370.1 175.5,383.1 C175.5,394.2 163.8,403.5 153.3,403.5 L139.3,403.5 C128.8,403.5 117.1,394.2 117.1,383.1 Z" fill="none" stroke="rgb(126,126,126)" stroke-width="6" filter="url(#bl3)"/><ellipse cx="137.0" cy="384.2" rx="9.3" ry="9.3" fill="#4a4a4a" opacity="0.5" filter="url(#bl2)"/><ellipse cx="155.1" cy="384.2" rx="8.8" ry="9.3" fill="#4a4a4a" opacity="0.45" filter="url(#bl2)"/><ellipse cx="146.3" cy="396.8" rx="17.5" ry="2.6" fill="rgb(132,132,132)" opacity="0.5" filter="url(#bl3)"/><ellipse cx="146.3" cy="404.5" rx="14.6" ry="5.2" fill="#3c3c3c" opacity="0.55" filter="url(#bl2)"/><ellipse cx="175.3" cy="380.5" rx="18.0" ry="11.5" fill="rgb(172,172,172)" filter="url(#bl3)"/><path d="M145.8,377.0L145.8,381.0" stroke="#e8e8e8" stroke-opacity="0.90" stroke-width="1.3"/><path d="M142.8,366.6 L146.3,369.7 L149.8,366.6" fill="none" stroke="#333" stroke-width="0.7"/><rect x="109.3" y="359.0" width="73.3" height="53.0" filter="url(#nzw)" opacity="0.14"/><rect x="109.3" y="359.0" width="73.3" height="53.0" filter="url(#nzb)" opacity="0.28"/></g><path d="M130.7,404.0 L129.5,406.8 L127.3,408.2 L124.7,407.4 L124.7,404.0 L125.7,401.9 L127.3,400.5 L129.7,401.0 Z" fill="rgb(220,220,220)" stroke="rgb(220,220,220)" stroke-width="0.8" stroke-linejoin="round"/><ellipse cx="126.7" cy="403.7" rx="1.2" ry="1.3" fill="#444"/><path d="M164.5,405.0 L163.3,407.0 L161.3,407.5 L159.1,407.2 L158.9,405.0 L159.3,403.0 L161.3,402.8 L163.1,403.2 Z" fill="rgb(170,170,170)" stroke="rgb(170,170,170)" stroke-width="0.8" stroke-linejoin="round"/><ellipse cx="161.9" cy="405.4" rx="1.0" ry="0.9" fill="#444"/><rect x="182.7" y="397.5" width="73.3" height="14.5" filter="url(#nzd)" opacity="0.6"/><path d="M188.0,380.7 C188.0,364.9 199.5,360.4 216.1,360.4 L219.9,362.7 L223.7,360.4 C240.4,360.4 251.9,364.9 251.9,380.7 C251.9,394.2 239.1,405.5 227.6,405.5 L212.2,405.5 C200.7,405.5 188.0,394.2 188.0,380.7 Z" fill="#363636"/><path d="M190.1,388.1 C189.1,366.8 203.4,361.7 219.9,361.9 C236.4,361.7 250.8,366.8 249.8,388.1" fill="none" stroke="#cccccc" stroke-width="1.5"/><path d="M191.3,382.1 C191.3,367.8 201.6,363.7 216.5,363.7 L219.9,365.7 L223.3,363.7 C238.2,363.7 248.6,367.8 248.6,382.1 C248.6,394.3 237.1,404.5 226.8,404.5 L213.0,404.5 C202.7,404.5 191.3,394.3 191.3,382.1 Z" fill="#101010"/><path d="M192.5,382.3 C192.5,368.8 202.3,364.9 216.6,364.9 L219.9,366.8 L223.2,364.9 C237.5,364.9 247.4,368.8 247.4,382.3 C247.4,393.9 236.4,403.5 226.5,403.5 L213.3,403.5 C203.4,403.5 192.5,393.9 192.5,382.3 Z" fill="rgb(104,104,104)"/><g clip-path="url(#bc23)"><path d="M192.5,382.3 C192.5,368.8 202.3,364.9 216.6,364.9 L219.9,366.8 L223.2,364.9 C237.5,364.9 247.4,368.8 247.4,382.3 C247.4,393.9 236.4,403.5 226.5,403.5 L213.3,403.5 C203.4,403.5 192.5,393.9 192.5,382.3 Z" fill="none" stroke="rgb(128,128,128)" stroke-width="6" filter="url(#bl3)"/><ellipse cx="211.1" cy="383.4" rx="8.8" ry="9.7" fill="#4a4a4a" opacity="0.5" filter="url(#bl2)"/><ellipse cx="228.1" cy="383.4" rx="8.2" ry="9.7" fill="#4a4a4a" opacity="0.45" filter="url(#bl2)"/><ellipse cx="219.9" cy="396.6" rx="16.5" ry="2.7" fill="rgb(134,134,134)" opacity="0.5" filter="url(#bl3)"/><ellipse cx="219.9" cy="404.5" rx="13.7" ry="5.4" fill="#3c3c3c" opacity="0.55" filter="url(#bl2)"/><ellipse cx="247.7" cy="379.0" rx="18.0" ry="12.0" fill="rgb(159,159,159)" filter="url(#bl3)"/><path d="M219.4,382.0L219.4,395.0" stroke="#e8e8e8" stroke-opacity="0.50" stroke-width="1.3"/><path d="M216.6,365.1 L219.9,368.4 L223.2,365.1" fill="none" stroke="#333" stroke-width="0.7"/><ellipse cx="213.7" cy="373.0" rx="1.6" ry="1.6" fill="#f0f0f0" fill-opacity="0.60"/><ellipse cx="223.7" cy="376.0" rx="1.6" ry="1.6" fill="#f0f0f0" fill-opacity="0.60"/><ellipse cx="218.7" cy="381.0" rx="4" ry="1.2" fill="#f0f0f0" fill-opacity="0.60"/><rect x="182.7" y="359.0" width="73.3" height="53.0" filter="url(#nzw)" opacity="0.14"/><rect x="182.7" y="359.0" width="73.3" height="53.0" filter="url(#nzb)" opacity="0.28"/></g><path d="M197.8,403.0 L196.4,404.7 L194.7,405.7 L193.0,404.7 L192.5,403.0 L192.8,401.1 L194.7,399.9 L196.8,400.8 Z" fill="rgb(160,160,160)" stroke="rgb(160,160,160)" stroke-width="0.8" stroke-linejoin="round"/><ellipse cx="195.1" cy="403.5" rx="1.0" ry="0.9" fill="#444"/><path d="M245.0,401.0 L244.2,402.5 L242.7,403.6 L241.0,402.6 L240.4,401.0 L240.9,399.2 L242.7,398.2 L244.5,399.1 Z" fill="rgb(170,170,170)" stroke="rgb(170,170,170)" stroke-width="0.8" stroke-linejoin="round"/><ellipse cx="242.3" cy="401.3" rx="1.0" ry="0.9" fill="#444"/></g></g>
<text x="274.4" y="211.9" font-size="17.6" font-weight="bold" fill="#000">D</text>
<path d="M315.6,227.2L315.6,391.5" stroke="#888888" stroke-width="1"/>
<path d="M315.6,354.2L518.2,354.2" stroke="#888888" stroke-width="1"/>
<path d="M311.8,227.2L315.6,227.2" stroke="#888888" stroke-width="1"/>
<text x="306.8" y="230.89999999999998" font-size="10.5" text-anchor="end" fill="#1e1e1e">30</text>
<path d="M311.8,269.4L315.6,269.4" stroke="#888888" stroke-width="1"/>
<text x="306.8" y="273.09999999999997" font-size="10.5" text-anchor="end" fill="#1e1e1e">20</text>
<path d="M311.8,311.6L315.6,311.6" stroke="#888888" stroke-width="1"/>
<text x="306.8" y="315.3" font-size="10.5" text-anchor="end" fill="#1e1e1e">10</text>
<path d="M311.8,354.2L315.6,354.2" stroke="#888888" stroke-width="1"/>
<text x="306.8" y="357.9" font-size="10.5" text-anchor="end" fill="#1e1e1e">0</text>
<path d="M366.5,354.2L366.5,391.5" stroke="#888888" stroke-width="1"/>
<path d="M417.5,354.2L417.5,372.3" stroke="#888888" stroke-width="1"/>
<path d="M468,354.2L468,372.3" stroke="#888888" stroke-width="1"/>
<path d="M518.2,354.2L518.2,391" stroke="#888888" stroke-width="1"/>
<path d="M341.05,254.6L341.05,260.5" stroke="#444" stroke-width="0.9"/>
<path d="M339.75,254.6L342.35,254.6" stroke="#444" stroke-width="0.9"/>
<rect x="321.70" y="260.90" width="38.70" height="93.30" fill="#000" stroke="#000" stroke-width="0.8"/>
<path d="M391.75,307.8L391.75,318.2" stroke="#444" stroke-width="0.9"/>
<path d="M390.45,307.8L393.05,307.8" stroke="#444" stroke-width="0.9"/>
<rect x="372.40" y="318.60" width="38.70" height="35.60" fill="#b2b2b2" stroke="#6e6e6e" stroke-width="0.8"/>
<path d="M442.65,288.4L442.65,298.9" stroke="#444" stroke-width="0.9"/>
<path d="M441.34999999999997,288.4L443.95,288.4" stroke="#444" stroke-width="0.9"/>
<rect x="423.40" y="299.30" width="38.50" height="54.90" fill="#6c6c6c" stroke="#3c3c3c" stroke-width="0.8"/>
<path d="M493.65,258.7L493.65,272.7" stroke="#444" stroke-width="0.9"/>
<path d="M492.34999999999997,258.7L494.95,258.7" stroke="#444" stroke-width="0.9"/>
<rect x="474.70" y="273.10" width="37.90" height="81.10" fill="#242424" stroke="#111" stroke-width="0.8"/>
<text x="493.2" y="253.4" font-size="11" text-anchor="middle" font-weight="bold" fill="#111" stroke="#111" stroke-width="0.25">ns</text>
<text x="341.2" y="370.3" font-size="10.5" text-anchor="middle" fill="#1e1e1e">Saline</text>
<text x="391.8" y="370.3" font-size="10.5" text-anchor="middle" fill="#1e1e1e">20min</text>
<text x="442.7" y="370.3" font-size="10.5" text-anchor="middle" fill="#1e1e1e">1h</text>
<text x="493.4" y="370.3" font-size="10.5" text-anchor="middle" fill="#1e1e1e">4h</text>
<text x="442.7" y="389.5" font-size="10.2" text-anchor="middle" fill="#1e1e1e">ATA</text>
<path d="M348.9,223.7L436.5,223.7" stroke="#8a8a8a" stroke-width="1"/>
<path d="M348.9,237.9L390,237.9" stroke="#8a8a8a" stroke-width="1"/>
<path d="M394.80,211.55L394.80,222.05M399.35,214.18L390.25,219.43M399.35,219.43L390.25,214.18" stroke="#111" stroke-width="2.1" stroke-linecap="butt"/>
<path d="M370.40,227.15L370.40,237.65M374.95,229.78L365.85,235.03M374.95,235.03L365.85,229.78" stroke="#111" stroke-width="2.1" stroke-linecap="butt"/>
<text x="286.2" y="298.8" font-size="10.4" text-anchor="middle" font-weight="bold" fill="#111" transform="rotate(-90 286.2 298.8)">Lesion Size (mm³)</text>
<text x="0.2" y="434.0" font-size="17.6" font-weight="bold" fill="#000">E</text>
<path d="M64.3,441.5L64.3,576" stroke="#888888" stroke-width="1"/>
<path d="M64.3,576L310.6,576" stroke="#888888" stroke-width="1"/>
<path d="M60.5,441.5L64.3,441.5" stroke="#888888" stroke-width="1"/>
<text x="54.6" y="445.1" font-size="10" text-anchor="end" fill="#1e1e1e">120%</text>
<path d="M60.5,486.3L64.3,486.3" stroke="#888888" stroke-width="1"/>
<text x="54.6" y="489.90000000000003" font-size="10" text-anchor="end" fill="#1e1e1e">80%</text>
<path d="M60.5,531L64.3,531" stroke="#888888" stroke-width="1"/>
<text x="54.6" y="534.6" font-size="10" text-anchor="end" fill="#1e1e1e">40%</text>
<path d="M60.5,575.8L64.3,575.8" stroke="#888888" stroke-width="1"/>
<text x="54.6" y="579.4" font-size="10" text-anchor="end" fill="#1e1e1e">0%</text>
<path d="M64.3,576L64.3,579" stroke="#888888" stroke-width="1"/>
<text x="64.3" y="591.8" font-size="10" text-anchor="middle" fill="#1e1e1e">0</text>
<path d="M146,576L146,579" stroke="#888888" stroke-width="1"/>
<text x="146" y="591.8" font-size="10" text-anchor="middle" fill="#1e1e1e">1200</text>
<path d="M227.4,576L227.4,579" stroke="#888888" stroke-width="1"/>
<text x="227.4" y="591.8" font-size="10" text-anchor="middle" fill="#1e1e1e">2400</text>
<path d="M310.6,576L310.6,579" stroke="#888888" stroke-width="1"/>
<text x="310.6" y="591.8" font-size="10" text-anchor="middle" fill="#1e1e1e">3600</text>
<text x="185.2" y="605" font-size="10.5" text-anchor="middle" font-weight="bold" fill="#111">Time (s)</text>
<text x="22.2" y="507.6" font-size="10.6" text-anchor="middle" font-weight="bold" fill="#111" transform="rotate(-90 22.2 507.6)">Blood Flow (% of baseline)</text>
<g fill="#141414"><rect x="62.4" y="468.6" width="3.4" height="3.4"/><rect x="62.1" y="467.8" width="3.4" height="3.4"/><rect x="63.3" y="468.3" width="3.4" height="3.4"/><rect x="63.0" y="468.2" width="3.4" height="3.4"/><rect x="64.8" y="467.6" width="3.4" height="3.4"/><rect x="64.4" y="468.6" width="3.4" height="3.4"/><rect x="65.6" y="465.8" width="3.4" height="3.4"/><rect x="65.3" y="466.2" width="3.4" height="3.4"/><rect x="65.8" y="467.0" width="3.4" height="3.4"/><rect x="65.7" y="467.2" width="3.4" height="3.4"/><rect x="66.9" y="464.9" width="3.4" height="3.4"/><rect x="67.0" y="465.6" width="3.4" height="3.4"/><rect x="66.7" y="466.1" width="3.4" height="3.4"/><rect x="67.4" y="463.5" width="3.4" height="3.4"/><rect x="68.1" y="460.1" width="3.4" height="3.4"/><rect x="68.1" y="463.2" width="3.4" height="3.4"/><rect x="68.3" y="457.0" width="3.4" height="3.4"/><rect x="68.0" y="459.0" width="3.4" height="3.4"/><rect x="69.1" y="461.6" width="3.4" height="3.4"/><rect x="69.5" y="460.5" width="3.4" height="3.4"/><rect x="69.9" y="459.8" width="3.4" height="3.4"/><rect x="70.7" y="460.6" width="3.4" height="3.4"/><rect x="71.4" y="459.5" width="3.4" height="3.4"/><rect x="70.9" y="455.4" width="3.4" height="3.4"/><rect x="72.6" y="460.1" width="3.4" height="3.4"/><rect x="72.7" y="460.8" width="3.4" height="3.4"/><rect x="73.2" y="459.9" width="3.4" height="3.4"/><rect x="72.9" y="461.9" width="3.4" height="3.4"/><rect x="74.3" y="461.2" width="3.4" height="3.4"/><rect x="74.3" y="459.6" width="3.4" height="3.4"/><rect x="75.1" y="461.5" width="3.4" height="3.4"/><rect x="74.9" y="461.3" width="3.4" height="3.4"/><rect x="76.0" y="460.9" width="3.4" height="3.4"/><rect x="76.0" y="460.1" width="3.4" height="3.4"/><rect x="77.2" y="461.0" width="3.4" height="3.4"/><rect x="76.8" y="459.7" width="3.4" height="3.4"/><rect x="78.4" y="459.6" width="3.4" height="3.4"/><rect x="78.1" y="460.6" width="3.4" height="3.4"/><rect x="78.9" y="459.7" width="3.4" height="3.4"/><rect x="79.8" y="459.1" width="3.4" height="3.4"/><rect x="80.6" y="459.0" width="3.4" height="3.4"/><rect x="80.3" y="461.1" width="3.4" height="3.4"/><rect x="81.0" y="460.9" width="3.4" height="3.4"/><rect x="81.7" y="458.2" width="3.4" height="3.4"/><rect x="82.0" y="461.9" width="3.4" height="3.4"/><rect x="81.9" y="460.0" width="3.4" height="3.4"/><rect x="83.0" y="462.5" width="3.4" height="3.4"/><rect x="82.7" y="459.8" width="3.4" height="3.4"/><rect x="82.7" y="462.6" width="3.4" height="3.4"/><rect x="83.4" y="461.9" width="3.4" height="3.4"/><rect x="83.6" y="464.0" width="3.4" height="3.4"/><rect x="83.4" y="465.4" width="3.4" height="3.4"/><rect x="84.0" y="461.3" width="3.4" height="3.4"/><rect x="84.0" y="462.3" width="3.4" height="3.4"/><rect x="83.8" y="464.1" width="3.4" height="3.4"/><rect x="84.6" y="465.1" width="3.4" height="3.4"/><rect x="84.2" y="465.2" width="3.4" height="3.4"/><rect x="84.5" y="466.2" width="3.4" height="3.4"/><rect x="84.4" y="468.4" width="3.4" height="3.4"/><rect x="85.0" y="470.7" width="3.4" height="3.4"/><rect x="84.3" y="471.2" width="3.4" height="3.4"/><rect x="84.9" y="469.8" width="3.4" height="3.4"/><rect x="84.5" y="470.6" width="3.4" height="3.4"/><rect x="85.0" y="473.6" width="3.4" height="3.4"/><rect x="84.5" y="473.8" width="3.4" height="3.4"/><rect x="85.1" y="474.2" width="3.4" height="3.4"/><rect x="85.1" y="472.2" width="3.4" height="3.4"/><rect x="85.6" y="473.1" width="3.4" height="3.4"/><rect x="85.0" y="474.8" width="3.4" height="3.4"/><rect x="85.3" y="472.1" width="3.4" height="3.4"/><rect x="85.0" y="477.7" width="3.4" height="3.4"/><rect x="85.6" y="476.2" width="3.4" height="3.4"/><rect x="85.9" y="477.8" width="3.4" height="3.4"/><rect x="85.1" y="479.3" width="3.4" height="3.4"/><rect x="85.4" y="478.6" width="3.4" height="3.4"/><rect x="85.9" y="476.7" width="3.4" height="3.4"/><rect x="86.2" y="481.4" width="3.4" height="3.4"/><rect x="85.5" y="477.1" width="3.4" height="3.4"/><rect x="86.4" y="480.4" width="3.4" height="3.4"/><rect x="86.1" y="479.0" width="3.4" height="3.4"/><rect x="86.6" y="478.3" width="3.4" height="3.4"/><rect x="86.6" y="481.5" width="3.4" height="3.4"/><rect x="85.9" y="481.6" width="3.4" height="3.4"/><rect x="86.2" y="479.7" width="3.4" height="3.4"/><rect x="86.7" y="483.7" width="3.4" height="3.4"/><rect x="86.6" y="482.3" width="3.4" height="3.4"/><rect x="86.3" y="483.4" width="3.4" height="3.4"/><rect x="86.3" y="484.7" width="3.4" height="3.4"/><rect x="86.5" y="485.2" width="3.4" height="3.4"/><rect x="86.9" y="484.0" width="3.4" height="3.4"/><rect x="86.9" y="485.7" width="3.4" height="3.4"/><rect x="87.2" y="485.6" width="3.4" height="3.4"/><rect x="86.8" y="488.1" width="3.4" height="3.4"/><rect x="86.6" y="487.7" width="3.4" height="3.4"/><rect x="87.1" y="488.3" width="3.4" height="3.4"/><rect x="87.3" y="489.1" width="3.4" height="3.4"/><rect x="87.2" y="492.6" width="3.4" height="3.4"/><rect x="87.0" y="490.5" width="3.4" height="3.4"/><rect x="87.1" y="491.1" width="3.4" height="3.4"/><rect x="86.8" y="492.0" width="3.4" height="3.4"/><rect x="87.1" y="493.4" width="3.4" height="3.4"/><rect x="87.6" y="497.5" width="3.4" height="3.4"/><rect x="87.0" y="494.8" width="3.4" height="3.4"/><rect x="87.5" y="492.2" width="3.4" height="3.4"/><rect x="87.7" y="495.2" width="3.4" height="3.4"/><rect x="87.5" y="494.6" width="3.4" height="3.4"/><rect x="87.5" y="498.1" width="3.4" height="3.4"/><rect x="87.4" y="494.8" width="3.4" height="3.4"/><rect x="87.3" y="497.5" width="3.4" height="3.4"/><rect x="88.2" y="496.9" width="3.4" height="3.4"/><rect x="88.3" y="498.7" width="3.4" height="3.4"/><rect x="87.4" y="497.3" width="3.4" height="3.4"/><rect x="87.9" y="495.8" width="3.4" height="3.4"/><rect x="88.0" y="498.4" width="3.4" height="3.4"/><rect x="87.6" y="496.6" width="3.4" height="3.4"/><rect x="87.7" y="494.5" width="3.4" height="3.4"/><rect x="88.2" y="497.2" width="3.4" height="3.4"/><rect x="87.9" y="497.6" width="3.4" height="3.4"/><rect x="88.5" y="499.7" width="3.4" height="3.4"/><rect x="88.6" y="500.3" width="3.4" height="3.4"/><rect x="88.5" y="500.1" width="3.4" height="3.4"/><rect x="88.7" y="499.5" width="3.4" height="3.4"/><rect x="88.4" y="499.6" width="3.4" height="3.4"/><rect x="88.3" y="502.8" width="3.4" height="3.4"/><rect x="88.5" y="502.0" width="3.4" height="3.4"/><rect x="89.1" y="501.1" width="3.4" height="3.4"/><rect x="88.8" y="502.5" width="3.4" height="3.4"/><rect x="89.3" y="502.5" width="3.4" height="3.4"/><rect x="88.6" y="503.1" width="3.4" height="3.4"/><rect x="88.9" y="503.7" width="3.4" height="3.4"/><rect x="89.5" y="500.5" width="3.4" height="3.4"/><rect x="89.1" y="505.4" width="3.4" height="3.4"/><rect x="89.0" y="503.8" width="3.4" height="3.4"/><rect x="89.5" y="504.7" width="3.4" height="3.4"/><rect x="89.6" y="505.7" width="3.4" height="3.4"/><rect x="89.1" y="504.7" width="3.4" height="3.4"/><rect x="89.8" y="509.6" width="3.4" height="3.4"/><rect x="89.5" y="508.9" width="3.4" height="3.4"/><rect x="89.7" y="508.8" width="3.4" height="3.4"/><rect x="89.4" y="510.0" width="3.4" height="3.4"/><rect x="89.5" y="510.7" width="3.4" height="3.4"/><rect x="89.5" y="509.0" width="3.4" height="3.4"/><rect x="89.5" y="511.8" width="3.4" height="3.4"/><rect x="89.8" y="508.8" width="3.4" height="3.4"/><rect x="89.5" y="509.5" width="3.4" height="3.4"/><rect x="89.9" y="512.9" width="3.4" height="3.4"/><rect x="90.3" y="512.3" width="3.4" height="3.4"/><rect x="89.7" y="510.4" width="3.4" height="3.4"/><rect x="90.6" y="512.6" width="3.4" height="3.4"/><rect x="90.7" y="512.6" width="3.4" height="3.4"/><rect x="89.9" y="514.2" width="3.4" height="3.4"/><rect x="90.8" y="512.9" width="3.4" height="3.4"/><rect x="90.8" y="516.1" width="3.4" height="3.4"/><rect x="90.3" y="514.8" width="3.4" height="3.4"/><rect x="90.2" y="515.1" width="3.4" height="3.4"/><rect x="90.3" y="515.8" width="3.4" height="3.4"/><rect x="90.9" y="517.4" width="3.4" height="3.4"/><rect x="90.8" y="517.1" width="3.4" height="3.4"/><rect x="90.5" y="517.9" width="3.4" height="3.4"/><rect x="91.2" y="517.5" width="3.4" height="3.4"/><rect x="90.9" y="517.5" width="3.4" height="3.4"/><rect x="90.5" y="518.6" width="3.4" height="3.4"/><rect x="91.5" y="518.9" width="3.4" height="3.4"/><rect x="90.9" y="519.7" width="3.4" height="3.4"/><rect x="91.4" y="520.7" width="3.4" height="3.4"/><rect x="91.1" y="516.0" width="3.4" height="3.4"/><rect x="91.5" y="520.7" width="3.4" height="3.4"/><rect x="91.5" y="517.7" width="3.4" height="3.4"/><rect x="92.0" y="524.6" width="3.4" height="3.4"/><rect x="91.4" y="523.2" width="3.4" height="3.4"/><rect x="91.2" y="522.2" width="3.4" height="3.4"/><rect x="91.5" y="522.9" width="3.4" height="3.4"/><rect x="91.4" y="523.6" width="3.4" height="3.4"/><rect x="91.3" y="527.6" width="3.4" height="3.4"/><rect x="91.8" y="529.2" width="3.4" height="3.4"/><rect x="91.8" y="528.3" width="3.4" height="3.4"/><rect x="92.0" y="533.2" width="3.4" height="3.4"/><rect x="92.3" y="527.9" width="3.4" height="3.4"/><rect x="92.5" y="530.5" width="3.4" height="3.4"/><rect x="92.5" y="527.0" width="3.4" height="3.4"/><rect x="92.2" y="527.7" width="3.4" height="3.4"/><rect x="92.6" y="528.6" width="3.4" height="3.4"/><rect x="91.9" y="531.0" width="3.4" height="3.4"/><rect x="92.7" y="529.7" width="3.4" height="3.4"/><rect x="92.2" y="530.6" width="3.4" height="3.4"/><rect x="92.7" y="529.8" width="3.4" height="3.4"/><rect x="93.1" y="531.3" width="3.4" height="3.4"/><rect x="92.6" y="532.7" width="3.4" height="3.4"/><rect x="93.2" y="535.8" width="3.4" height="3.4"/><rect x="92.8" y="534.3" width="3.4" height="3.4"/><rect x="93.0" y="537.5" width="3.4" height="3.4"/><rect x="93.2" y="534.1" width="3.4" height="3.4"/><rect x="92.9" y="535.2" width="3.4" height="3.4"/><rect x="93.2" y="534.7" width="3.4" height="3.4"/><rect x="93.8" y="534.1" width="3.4" height="3.4"/><rect x="93.4" y="535.9" width="3.4" height="3.4"/><rect x="93.6" y="540.1" width="3.4" height="3.4"/><rect x="93.6" y="536.3" width="3.4" height="3.4"/><rect x="93.5" y="538.0" width="3.4" height="3.4"/><rect x="93.3" y="538.6" width="3.4" height="3.4"/><rect x="93.8" y="537.4" width="3.4" height="3.4"/><rect x="93.9" y="537.6" width="3.4" height="3.4"/><rect x="94.2" y="539.5" width="3.4" height="3.4"/><rect x="94.0" y="539.4" width="3.4" height="3.4"/><rect x="94.5" y="537.8" width="3.4" height="3.4"/><rect x="94.1" y="538.9" width="3.4" height="3.4"/><rect x="94.5" y="539.1" width="3.4" height="3.4"/><rect x="94.7" y="540.7" width="3.4" height="3.4"/><rect x="94.9" y="539.9" width="3.4" height="3.4"/><rect x="94.8" y="539.2" width="3.4" height="3.4"/><rect x="96.1" y="542.2" width="3.4" height="3.4"/><rect x="96.2" y="542.5" width="3.4" height="3.4"/><rect x="97.1" y="542.6" width="3.4" height="3.4"/><rect x="96.2" y="542.8" width="3.4" height="3.4"/><rect x="97.1" y="543.9" width="3.4" height="3.4"/><rect x="97.6" y="543.9" width="3.4" height="3.4"/><rect x="99.0" y="542.5" width="3.4" height="3.4"/><rect x="98.2" y="546.1" width="3.4" height="3.4"/><rect x="99.5" y="544.4" width="3.4" height="3.4"/><rect x="99.1" y="544.8" width="3.4" height="3.4"/><rect x="100.4" y="546.0" width="3.4" height="3.4"/><rect x="100.0" y="545.0" width="3.4" height="3.4"/><rect x="101.0" y="543.9" width="3.4" height="3.4"/><rect x="101.4" y="543.2" width="3.4" height="3.4"/><rect x="101.8" y="546.3" width="3.4" height="3.4"/><rect x="102.3" y="544.2" width="3.4" height="3.4"/><rect x="103.3" y="544.2" width="3.4" height="3.4"/><rect x="103.1" y="543.8" width="3.4" height="3.4"/><rect x="104.0" y="545.5" width="3.4" height="3.4"/><rect x="104.2" y="546.2" width="3.4" height="3.4"/><rect x="105.4" y="547.1" width="3.4" height="3.4"/><rect x="104.9" y="544.5" width="3.4" height="3.4"/><rect x="106.1" y="543.7" width="3.4" height="3.4"/><rect x="106.4" y="545.7" width="3.4" height="3.4"/><rect x="107.1" y="544.4" width="3.4" height="3.4"/><rect x="106.9" y="542.7" width="3.4" height="3.4"/><rect x="108.5" y="547.6" width="3.4" height="3.4"/><rect x="108.7" y="546.7" width="3.4" height="3.4"/><rect x="109.4" y="543.2" width="3.4" height="3.4"/><rect x="109.3" y="541.6" width="3.4" height="3.4"/><rect x="110.6" y="545.2" width="3.4" height="3.4"/><rect x="110.5" y="543.7" width="3.4" height="3.4"/><rect x="111.5" y="545.3" width="3.4" height="3.4"/><rect x="111.0" y="544.0" width="3.4" height="3.4"/><rect x="112.6" y="550.3" width="3.4" height="3.4"/><rect x="112.1" y="546.2" width="3.4" height="3.4"/><rect x="113.8" y="543.6" width="3.4" height="3.4"/><rect x="112.8" y="544.8" width="3.4" height="3.4"/><rect x="114.0" y="548.3" width="3.4" height="3.4"/><rect x="114.5" y="547.6" width="3.4" height="3.4"/><rect x="115.3" y="550.4" width="3.4" height="3.4"/><rect x="115.4" y="549.4" width="3.4" height="3.4"/><rect x="116.1" y="548.7" width="3.4" height="3.4"/><rect x="116.4" y="548.7" width="3.4" height="3.4"/><rect x="116.8" y="549.9" width="3.4" height="3.4"/><rect x="117.7" y="549.0" width="3.4" height="3.4"/><rect x="118.1" y="546.5" width="3.4" height="3.4"/><rect x="118.8" y="547.8" width="3.4" height="3.4"/><rect x="119.1" y="549.0" width="3.4" height="3.4"/><rect x="119.1" y="547.8" width="3.4" height="3.4"/><rect x="120.0" y="547.7" width="3.4" height="3.4"/><rect x="120.5" y="546.6" width="3.4" height="3.4"/><rect x="121.4" y="549.2" width="3.4" height="3.4"/><rect x="120.9" y="546.7" width="3.4" height="3.4"/><rect x="122.2" y="550.2" width="3.4" height="3.4"/><rect x="122.3" y="546.4" width="3.4" height="3.4"/><rect x="123.1" y="547.8" width="3.4" height="3.4"/><rect x="123.7" y="548.1" width="3.4" height="3.4"/><rect x="124.7" y="548.5" width="3.4" height="3.4"/><rect x="124.8" y="546.4" width="3.4" height="3.4"/><rect x="125.3" y="547.9" width="3.4" height="3.4"/><rect x="125.5" y="547.1" width="3.4" height="3.4"/><rect x="125.9" y="548.4" width="3.4" height="3.4"/><rect x="125.9" y="553.0" width="3.4" height="3.4"/><rect x="127.5" y="545.5" width="3.4" height="3.4"/><rect x="126.8" y="548.3" width="3.4" height="3.4"/><rect x="128.6" y="545.8" width="3.4" height="3.4"/><rect x="128.6" y="546.7" width="3.4" height="3.4"/><rect x="129.2" y="547.4" width="3.4" height="3.4"/><rect x="129.5" y="546.0" width="3.4" height="3.4"/><rect x="130.4" y="547.8" width="3.4" height="3.4"/><rect x="130.0" y="545.2" width="3.4" height="3.4"/><rect x="131.1" y="546.7" width="3.4" height="3.4"/><rect x="131.2" y="548.3" width="3.4" height="3.4"/><rect x="132.3" y="546.0" width="3.4" height="3.4"/><rect x="132.5" y="549.1" width="3.4" height="3.4"/><rect x="133.3" y="550.4" width="3.4" height="3.4"/><rect x="133.1" y="547.5" width="3.4" height="3.4"/><rect x="134.1" y="548.1" width="3.4" height="3.4"/><rect x="134.5" y="545.7" width="3.4" height="3.4"/><rect x="135.0" y="545.9" width="3.4" height="3.4"/><rect x="135.7" y="545.8" width="3.4" height="3.4"/><rect x="136.6" y="548.3" width="3.4" height="3.4"/><rect x="136.2" y="545.9" width="3.4" height="3.4"/><rect x="137.7" y="548.1" width="3.4" height="3.4"/><rect x="136.8" y="547.3" width="3.4" height="3.4"/><rect x="138.3" y="548.3" width="3.4" height="3.4"/><rect x="138.5" y="546.9" width="3.4" height="3.4"/><rect x="139.1" y="550.3" width="3.4" height="3.4"/><rect x="139.7" y="548.4" width="3.4" height="3.4"/><rect x="139.9" y="549.8" width="3.4" height="3.4"/><rect x="140.5" y="547.6" width="3.4" height="3.4"/><rect x="141.2" y="548.5" width="3.4" height="3.4"/><rect x="140.9" y="547.8" width="3.4" height="3.4"/><rect x="142.5" y="545.7" width="3.4" height="3.4"/><rect x="142.0" y="549.3" width="3.4" height="3.4"/><rect x="143.0" y="549.4" width="3.4" height="3.4"/><rect x="143.1" y="550.5" width="3.4" height="3.4"/><rect x="144.2" y="548.9" width="3.4" height="3.4"/><rect x="143.9" y="548.7" width="3.4" height="3.4"/><rect x="145.1" y="547.9" width="3.4" height="3.4"/><rect x="145.3" y="547.5" width="3.4" height="3.4"/><rect x="146.0" y="548.6" width="3.4" height="3.4"/><rect x="146.5" y="553.1" width="3.4" height="3.4"/><rect x="147.0" y="548.8" width="3.4" height="3.4"/><rect x="147.4" y="548.2" width="3.4" height="3.4"/><rect x="148.7" y="550.4" width="3.4" height="3.4"/><rect x="148.3" y="548.7" width="3.4" height="3.4"/><rect x="149.3" y="552.2" width="3.4" height="3.4"/><rect x="149.1" y="547.1" width="3.4" height="3.4"/><rect x="150.5" y="549.6" width="3.4" height="3.4"/><rect x="150.3" y="548.9" width="3.4" height="3.4"/><rect x="151.5" y="548.4" width="3.4" height="3.4"/><rect x="151.8" y="547.0" width="3.4" height="3.4"/><rect x="151.9" y="546.9" width="3.4" height="3.4"/><rect x="152.2" y="549.1" width="3.4" height="3.4"/><rect x="153.4" y="547.1" width="3.4" height="3.4"/><rect x="153.4" y="546.5" width="3.4" height="3.4"/><rect x="154.5" y="547.9" width="3.4" height="3.4"/><rect x="154.5" y="547.4" width="3.4" height="3.4"/><rect x="155.4" y="548.9" width="3.4" height="3.4"/><rect x="154.8" y="548.2" width="3.4" height="3.4"/><rect x="156.2" y="548.1" width="3.4" height="3.4"/><rect x="156.7" y="549.4" width="3.4" height="3.4"/><rect x="156.9" y="550.9" width="3.4" height="3.4"/><rect x="157.0" y="546.9" width="3.4" height="3.4"/><rect x="158.5" y="550.0" width="3.4" height="3.4"/><rect x="158.4" y="550.0" width="3.4" height="3.4"/><rect x="158.8" y="548.2" width="3.4" height="3.4"/><rect x="159.6" y="548.5" width="3.4" height="3.4"/><rect x="160.3" y="546.5" width="3.4" height="3.4"/><rect x="160.0" y="549.6" width="3.4" height="3.4"/><rect x="161.6" y="548.8" width="3.4" height="3.4"/><rect x="161.4" y="546.7" width="3.4" height="3.4"/><rect x="162.0" y="549.2" width="3.4" height="3.4"/><rect x="162.7" y="549.0" width="3.4" height="3.4"/><rect x="163.5" y="548.6" width="3.4" height="3.4"/><rect x="163.2" y="550.5" width="3.4" height="3.4"/><rect x="164.6" y="549.5" width="3.4" height="3.4"/><rect x="164.1" y="549.0" width="3.4" height="3.4"/><rect x="165.5" y="549.0" width="3.4" height="3.4"/><rect x="165.8" y="549.9" width="3.4" height="3.4"/><rect x="166.7" y="548.9" width="3.4" height="3.4"/><rect x="165.9" y="547.4" width="3.4" height="3.4"/><rect x="166.9" y="544.3" width="3.4" height="3.4"/><rect x="167.4" y="549.1" width="3.4" height="3.4"/><rect x="168.3" y="550.7" width="3.4" height="3.4"/><rect x="168.5" y="551.0" width="3.4" height="3.4"/><rect x="169.1" y="552.1" width="3.4" height="3.4"/><rect x="169.2" y="548.1" width="3.4" height="3.4"/><rect x="169.9" y="550.1" width="3.4" height="3.4"/><rect x="170.0" y="550.9" width="3.4" height="3.4"/><rect x="171.4" y="551.2" width="3.4" height="3.4"/><rect x="171.2" y="547.6" width="3.4" height="3.4"/><rect x="172.6" y="551.0" width="3.4" height="3.4"/><rect x="172.5" y="549.7" width="3.4" height="3.4"/><rect x="173.2" y="548.8" width="3.4" height="3.4"/><rect x="173.2" y="549.3" width="3.4" height="3.4"/><rect x="174.6" y="548.2" width="3.4" height="3.4"/><rect x="174.1" y="550.1" width="3.4" height="3.4"/><rect x="175.5" y="551.4" width="3.4" height="3.4"/><rect x="175.5" y="550.6" width="3.4" height="3.4"/><rect x="176.1" y="549.6" width="3.4" height="3.4"/><rect x="176.0" y="546.9" width="3.4" height="3.4"/><rect x="177.6" y="550.7" width="3.4" height="3.4"/><rect x="177.5" y="550.3" width="3.4" height="3.4"/><rect x="178.7" y="548.3" width="3.4" height="3.4"/><rect x="178.0" y="548.4" width="3.4" height="3.4"/><rect x="179.8" y="549.8" width="3.4" height="3.4"/><rect x="179.5" y="548.1" width="3.4" height="3.4"/><rect x="180.5" y="546.7" width="3.4" height="3.4"/><rect x="179.9" y="547.5" width="3.4" height="3.4"/><rect x="181.4" y="548.2" width="3.4" height="3.4"/><rect x="181.2" y="546.5" width="3.4" height="3.4"/><rect x="182.1" y="545.4" width="3.4" height="3.4"/><rect x="182.1" y="547.9" width="3.4" height="3.4"/><rect x="183.1" y="547.9" width="3.4" height="3.4"/><rect x="183.0" y="548.8" width="3.4" height="3.4"/><rect x="184.0" y="546.2" width="3.4" height="3.4"/><rect x="184.2" y="548.4" width="3.4" height="3.4"/><rect x="184.9" y="546.1" width="3.4" height="3.4"/><rect x="184.8" y="543.7" width="3.4" height="3.4"/><rect x="186.8" y="546.3" width="3.4" height="3.4"/><rect x="186.3" y="547.9" width="3.4" height="3.4"/><rect x="186.9" y="550.9" width="3.4" height="3.4"/><rect x="187.4" y="544.3" width="3.4" height="3.4"/><rect x="188.1" y="546.2" width="3.4" height="3.4"/><rect x="188.7" y="541.8" width="3.4" height="3.4"/><rect x="189.1" y="546.4" width="3.4" height="3.4"/><rect x="189.5" y="547.6" width="3.4" height="3.4"/><rect x="190.0" y="545.1" width="3.4" height="3.4"/><rect x="190.2" y="547.4" width="3.4" height="3.4"/><rect x="191.3" y="548.2" width="3.4" height="3.4"/><rect x="191.1" y="547.7" width="3.4" height="3.4"/><rect x="192.3" y="545.3" width="3.4" height="3.4"/><rect x="192.5" y="547.2" width="3.4" height="3.4"/><rect x="193.2" y="548.2" width="3.4" height="3.4"/><rect x="193.0" y="546.2" width="3.4" height="3.4"/><rect x="193.9" y="549.7" width="3.4" height="3.4"/><rect x="194.4" y="548.0" width="3.4" height="3.4"/><rect x="194.9" y="548.3" width="3.4" height="3.4"/><rect x="195.0" y="546.4" width="3.4" height="3.4"/><rect x="196.4" y="549.2" width="3.4" height="3.4"/><rect x="195.9" y="549.0" width="3.4" height="3.4"/><rect x="197.7" y="547.5" width="3.4" height="3.4"/><rect x="197.8" y="548.5" width="3.4" height="3.4"/></g>
<g fill="#141414"><rect x="198.4" y="547.8" width="3.4" height="3.4"/><rect x="198.2" y="547.1" width="3.4" height="3.4"/><rect x="199.6" y="548.0" width="3.4" height="3.4"/><rect x="199.2" y="547.5" width="3.4" height="3.4"/><rect x="200.2" y="548.8" width="3.4" height="3.4"/><rect x="200.5" y="548.4" width="3.4" height="3.4"/><rect x="201.4" y="548.0" width="3.4" height="3.4"/><rect x="201.7" y="549.5" width="3.4" height="3.4"/><rect x="202.1" y="548.1" width="3.4" height="3.4"/><rect x="201.8" y="549.2" width="3.4" height="3.4"/><rect x="203.6" y="549.5" width="3.4" height="3.4"/><rect x="203.3" y="548.8" width="3.4" height="3.4"/><rect x="204.0" y="549.9" width="3.4" height="3.4"/><rect x="204.1" y="548.7" width="3.4" height="3.4"/><rect x="205.0" y="549.3" width="3.4" height="3.4"/><rect x="205.5" y="548.4" width="3.4" height="3.4"/><rect x="205.9" y="549.6" width="3.4" height="3.4"/><rect x="206.1" y="549.0" width="3.4" height="3.4"/><rect x="207.5" y="548.5" width="3.4" height="3.4"/><rect x="207.1" y="550.0" width="3.4" height="3.4"/><rect x="208.3" y="549.3" width="3.4" height="3.4"/><rect x="208.3" y="549.9" width="3.4" height="3.4"/><rect x="209.8" y="550.6" width="3.4" height="3.4"/><rect x="209.1" y="550.5" width="3.4" height="3.4"/><rect x="210.3" y="550.0" width="3.4" height="3.4"/><rect x="209.8" y="549.1" width="3.4" height="3.4"/><rect x="211.2" y="548.7" width="3.4" height="3.4"/><rect x="211.4" y="549.9" width="3.4" height="3.4"/><rect x="211.8" y="550.1" width="3.4" height="3.4"/><rect x="212.3" y="550.4" width="3.4" height="3.4"/><rect x="213.5" y="550.2" width="3.4" height="3.4"/><rect x="213.7" y="550.1" width="3.4" height="3.4"/><rect x="214.1" y="550.4" width="3.4" height="3.4"/><rect x="214.0" y="550.5" width="3.4" height="3.4"/><rect x="215.5" y="550.1" width="3.4" height="3.4"/><rect x="215.8" y="550.5" width="3.4" height="3.4"/><rect x="216.5" y="550.4" width="3.4" height="3.4"/><rect x="216.4" y="550.3" width="3.4" height="3.4"/><rect x="217.6" y="551.3" width="3.4" height="3.4"/><rect x="217.3" y="552.0" width="3.4" height="3.4"/><rect x="218.0" y="552.4" width="3.4" height="3.4"/><rect x="218.1" y="551.1" width="3.4" height="3.4"/><rect x="219.2" y="550.4" width="3.4" height="3.4"/><rect x="219.5" y="549.8" width="3.4" height="3.4"/><rect x="220.1" y="550.9" width="3.4" height="3.4"/><rect x="220.0" y="551.1" width="3.4" height="3.4"/><rect x="221.5" y="550.4" width="3.4" height="3.4"/><rect x="221.1" y="550.3" width="3.4" height="3.4"/><rect x="222.5" y="551.4" width="3.4" height="3.4"/><rect x="222.0" y="550.1" width="3.4" height="3.4"/><rect x="223.5" y="551.4" width="3.4" height="3.4"/><rect x="223.0" y="550.3" width="3.4" height="3.4"/><rect x="224.5" y="550.6" width="3.4" height="3.4"/><rect x="223.9" y="551.9" width="3.4" height="3.4"/><rect x="225.4" y="550.2" width="3.4" height="3.4"/><rect x="225.7" y="549.6" width="3.4" height="3.4"/><rect x="226.2" y="550.8" width="3.4" height="3.4"/><rect x="226.2" y="549.9" width="3.4" height="3.4"/><rect x="227.0" y="550.5" width="3.4" height="3.4"/><rect x="227.8" y="549.2" width="3.4" height="3.4"/><rect x="228.3" y="549.3" width="3.4" height="3.4"/><rect x="228.5" y="550.4" width="3.4" height="3.4"/><rect x="229.4" y="549.8" width="3.4" height="3.4"/><rect x="229.4" y="548.7" width="3.4" height="3.4"/><rect x="230.4" y="549.0" width="3.4" height="3.4"/><rect x="229.9" y="550.2" width="3.4" height="3.4"/><rect x="230.9" y="550.7" width="3.4" height="3.4"/><rect x="231.3" y="551.7" width="3.4" height="3.4"/><rect x="232.0" y="549.8" width="3.4" height="3.4"/><rect x="232.1" y="549.6" width="3.4" height="3.4"/><rect x="233.5" y="549.2" width="3.4" height="3.4"/><rect x="233.3" y="549.4" width="3.4" height="3.4"/><rect x="234.6" y="549.3" width="3.4" height="3.4"/><rect x="234.6" y="549.5" width="3.4" height="3.4"/><rect x="235.3" y="549.1" width="3.4" height="3.4"/><rect x="235.6" y="548.2" width="3.4" height="3.4"/><rect x="235.9" y="549.4" width="3.4" height="3.4"/><rect x="236.4" y="550.9" width="3.4" height="3.4"/><rect x="237.4" y="549.4" width="3.4" height="3.4"/><rect x="237.5" y="550.0" width="3.4" height="3.4"/><rect x="238.2" y="548.2" width="3.4" height="3.4"/><rect x="238.2" y="548.7" width="3.4" height="3.4"/><rect x="239.2" y="549.6" width="3.4" height="3.4"/><rect x="239.8" y="550.2" width="3.4" height="3.4"/><rect x="240.0" y="548.8" width="3.4" height="3.4"/><rect x="239.9" y="549.6" width="3.4" height="3.4"/><rect x="241.7" y="548.7" width="3.4" height="3.4"/><rect x="240.9" y="548.3" width="3.4" height="3.4"/><rect x="242.1" y="548.3" width="3.4" height="3.4"/><rect x="242.3" y="550.3" width="3.4" height="3.4"/><rect x="243.1" y="549.7" width="3.4" height="3.4"/><rect x="243.2" y="550.2" width="3.4" height="3.4"/><rect x="244.7" y="550.0" width="3.4" height="3.4"/><rect x="244.7" y="551.4" width="3.4" height="3.4"/><rect x="245.3" y="552.3" width="3.4" height="3.4"/><rect x="245.6" y="549.5" width="3.4" height="3.4"/><rect x="246.1" y="549.3" width="3.4" height="3.4"/><rect x="246.7" y="549.8" width="3.4" height="3.4"/><rect x="247.5" y="549.1" width="3.4" height="3.4"/><rect x="247.4" y="549.0" width="3.4" height="3.4"/><rect x="248.0" y="548.2" width="3.4" height="3.4"/><rect x="248.6" y="548.0" width="3.4" height="3.4"/><rect x="249.8" y="550.0" width="3.4" height="3.4"/><rect x="249.7" y="547.7" width="3.4" height="3.4"/><rect x="250.3" y="548.1" width="3.4" height="3.4"/><rect x="250.3" y="549.1" width="3.4" height="3.4"/><rect x="251.4" y="548.8" width="3.4" height="3.4"/><rect x="251.8" y="549.3" width="3.4" height="3.4"/><rect x="252.1" y="548.5" width="3.4" height="3.4"/><rect x="252.8" y="549.6" width="3.4" height="3.4"/><rect x="253.7" y="550.4" width="3.4" height="3.4"/><rect x="253.4" y="548.6" width="3.4" height="3.4"/><rect x="254.3" y="549.7" width="3.4" height="3.4"/><rect x="253.9" y="549.6" width="3.4" height="3.4"/><rect x="254.9" y="550.9" width="3.4" height="3.4"/><rect x="255.5" y="548.6" width="3.4" height="3.4"/><rect x="256.7" y="550.8" width="3.4" height="3.4"/><rect x="256.0" y="550.6" width="3.4" height="3.4"/><rect x="257.4" y="550.6" width="3.4" height="3.4"/><rect x="257.4" y="550.5" width="3.4" height="3.4"/><rect x="258.2" y="550.4" width="3.4" height="3.4"/><rect x="257.9" y="552.1" width="3.4" height="3.4"/><rect x="259.1" y="548.3" width="3.4" height="3.4"/><rect x="259.2" y="549.6" width="3.4" height="3.4"/><rect x="260.8" y="550.8" width="3.4" height="3.4"/><rect x="260.6" y="551.4" width="3.4" height="3.4"/><rect x="261.4" y="552.6" width="3.4" height="3.4"/><rect x="261.6" y="550.3" width="3.4" height="3.4"/><rect x="262.4" y="551.8" width="3.4" height="3.4"/><rect x="261.9" y="551.7" width="3.4" height="3.4"/><rect x="263.3" y="553.0" width="3.4" height="3.4"/><rect x="263.1" y="553.0" width="3.4" height="3.4"/><rect x="264.0" y="552.6" width="3.4" height="3.4"/><rect x="264.0" y="553.5" width="3.4" height="3.4"/><rect x="265.1" y="552.8" width="3.4" height="3.4"/><rect x="265.3" y="552.4" width="3.4" height="3.4"/><rect x="266.5" y="551.7" width="3.4" height="3.4"/><rect x="265.9" y="551.3" width="3.4" height="3.4"/><rect x="267.1" y="552.5" width="3.4" height="3.4"/><rect x="267.4" y="552.8" width="3.4" height="3.4"/><rect x="268.6" y="551.7" width="3.4" height="3.4"/><rect x="268.0" y="551.4" width="3.4" height="3.4"/><rect x="269.6" y="550.4" width="3.4" height="3.4"/><rect x="269.6" y="551.3" width="3.4" height="3.4"/><rect x="270.7" y="552.0" width="3.4" height="3.4"/><rect x="270.1" y="551.7" width="3.4" height="3.4"/><rect x="271.1" y="552.6" width="3.4" height="3.4"/><rect x="271.0" y="551.9" width="3.4" height="3.4"/><rect x="272.5" y="552.3" width="3.4" height="3.4"/><rect x="272.1" y="551.7" width="3.4" height="3.4"/><rect x="273.4" y="550.5" width="3.4" height="3.4"/><rect x="272.9" y="551.8" width="3.4" height="3.4"/><rect x="274.7" y="551.1" width="3.4" height="3.4"/><rect x="274.0" y="550.4" width="3.4" height="3.4"/><rect x="274.8" y="551.0" width="3.4" height="3.4"/><rect x="275.0" y="555.3" width="3.4" height="3.4"/><rect x="276.3" y="550.7" width="3.4" height="3.4"/><rect x="276.7" y="551.2" width="3.4" height="3.4"/><rect x="276.8" y="552.1" width="3.4" height="3.4"/><rect x="277.6" y="552.0" width="3.4" height="3.4"/><rect x="278.8" y="553.3" width="3.4" height="3.4"/><rect x="278.8" y="552.2" width="3.4" height="3.4"/><rect x="279.7" y="551.4" width="3.4" height="3.4"/><rect x="279.5" y="551.2" width="3.4" height="3.4"/><rect x="279.9" y="552.5" width="3.4" height="3.4"/><rect x="279.9" y="551.7" width="3.4" height="3.4"/><rect x="280.9" y="550.8" width="3.4" height="3.4"/><rect x="281.4" y="550.8" width="3.4" height="3.4"/><rect x="282.3" y="551.1" width="3.4" height="3.4"/><rect x="282.4" y="551.4" width="3.4" height="3.4"/><rect x="282.9" y="551.2" width="3.4" height="3.4"/><rect x="282.8" y="552.1" width="3.4" height="3.4"/><rect x="284.1" y="551.7" width="3.4" height="3.4"/><rect x="283.9" y="553.5" width="3.4" height="3.4"/><rect x="285.0" y="552.7" width="3.4" height="3.4"/><rect x="285.3" y="553.1" width="3.4" height="3.4"/><rect x="286.8" y="551.8" width="3.4" height="3.4"/><rect x="285.8" y="552.6" width="3.4" height="3.4"/><rect x="287.7" y="552.8" width="3.4" height="3.4"/><rect x="287.2" y="552.6" width="3.4" height="3.4"/><rect x="288.1" y="552.2" width="3.4" height="3.4"/><rect x="288.5" y="552.6" width="3.4" height="3.4"/><rect x="289.3" y="552.1" width="3.4" height="3.4"/><rect x="289.4" y="551.5" width="3.4" height="3.4"/><rect x="290.3" y="552.9" width="3.4" height="3.4"/><rect x="290.6" y="553.5" width="3.4" height="3.4"/><rect x="291.6" y="553.0" width="3.4" height="3.4"/><rect x="291.6" y="552.4" width="3.4" height="3.4"/><rect x="292.7" y="551.9" width="3.4" height="3.4"/><rect x="292.5" y="552.6" width="3.4" height="3.4"/><rect x="293.1" y="553.1" width="3.4" height="3.4"/><rect x="293.7" y="551.9" width="3.4" height="3.4"/><rect x="294.4" y="552.5" width="3.4" height="3.4"/><rect x="294.2" y="552.4" width="3.4" height="3.4"/><rect x="294.9" y="552.3" width="3.4" height="3.4"/><rect x="295.4" y="552.5" width="3.4" height="3.4"/><rect x="296.3" y="552.3" width="3.4" height="3.4"/><rect x="295.9" y="551.5" width="3.4" height="3.4"/><rect x="297.6" y="552.6" width="3.4" height="3.4"/><rect x="297.5" y="552.7" width="3.4" height="3.4"/><rect x="298.8" y="551.3" width="3.4" height="3.4"/><rect x="298.8" y="552.9" width="3.4" height="3.4"/><rect x="299.3" y="552.8" width="3.4" height="3.4"/><rect x="299.5" y="552.4" width="3.4" height="3.4"/><rect x="300.2" y="552.8" width="3.4" height="3.4"/><rect x="300.2" y="552.1" width="3.4" height="3.4"/><rect x="300.8" y="552.1" width="3.4" height="3.4"/><rect x="301.2" y="551.5" width="3.4" height="3.4"/><rect x="302.4" y="552.7" width="3.4" height="3.4"/><rect x="301.8" y="552.3" width="3.4" height="3.4"/><rect x="303.1" y="553.3" width="3.4" height="3.4"/><rect x="303.1" y="554.3" width="3.4" height="3.4"/><rect x="304.2" y="553.6" width="3.4" height="3.4"/><rect x="304.3" y="554.2" width="3.4" height="3.4"/><rect x="305.0" y="553.2" width="3.4" height="3.4"/><rect x="305.0" y="554.5" width="3.4" height="3.4"/><rect x="305.9" y="555.6" width="3.4" height="3.4"/><rect x="306.3" y="554.2" width="3.4" height="3.4"/><rect x="307.1" y="555.8" width="3.4" height="3.4"/><rect x="307.4" y="555.5" width="3.4" height="3.4"/></g>
<g fill="#7c7c7c"><rect x="62.4" y="477.7" width="3.6" height="3.6"/><rect x="62.6" y="477.6" width="3.6" height="3.6"/><rect x="63.6" y="474.2" width="3.6" height="3.6"/><rect x="63.3" y="478.4" width="3.6" height="3.6"/><rect x="63.9" y="476.0" width="3.6" height="3.6"/><rect x="64.4" y="476.6" width="3.6" height="3.6"/><rect x="64.8" y="476.5" width="3.6" height="3.6"/><rect x="65.2" y="474.5" width="3.6" height="3.6"/><rect x="66.4" y="477.4" width="3.6" height="3.6"/><rect x="66.6" y="478.0" width="3.6" height="3.6"/><rect x="66.7" y="470.0" width="3.6" height="3.6"/><rect x="67.3" y="477.4" width="3.6" height="3.6"/><rect x="68.0" y="476.8" width="3.6" height="3.6"/><rect x="68.4" y="474.7" width="3.6" height="3.6"/><rect x="68.8" y="475.4" width="3.6" height="3.6"/><rect x="69.2" y="476.7" width="3.6" height="3.6"/><rect x="70.3" y="477.7" width="3.6" height="3.6"/><rect x="70.1" y="472.2" width="3.6" height="3.6"/><rect x="71.0" y="478.1" width="3.6" height="3.6"/><rect x="70.9" y="477.2" width="3.6" height="3.6"/><rect x="71.9" y="475.2" width="3.6" height="3.6"/><rect x="71.4" y="472.2" width="3.6" height="3.6"/><rect x="72.6" y="474.5" width="3.6" height="3.6"/><rect x="72.4" y="478.1" width="3.6" height="3.6"/><rect x="73.2" y="467.3" width="3.6" height="3.6"/><rect x="73.3" y="475.4" width="3.6" height="3.6"/><rect x="73.9" y="471.5" width="3.6" height="3.6"/><rect x="74.1" y="472.6" width="3.6" height="3.6"/><rect x="74.7" y="470.7" width="3.6" height="3.6"/><rect x="74.8" y="472.6" width="3.6" height="3.6"/><rect x="74.7" y="471.1" width="3.6" height="3.6"/><rect x="74.9" y="467.2" width="3.6" height="3.6"/><rect x="76.0" y="468.0" width="3.6" height="3.6"/><rect x="75.7" y="469.9" width="3.6" height="3.6"/><rect x="76.4" y="469.0" width="3.6" height="3.6"/><rect x="75.9" y="458.4" width="3.6" height="3.6"/><rect x="76.6" y="470.9" width="3.6" height="3.6"/><rect x="76.3" y="464.0" width="3.6" height="3.6"/><rect x="76.7" y="465.4" width="3.6" height="3.6"/><rect x="76.7" y="464.3" width="3.6" height="3.6"/><rect x="77.4" y="467.8" width="3.6" height="3.6"/><rect x="77.5" y="454.2" width="3.6" height="3.6"/><rect x="77.6" y="463.2" width="3.6" height="3.6"/><rect x="78.0" y="465.1" width="3.6" height="3.6"/><rect x="78.6" y="466.4" width="3.6" height="3.6"/><rect x="78.9" y="461.5" width="3.6" height="3.6"/><rect x="79.2" y="464.3" width="3.6" height="3.6"/><rect x="79.0" y="462.9" width="3.6" height="3.6"/><rect x="79.4" y="462.2" width="3.6" height="3.6"/><rect x="79.7" y="462.5" width="3.6" height="3.6"/><rect x="79.7" y="461.7" width="3.6" height="3.6"/><rect x="80.5" y="462.6" width="3.6" height="3.6"/><rect x="80.6" y="458.7" width="3.6" height="3.6"/><rect x="80.6" y="461.1" width="3.6" height="3.6"/><rect x="81.8" y="459.3" width="3.6" height="3.6"/><rect x="82.2" y="459.8" width="3.6" height="3.6"/><rect x="82.0" y="458.4" width="3.6" height="3.6"/><rect x="82.8" y="459.0" width="3.6" height="3.6"/><rect x="83.5" y="457.5" width="3.6" height="3.6"/><rect x="82.9" y="455.8" width="3.6" height="3.6"/><rect x="83.3" y="457.0" width="3.6" height="3.6"/><rect x="83.8" y="454.3" width="3.6" height="3.6"/><rect x="84.1" y="461.6" width="3.6" height="3.6"/><rect x="84.4" y="460.4" width="3.6" height="3.6"/><rect x="84.4" y="456.1" width="3.6" height="3.6"/><rect x="84.0" y="458.4" width="3.6" height="3.6"/><rect x="84.8" y="455.1" width="3.6" height="3.6"/><rect x="84.4" y="460.7" width="3.6" height="3.6"/><rect x="85.7" y="456.9" width="3.6" height="3.6"/><rect x="84.9" y="458.8" width="3.6" height="3.6"/><rect x="85.7" y="462.6" width="3.6" height="3.6"/><rect x="85.2" y="467.9" width="3.6" height="3.6"/><rect x="85.3" y="467.4" width="3.6" height="3.6"/><rect x="85.5" y="464.2" width="3.6" height="3.6"/><rect x="86.1" y="467.4" width="3.6" height="3.6"/><rect x="85.9" y="467.5" width="3.6" height="3.6"/><rect x="86.0" y="469.3" width="3.6" height="3.6"/><rect x="85.8" y="472.6" width="3.6" height="3.6"/><rect x="85.8" y="472.7" width="3.6" height="3.6"/><rect x="86.2" y="474.0" width="3.6" height="3.6"/><rect x="86.5" y="472.3" width="3.6" height="3.6"/><rect x="86.1" y="473.0" width="3.6" height="3.6"/><rect x="86.8" y="471.1" width="3.6" height="3.6"/><rect x="86.2" y="474.3" width="3.6" height="3.6"/><rect x="86.6" y="473.2" width="3.6" height="3.6"/><rect x="86.6" y="470.7" width="3.6" height="3.6"/><rect x="86.6" y="471.5" width="3.6" height="3.6"/><rect x="86.7" y="472.0" width="3.6" height="3.6"/><rect x="86.5" y="472.1" width="3.6" height="3.6"/><rect x="86.4" y="474.4" width="3.6" height="3.6"/><rect x="87.4" y="471.7" width="3.6" height="3.6"/><rect x="87.3" y="474.2" width="3.6" height="3.6"/><rect x="87.4" y="468.0" width="3.6" height="3.6"/><rect x="87.4" y="471.4" width="3.6" height="3.6"/><rect x="87.8" y="478.0" width="3.6" height="3.6"/><rect x="87.0" y="475.2" width="3.6" height="3.6"/><rect x="87.8" y="476.6" width="3.6" height="3.6"/><rect x="87.7" y="476.7" width="3.6" height="3.6"/><rect x="87.2" y="480.9" width="3.6" height="3.6"/><rect x="87.5" y="477.5" width="3.6" height="3.6"/><rect x="87.4" y="479.2" width="3.6" height="3.6"/><rect x="88.0" y="477.7" width="3.6" height="3.6"/><rect x="87.9" y="481.4" width="3.6" height="3.6"/><rect x="88.2" y="481.7" width="3.6" height="3.6"/><rect x="88.7" y="482.0" width="3.6" height="3.6"/><rect x="88.6" y="482.2" width="3.6" height="3.6"/><rect x="88.5" y="481.0" width="3.6" height="3.6"/><rect x="88.5" y="485.4" width="3.6" height="3.6"/><rect x="88.5" y="485.2" width="3.6" height="3.6"/><rect x="89.0" y="485.4" width="3.6" height="3.6"/><rect x="88.7" y="488.3" width="3.6" height="3.6"/><rect x="88.2" y="488.5" width="3.6" height="3.6"/><rect x="88.6" y="488.6" width="3.6" height="3.6"/><rect x="88.6" y="490.8" width="3.6" height="3.6"/><rect x="88.8" y="489.7" width="3.6" height="3.6"/><rect x="88.7" y="487.2" width="3.6" height="3.6"/><rect x="89.5" y="487.4" width="3.6" height="3.6"/><rect x="88.9" y="491.0" width="3.6" height="3.6"/><rect x="89.4" y="488.7" width="3.6" height="3.6"/><rect x="89.4" y="493.2" width="3.6" height="3.6"/><rect x="89.2" y="495.3" width="3.6" height="3.6"/><rect x="89.7" y="490.6" width="3.6" height="3.6"/><rect x="89.2" y="493.0" width="3.6" height="3.6"/><rect x="89.5" y="491.8" width="3.6" height="3.6"/><rect x="89.7" y="498.0" width="3.6" height="3.6"/><rect x="90.1" y="495.9" width="3.6" height="3.6"/><rect x="89.9" y="496.3" width="3.6" height="3.6"/><rect x="90.1" y="495.7" width="3.6" height="3.6"/><rect x="89.6" y="496.9" width="3.6" height="3.6"/><rect x="90.4" y="494.9" width="3.6" height="3.6"/><rect x="90.6" y="499.9" width="3.6" height="3.6"/><rect x="89.9" y="500.1" width="3.6" height="3.6"/><rect x="90.3" y="500.4" width="3.6" height="3.6"/><rect x="90.0" y="499.3" width="3.6" height="3.6"/><rect x="90.8" y="499.2" width="3.6" height="3.6"/><rect x="90.2" y="500.6" width="3.6" height="3.6"/><rect x="90.3" y="497.9" width="3.6" height="3.6"/><rect x="90.8" y="502.0" width="3.6" height="3.6"/><rect x="90.4" y="498.1" width="3.6" height="3.6"/><rect x="90.8" y="501.2" width="3.6" height="3.6"/><rect x="90.7" y="502.1" width="3.6" height="3.6"/><rect x="90.8" y="499.5" width="3.6" height="3.6"/><rect x="91.0" y="502.1" width="3.6" height="3.6"/><rect x="91.4" y="500.9" width="3.6" height="3.6"/><rect x="91.0" y="501.1" width="3.6" height="3.6"/><rect x="91.0" y="502.5" width="3.6" height="3.6"/><rect x="91.2" y="510.1" width="3.6" height="3.6"/><rect x="91.1" y="502.0" width="3.6" height="3.6"/><rect x="91.5" y="502.7" width="3.6" height="3.6"/><rect x="91.1" y="501.9" width="3.6" height="3.6"/><rect x="92.1" y="506.2" width="3.6" height="3.6"/><rect x="91.3" y="503.3" width="3.6" height="3.6"/><rect x="92.1" y="506.2" width="3.6" height="3.6"/><rect x="91.6" y="506.0" width="3.6" height="3.6"/><rect x="92.4" y="503.6" width="3.6" height="3.6"/><rect x="91.9" y="507.3" width="3.6" height="3.6"/><rect x="91.7" y="505.6" width="3.6" height="3.6"/><rect x="92.6" y="508.3" width="3.6" height="3.6"/><rect x="92.4" y="506.9" width="3.6" height="3.6"/><rect x="92.0" y="506.4" width="3.6" height="3.6"/><rect x="92.8" y="510.5" width="3.6" height="3.6"/><rect x="92.6" y="511.7" width="3.6" height="3.6"/><rect x="93.2" y="514.6" width="3.6" height="3.6"/><rect x="92.7" y="510.4" width="3.6" height="3.6"/><rect x="93.1" y="512.0" width="3.6" height="3.6"/><rect x="92.6" y="507.2" width="3.6" height="3.6"/><rect x="93.2" y="511.1" width="3.6" height="3.6"/><rect x="93.0" y="508.8" width="3.6" height="3.6"/><rect x="93.2" y="513.1" width="3.6" height="3.6"/><rect x="93.7" y="513.1" width="3.6" height="3.6"/><rect x="93.6" y="511.3" width="3.6" height="3.6"/><rect x="93.1" y="511.8" width="3.6" height="3.6"/><rect x="94.0" y="513.5" width="3.6" height="3.6"/><rect x="94.1" y="514.2" width="3.6" height="3.6"/><rect x="93.6" y="516.3" width="3.6" height="3.6"/><rect x="94.4" y="512.9" width="3.6" height="3.6"/><rect x="94.5" y="517.3" width="3.6" height="3.6"/><rect x="94.6" y="520.1" width="3.6" height="3.6"/><rect x="94.4" y="523.2" width="3.6" height="3.6"/><rect x="94.5" y="521.2" width="3.6" height="3.6"/><rect x="94.8" y="525.9" width="3.6" height="3.6"/><rect x="94.6" y="524.4" width="3.6" height="3.6"/><rect x="95.0" y="525.5" width="3.6" height="3.6"/><rect x="95.0" y="523.7" width="3.6" height="3.6"/><rect x="95.8" y="522.3" width="3.6" height="3.6"/><rect x="96.0" y="525.0" width="3.6" height="3.6"/><rect x="95.5" y="528.9" width="3.6" height="3.6"/><rect x="95.7" y="526.2" width="3.6" height="3.6"/><rect x="95.8" y="527.4" width="3.6" height="3.6"/><rect x="96.1" y="530.5" width="3.6" height="3.6"/><rect x="96.3" y="525.9" width="3.6" height="3.6"/><rect x="96.6" y="528.9" width="3.6" height="3.6"/><rect x="97.2" y="528.6" width="3.6" height="3.6"/><rect x="96.9" y="526.4" width="3.6" height="3.6"/><rect x="96.8" y="528.3" width="3.6" height="3.6"/><rect x="97.3" y="529.0" width="3.6" height="3.6"/><rect x="97.7" y="527.1" width="3.6" height="3.6"/><rect x="97.8" y="528.9" width="3.6" height="3.6"/><rect x="97.6" y="529.7" width="3.6" height="3.6"/><rect x="97.4" y="527.8" width="3.6" height="3.6"/><rect x="98.6" y="536.8" width="3.6" height="3.6"/><rect x="98.0" y="530.6" width="3.6" height="3.6"/><rect x="99.0" y="531.5" width="3.6" height="3.6"/><rect x="98.9" y="533.0" width="3.6" height="3.6"/><rect x="99.1" y="533.8" width="3.6" height="3.6"/><rect x="99.2" y="531.4" width="3.6" height="3.6"/><rect x="100.1" y="530.1" width="3.6" height="3.6"/><rect x="99.9" y="531.2" width="3.6" height="3.6"/><rect x="100.2" y="535.6" width="3.6" height="3.6"/><rect x="100.4" y="535.4" width="3.6" height="3.6"/><rect x="101.1" y="535.6" width="3.6" height="3.6"/><rect x="100.8" y="536.1" width="3.6" height="3.6"/><rect x="101.2" y="535.1" width="3.6" height="3.6"/><rect x="101.3" y="535.8" width="3.6" height="3.6"/><rect x="102.5" y="536.3" width="3.6" height="3.6"/><rect x="101.7" y="539.9" width="3.6" height="3.6"/><rect x="102.2" y="535.8" width="3.6" height="3.6"/><rect x="102.9" y="533.5" width="3.6" height="3.6"/><rect x="103.3" y="535.3" width="3.6" height="3.6"/><rect x="102.7" y="544.9" width="3.6" height="3.6"/><rect x="103.3" y="538.4" width="3.6" height="3.6"/><rect x="103.9" y="537.3" width="3.6" height="3.6"/><rect x="104.4" y="539.5" width="3.6" height="3.6"/><rect x="104.1" y="532.4" width="3.6" height="3.6"/><rect x="104.9" y="539.1" width="3.6" height="3.6"/><rect x="105.4" y="539.1" width="3.6" height="3.6"/><rect x="105.7" y="541.1" width="3.6" height="3.6"/><rect x="106.2" y="541.8" width="3.6" height="3.6"/><rect x="106.8" y="539.7" width="3.6" height="3.6"/><rect x="106.4" y="539.4" width="3.6" height="3.6"/><rect x="107.1" y="538.5" width="3.6" height="3.6"/><rect x="107.7" y="542.4" width="3.6" height="3.6"/><rect x="108.5" y="541.5" width="3.6" height="3.6"/><rect x="107.9" y="539.9" width="3.6" height="3.6"/><rect x="109.0" y="546.1" width="3.6" height="3.6"/><rect x="109.1" y="543.3" width="3.6" height="3.6"/><rect x="110.2" y="543.5" width="3.6" height="3.6"/><rect x="109.7" y="544.9" width="3.6" height="3.6"/><rect x="111.2" y="551.2" width="3.6" height="3.6"/><rect x="111.1" y="546.9" width="3.6" height="3.6"/><rect x="111.5" y="541.3" width="3.6" height="3.6"/><rect x="111.2" y="544.5" width="3.6" height="3.6"/><rect x="112.5" y="546.1" width="3.6" height="3.6"/><rect x="112.7" y="547.5" width="3.6" height="3.6"/><rect x="113.2" y="545.6" width="3.6" height="3.6"/><rect x="113.5" y="547.2" width="3.6" height="3.6"/><rect x="113.7" y="548.5" width="3.6" height="3.6"/><rect x="114.1" y="551.6" width="3.6" height="3.6"/><rect x="114.8" y="547.5" width="3.6" height="3.6"/><rect x="115.5" y="544.7" width="3.6" height="3.6"/><rect x="116.4" y="557.5" width="3.6" height="3.6"/><rect x="116.3" y="544.0" width="3.6" height="3.6"/><rect x="117.4" y="547.0" width="3.6" height="3.6"/><rect x="116.9" y="547.4" width="3.6" height="3.6"/><rect x="118.1" y="547.9" width="3.6" height="3.6"/><rect x="118.2" y="552.8" width="3.6" height="3.6"/><rect x="119.2" y="552.6" width="3.6" height="3.6"/><rect x="119.1" y="555.0" width="3.6" height="3.6"/><rect x="120.4" y="550.2" width="3.6" height="3.6"/><rect x="120.2" y="551.0" width="3.6" height="3.6"/><rect x="120.9" y="553.1" width="3.6" height="3.6"/><rect x="121.0" y="555.0" width="3.6" height="3.6"/><rect x="122.1" y="554.5" width="3.6" height="3.6"/><rect x="122.0" y="553.1" width="3.6" height="3.6"/><rect x="123.3" y="549.6" width="3.6" height="3.6"/><rect x="123.4" y="548.1" width="3.6" height="3.6"/><rect x="124.1" y="553.8" width="3.6" height="3.6"/><rect x="124.3" y="549.9" width="3.6" height="3.6"/><rect x="125.2" y="556.3" width="3.6" height="3.6"/><rect x="124.9" y="551.0" width="3.6" height="3.6"/><rect x="126.3" y="551.2" width="3.6" height="3.6"/><rect x="125.9" y="554.0" width="3.6" height="3.6"/><rect x="127.1" y="553.7" width="3.6" height="3.6"/><rect x="127.7" y="551.3" width="3.6" height="3.6"/><rect x="128.4" y="551.7" width="3.6" height="3.6"/><rect x="127.9" y="554.2" width="3.6" height="3.6"/><rect x="129.2" y="552.8" width="3.6" height="3.6"/><rect x="129.3" y="551.9" width="3.6" height="3.6"/><rect x="130.1" y="554.3" width="3.6" height="3.6"/><rect x="130.3" y="555.4" width="3.6" height="3.6"/><rect x="131.6" y="560.7" width="3.6" height="3.6"/><rect x="131.2" y="555.7" width="3.6" height="3.6"/><rect x="132.4" y="553.5" width="3.6" height="3.6"/><rect x="131.8" y="555.9" width="3.6" height="3.6"/><rect x="133.2" y="556.7" width="3.6" height="3.6"/><rect x="133.2" y="552.6" width="3.6" height="3.6"/><rect x="134.7" y="555.6" width="3.6" height="3.6"/><rect x="134.4" y="555.8" width="3.6" height="3.6"/><rect x="134.9" y="555.9" width="3.6" height="3.6"/><rect x="135.6" y="554.3" width="3.6" height="3.6"/><rect x="135.8" y="555.8" width="3.6" height="3.6"/><rect x="136.6" y="553.6" width="3.6" height="3.6"/><rect x="137.5" y="556.9" width="3.6" height="3.6"/><rect x="137.4" y="553.5" width="3.6" height="3.6"/><rect x="138.0" y="558.0" width="3.6" height="3.6"/><rect x="138.3" y="560.4" width="3.6" height="3.6"/><rect x="139.2" y="557.8" width="3.6" height="3.6"/><rect x="139.1" y="554.5" width="3.6" height="3.6"/><rect x="140.0" y="558.3" width="3.6" height="3.6"/><rect x="140.3" y="558.3" width="3.6" height="3.6"/><rect x="141.1" y="556.2" width="3.6" height="3.6"/><rect x="140.9" y="556.6" width="3.6" height="3.6"/><rect x="141.8" y="547.3" width="3.6" height="3.6"/><rect x="142.0" y="552.6" width="3.6" height="3.6"/><rect x="142.8" y="556.9" width="3.6" height="3.6"/><rect x="143.1" y="559.4" width="3.6" height="3.6"/><rect x="143.9" y="556.7" width="3.6" height="3.6"/><rect x="143.7" y="560.1" width="3.6" height="3.6"/><rect x="145.0" y="555.9" width="3.6" height="3.6"/><rect x="145.6" y="557.2" width="3.6" height="3.6"/><rect x="145.7" y="556.6" width="3.6" height="3.6"/><rect x="145.8" y="551.1" width="3.6" height="3.6"/><rect x="147.6" y="555.8" width="3.6" height="3.6"/><rect x="147.0" y="553.6" width="3.6" height="3.6"/><rect x="147.9" y="551.6" width="3.6" height="3.6"/><rect x="148.5" y="557.4" width="3.6" height="3.6"/><rect x="149.2" y="549.0" width="3.6" height="3.6"/><rect x="149.5" y="556.3" width="3.6" height="3.6"/><rect x="150.1" y="552.8" width="3.6" height="3.6"/><rect x="149.8" y="555.7" width="3.6" height="3.6"/><rect x="151.0" y="554.8" width="3.6" height="3.6"/><rect x="151.2" y="547.7" width="3.6" height="3.6"/><rect x="151.9" y="551.5" width="3.6" height="3.6"/><rect x="152.5" y="549.7" width="3.6" height="3.6"/><rect x="153.6" y="552.4" width="3.6" height="3.6"/><rect x="153.0" y="551.1" width="3.6" height="3.6"/><rect x="153.9" y="546.8" width="3.6" height="3.6"/><rect x="154.3" y="553.7" width="3.6" height="3.6"/><rect x="155.3" y="555.4" width="3.6" height="3.6"/><rect x="155.3" y="551.3" width="3.6" height="3.6"/><rect x="156.1" y="547.3" width="3.6" height="3.6"/><rect x="156.4" y="549.1" width="3.6" height="3.6"/><rect x="157.5" y="541.7" width="3.6" height="3.6"/><rect x="156.9" y="548.3" width="3.6" height="3.6"/><rect x="157.8" y="548.4" width="3.6" height="3.6"/><rect x="158.4" y="550.0" width="3.6" height="3.6"/><rect x="158.9" y="551.2" width="3.6" height="3.6"/><rect x="159.6" y="549.8" width="3.6" height="3.6"/><rect x="160.3" y="550.5" width="3.6" height="3.6"/><rect x="159.9" y="551.4" width="3.6" height="3.6"/><rect x="161.3" y="548.3" width="3.6" height="3.6"/><rect x="160.9" y="549.1" width="3.6" height="3.6"/><rect x="161.7" y="549.6" width="3.6" height="3.6"/><rect x="162.3" y="545.8" width="3.6" height="3.6"/><rect x="163.6" y="548.6" width="3.6" height="3.6"/><rect x="163.7" y="551.6" width="3.6" height="3.6"/><rect x="164.7" y="551.6" width="3.6" height="3.6"/><rect x="164.0" y="547.4" width="3.6" height="3.6"/><rect x="165.2" y="549.9" width="3.6" height="3.6"/><rect x="165.2" y="551.4" width="3.6" height="3.6"/><rect x="165.8" y="551.0" width="3.6" height="3.6"/><rect x="166.5" y="548.9" width="3.6" height="3.6"/><rect x="167.3" y="554.5" width="3.6" height="3.6"/><rect x="167.1" y="550.7" width="3.6" height="3.6"/><rect x="168.1" y="554.4" width="3.6" height="3.6"/><rect x="168.0" y="549.7" width="3.6" height="3.6"/><rect x="169.1" y="550.9" width="3.6" height="3.6"/><rect x="169.4" y="549.2" width="3.6" height="3.6"/><rect x="170.2" y="547.6" width="3.6" height="3.6"/><rect x="170.2" y="550.3" width="3.6" height="3.6"/><rect x="170.9" y="557.9" width="3.6" height="3.6"/><rect x="171.3" y="551.1" width="3.6" height="3.6"/><rect x="171.8" y="552.1" width="3.6" height="3.6"/><rect x="172.0" y="549.8" width="3.6" height="3.6"/><rect x="173.4" y="548.8" width="3.6" height="3.6"/><rect x="173.1" y="548.0" width="3.6" height="3.6"/><rect x="174.4" y="551.4" width="3.6" height="3.6"/><rect x="174.2" y="550.1" width="3.6" height="3.6"/><rect x="175.4" y="547.2" width="3.6" height="3.6"/><rect x="174.8" y="542.7" width="3.6" height="3.6"/><rect x="176.3" y="547.6" width="3.6" height="3.6"/><rect x="176.7" y="544.5" width="3.6" height="3.6"/><rect x="177.0" y="546.2" width="3.6" height="3.6"/><rect x="177.3" y="549.5" width="3.6" height="3.6"/><rect x="177.9" y="545.2" width="3.6" height="3.6"/><rect x="178.0" y="545.0" width="3.6" height="3.6"/><rect x="179.3" y="536.8" width="3.6" height="3.6"/><rect x="179.6" y="542.9" width="3.6" height="3.6"/><rect x="180.4" y="547.7" width="3.6" height="3.6"/><rect x="180.7" y="544.0" width="3.6" height="3.6"/><rect x="180.8" y="545.3" width="3.6" height="3.6"/><rect x="181.1" y="540.5" width="3.6" height="3.6"/><rect x="182.1" y="543.2" width="3.6" height="3.6"/><rect x="182.3" y="543.9" width="3.6" height="3.6"/><rect x="183.6" y="547.4" width="3.6" height="3.6"/><rect x="183.4" y="545.9" width="3.6" height="3.6"/><rect x="183.9" y="545.0" width="3.6" height="3.6"/><rect x="184.5" y="540.0" width="3.6" height="3.6"/><rect x="184.9" y="550.4" width="3.6" height="3.6"/><rect x="185.2" y="544.8" width="3.6" height="3.6"/><rect x="185.9" y="544.7" width="3.6" height="3.6"/><rect x="185.9" y="548.2" width="3.6" height="3.6"/><rect x="186.8" y="547.1" width="3.6" height="3.6"/><rect x="187.5" y="547.1" width="3.6" height="3.6"/><rect x="188.0" y="538.5" width="3.6" height="3.6"/><rect x="188.1" y="546.3" width="3.6" height="3.6"/><rect x="189.4" y="543.3" width="3.6" height="3.6"/><rect x="188.9" y="543.8" width="3.6" height="3.6"/><rect x="190.6" y="547.8" width="3.6" height="3.6"/><rect x="189.9" y="544.4" width="3.6" height="3.6"/><rect x="191.4" y="549.3" width="3.6" height="3.6"/><rect x="191.1" y="545.1" width="3.6" height="3.6"/><rect x="191.7" y="546.9" width="3.6" height="3.6"/><rect x="192.6" y="549.1" width="3.6" height="3.6"/><rect x="193.3" y="545.6" width="3.6" height="3.6"/><rect x="193.0" y="544.1" width="3.6" height="3.6"/><rect x="194.2" y="544.2" width="3.6" height="3.6"/><rect x="194.3" y="549.7" width="3.6" height="3.6"/><rect x="195.4" y="554.6" width="3.6" height="3.6"/><rect x="195.7" y="545.9" width="3.6" height="3.6"/><rect x="196.2" y="543.0" width="3.6" height="3.6"/><rect x="196.1" y="545.8" width="3.6" height="3.6"/><rect x="196.7" y="548.6" width="3.6" height="3.6"/><rect x="197.2" y="543.3" width="3.6" height="3.6"/></g>
<g fill="#7c7c7c"><rect x="197.7" y="546.4" width="3.6" height="3.6"/><rect x="198.6" y="545.5" width="3.6" height="3.6"/><rect x="199.2" y="548.8" width="3.6" height="3.6"/><rect x="198.8" y="548.6" width="3.6" height="3.6"/><rect x="200.7" y="545.8" width="3.6" height="3.6"/><rect x="199.8" y="546.6" width="3.6" height="3.6"/><rect x="200.8" y="546.3" width="3.6" height="3.6"/><rect x="201.3" y="548.0" width="3.6" height="3.6"/><rect x="202.6" y="545.0" width="3.6" height="3.6"/><rect x="202.6" y="545.7" width="3.6" height="3.6"/><rect x="203.4" y="545.6" width="3.6" height="3.6"/><rect x="203.6" y="546.2" width="3.6" height="3.6"/><rect x="204.0" y="547.3" width="3.6" height="3.6"/><rect x="204.5" y="545.7" width="3.6" height="3.6"/><rect x="204.8" y="545.9" width="3.6" height="3.6"/><rect x="204.8" y="546.4" width="3.6" height="3.6"/><rect x="206.6" y="545.9" width="3.6" height="3.6"/><rect x="206.3" y="544.5" width="3.6" height="3.6"/><rect x="207.1" y="541.3" width="3.6" height="3.6"/><rect x="207.5" y="542.2" width="3.6" height="3.6"/><rect x="207.7" y="541.4" width="3.6" height="3.6"/><rect x="208.4" y="542.6" width="3.6" height="3.6"/><rect x="209.5" y="541.4" width="3.6" height="3.6"/><rect x="208.8" y="542.7" width="3.6" height="3.6"/><rect x="209.8" y="545.0" width="3.6" height="3.6"/><rect x="210.4" y="542.6" width="3.6" height="3.6"/><rect x="211.2" y="542.7" width="3.6" height="3.6"/><rect x="211.2" y="541.6" width="3.6" height="3.6"/><rect x="212.1" y="542.7" width="3.6" height="3.6"/><rect x="212.5" y="541.9" width="3.6" height="3.6"/><rect x="213.5" y="543.9" width="3.6" height="3.6"/><rect x="213.0" y="540.3" width="3.6" height="3.6"/><rect x="214.3" y="540.4" width="3.6" height="3.6"/><rect x="214.1" y="541.3" width="3.6" height="3.6"/><rect x="214.8" y="542.8" width="3.6" height="3.6"/><rect x="215.3" y="542.4" width="3.6" height="3.6"/><rect x="215.9" y="542.3" width="3.6" height="3.6"/><rect x="216.4" y="540.5" width="3.6" height="3.6"/><rect x="217.1" y="542.1" width="3.6" height="3.6"/><rect x="217.1" y="542.5" width="3.6" height="3.6"/><rect x="218.0" y="542.8" width="3.6" height="3.6"/><rect x="218.0" y="541.6" width="3.6" height="3.6"/><rect x="219.4" y="540.7" width="3.6" height="3.6"/><rect x="218.9" y="540.4" width="3.6" height="3.6"/><rect x="220.3" y="542.0" width="3.6" height="3.6"/><rect x="220.5" y="544.9" width="3.6" height="3.6"/><rect x="221.0" y="541.3" width="3.6" height="3.6"/><rect x="220.7" y="542.1" width="3.6" height="3.6"/><rect x="221.8" y="545.7" width="3.6" height="3.6"/><rect x="221.9" y="543.6" width="3.6" height="3.6"/><rect x="223.6" y="543.7" width="3.6" height="3.6"/><rect x="223.0" y="542.5" width="3.6" height="3.6"/><rect x="224.0" y="543.9" width="3.6" height="3.6"/><rect x="224.6" y="542.0" width="3.6" height="3.6"/><rect x="225.2" y="542.6" width="3.6" height="3.6"/><rect x="224.7" y="544.8" width="3.6" height="3.6"/><rect x="225.8" y="545.4" width="3.6" height="3.6"/><rect x="226.1" y="545.4" width="3.6" height="3.6"/><rect x="227.1" y="538.8" width="3.6" height="3.6"/><rect x="226.9" y="542.6" width="3.6" height="3.6"/><rect x="228.1" y="543.6" width="3.6" height="3.6"/><rect x="228.1" y="542.6" width="3.6" height="3.6"/><rect x="229.6" y="543.1" width="3.6" height="3.6"/><rect x="229.4" y="540.7" width="3.6" height="3.6"/><rect x="230.4" y="543.3" width="3.6" height="3.6"/><rect x="230.6" y="542.0" width="3.6" height="3.6"/><rect x="231.1" y="541.8" width="3.6" height="3.6"/><rect x="230.9" y="543.0" width="3.6" height="3.6"/><rect x="232.1" y="545.1" width="3.6" height="3.6"/><rect x="231.8" y="543.7" width="3.6" height="3.6"/><rect x="233.6" y="541.2" width="3.6" height="3.6"/><rect x="233.2" y="539.3" width="3.6" height="3.6"/><rect x="234.1" y="541.4" width="3.6" height="3.6"/><rect x="234.4" y="540.2" width="3.6" height="3.6"/><rect x="234.9" y="539.8" width="3.6" height="3.6"/><rect x="234.8" y="540.0" width="3.6" height="3.6"/><rect x="236.5" y="542.0" width="3.6" height="3.6"/><rect x="236.2" y="538.9" width="3.6" height="3.6"/><rect x="237.2" y="542.0" width="3.6" height="3.6"/><rect x="236.8" y="543.2" width="3.6" height="3.6"/><rect x="238.7" y="544.3" width="3.6" height="3.6"/><rect x="238.1" y="542.4" width="3.6" height="3.6"/><rect x="239.4" y="543.3" width="3.6" height="3.6"/><rect x="238.9" y="539.9" width="3.6" height="3.6"/><rect x="240.7" y="539.8" width="3.6" height="3.6"/><rect x="240.4" y="540.4" width="3.6" height="3.6"/><rect x="240.8" y="541.8" width="3.6" height="3.6"/><rect x="240.9" y="540.1" width="3.6" height="3.6"/><rect x="241.9" y="541.1" width="3.6" height="3.6"/><rect x="241.8" y="542.5" width="3.6" height="3.6"/><rect x="242.7" y="542.3" width="3.6" height="3.6"/><rect x="243.6" y="541.5" width="3.6" height="3.6"/><rect x="244.1" y="541.7" width="3.6" height="3.6"/><rect x="243.8" y="542.2" width="3.6" height="3.6"/><rect x="245.3" y="542.2" width="3.6" height="3.6"/><rect x="245.2" y="541.3" width="3.6" height="3.6"/><rect x="246.5" y="543.8" width="3.6" height="3.6"/><rect x="246.0" y="541.4" width="3.6" height="3.6"/><rect x="247.2" y="544.1" width="3.6" height="3.6"/><rect x="247.5" y="541.8" width="3.6" height="3.6"/><rect x="247.9" y="540.0" width="3.6" height="3.6"/><rect x="248.1" y="540.6" width="3.6" height="3.6"/><rect x="249.4" y="541.1" width="3.6" height="3.6"/><rect x="248.7" y="545.8" width="3.6" height="3.6"/><rect x="250.6" y="544.0" width="3.6" height="3.6"/><rect x="250.0" y="542.9" width="3.6" height="3.6"/><rect x="251.6" y="546.7" width="3.6" height="3.6"/><rect x="251.2" y="543.7" width="3.6" height="3.6"/><rect x="252.1" y="541.8" width="3.6" height="3.6"/><rect x="252.3" y="543.1" width="3.6" height="3.6"/><rect x="253.6" y="543.4" width="3.6" height="3.6"/><rect x="253.5" y="542.5" width="3.6" height="3.6"/><rect x="254.4" y="540.1" width="3.6" height="3.6"/><rect x="254.6" y="542.0" width="3.6" height="3.6"/><rect x="255.3" y="542.3" width="3.6" height="3.6"/><rect x="254.9" y="540.1" width="3.6" height="3.6"/><rect x="256.4" y="541.8" width="3.6" height="3.6"/><rect x="256.3" y="541.3" width="3.6" height="3.6"/><rect x="257.3" y="541.7" width="3.6" height="3.6"/><rect x="257.1" y="541.1" width="3.6" height="3.6"/><rect x="258.5" y="540.6" width="3.6" height="3.6"/><rect x="257.9" y="543.3" width="3.6" height="3.6"/><rect x="259.6" y="539.3" width="3.6" height="3.6"/><rect x="259.0" y="542.0" width="3.6" height="3.6"/><rect x="260.4" y="543.0" width="3.6" height="3.6"/><rect x="260.1" y="540.8" width="3.6" height="3.6"/><rect x="261.2" y="543.0" width="3.6" height="3.6"/><rect x="261.0" y="542.8" width="3.6" height="3.6"/><rect x="262.0" y="545.1" width="3.6" height="3.6"/><rect x="262.3" y="538.5" width="3.6" height="3.6"/><rect x="263.3" y="542.7" width="3.6" height="3.6"/><rect x="263.0" y="543.3" width="3.6" height="3.6"/><rect x="264.4" y="540.4" width="3.6" height="3.6"/><rect x="264.5" y="541.1" width="3.6" height="3.6"/><rect x="264.9" y="539.3" width="3.6" height="3.6"/><rect x="265.7" y="540.0" width="3.6" height="3.6"/><rect x="265.7" y="540.7" width="3.6" height="3.6"/><rect x="266.3" y="540.0" width="3.6" height="3.6"/><rect x="267.0" y="540.7" width="3.6" height="3.6"/><rect x="267.0" y="543.9" width="3.6" height="3.6"/><rect x="268.3" y="540.2" width="3.6" height="3.6"/><rect x="267.8" y="535.6" width="3.6" height="3.6"/><rect x="268.9" y="544.0" width="3.6" height="3.6"/><rect x="269.6" y="540.4" width="3.6" height="3.6"/><rect x="270.5" y="539.9" width="3.6" height="3.6"/><rect x="269.9" y="544.1" width="3.6" height="3.6"/><rect x="271.3" y="542.4" width="3.6" height="3.6"/><rect x="271.2" y="540.9" width="3.6" height="3.6"/><rect x="271.9" y="539.7" width="3.6" height="3.6"/><rect x="272.0" y="541.1" width="3.6" height="3.6"/><rect x="273.4" y="540.2" width="3.6" height="3.6"/><rect x="273.6" y="541.3" width="3.6" height="3.6"/><rect x="274.5" y="537.4" width="3.6" height="3.6"/><rect x="273.8" y="542.5" width="3.6" height="3.6"/><rect x="275.3" y="540.1" width="3.6" height="3.6"/><rect x="274.8" y="536.5" width="3.6" height="3.6"/><rect x="275.9" y="539.2" width="3.6" height="3.6"/><rect x="276.6" y="539.9" width="3.6" height="3.6"/><rect x="277.7" y="542.2" width="3.6" height="3.6"/><rect x="276.9" y="537.5" width="3.6" height="3.6"/><rect x="278.5" y="539.3" width="3.6" height="3.6"/><rect x="277.8" y="539.8" width="3.6" height="3.6"/><rect x="278.9" y="541.0" width="3.6" height="3.6"/><rect x="278.8" y="539.8" width="3.6" height="3.6"/><rect x="279.9" y="539.8" width="3.6" height="3.6"/><rect x="280.4" y="542.5" width="3.6" height="3.6"/><rect x="281.4" y="542.4" width="3.6" height="3.6"/><rect x="281.6" y="541.8" width="3.6" height="3.6"/><rect x="282.1" y="542.1" width="3.6" height="3.6"/><rect x="282.7" y="541.6" width="3.6" height="3.6"/><rect x="283.3" y="541.2" width="3.6" height="3.6"/><rect x="283.2" y="540.8" width="3.6" height="3.6"/><rect x="284.6" y="542.1" width="3.6" height="3.6"/><rect x="284.4" y="545.4" width="3.6" height="3.6"/><rect x="284.8" y="541.9" width="3.6" height="3.6"/><rect x="285.0" y="544.3" width="3.6" height="3.6"/><rect x="286.6" y="541.1" width="3.6" height="3.6"/><rect x="286.7" y="544.2" width="3.6" height="3.6"/><rect x="287.5" y="542.7" width="3.6" height="3.6"/><rect x="287.5" y="542.9" width="3.6" height="3.6"/><rect x="288.3" y="543.8" width="3.6" height="3.6"/><rect x="287.8" y="543.3" width="3.6" height="3.6"/><rect x="289.6" y="543.2" width="3.6" height="3.6"/><rect x="289.5" y="542.5" width="3.6" height="3.6"/><rect x="290.5" y="543.3" width="3.6" height="3.6"/><rect x="290.4" y="542.4" width="3.6" height="3.6"/><rect x="290.9" y="542.0" width="3.6" height="3.6"/><rect x="290.7" y="544.7" width="3.6" height="3.6"/><rect x="292.5" y="543.7" width="3.6" height="3.6"/><rect x="292.2" y="544.8" width="3.6" height="3.6"/><rect x="293.0" y="542.7" width="3.6" height="3.6"/><rect x="293.5" y="542.2" width="3.6" height="3.6"/><rect x="294.7" y="541.3" width="3.6" height="3.6"/><rect x="294.6" y="542.8" width="3.6" height="3.6"/><rect x="294.7" y="543.6" width="3.6" height="3.6"/><rect x="295.1" y="544.5" width="3.6" height="3.6"/><rect x="296.0" y="543.9" width="3.6" height="3.6"/><rect x="296.1" y="544.0" width="3.6" height="3.6"/><rect x="297.4" y="544.9" width="3.6" height="3.6"/><rect x="297.0" y="546.8" width="3.6" height="3.6"/><rect x="298.5" y="545.2" width="3.6" height="3.6"/><rect x="298.7" y="546.3" width="3.6" height="3.6"/><rect x="299.4" y="544.6" width="3.6" height="3.6"/><rect x="299.2" y="543.9" width="3.6" height="3.6"/><rect x="300.6" y="545.1" width="3.6" height="3.6"/><rect x="300.2" y="543.9" width="3.6" height="3.6"/><rect x="300.9" y="543.0" width="3.6" height="3.6"/><rect x="301.3" y="544.1" width="3.6" height="3.6"/><rect x="302.6" y="543.7" width="3.6" height="3.6"/><rect x="302.0" y="541.7" width="3.6" height="3.6"/><rect x="302.9" y="545.5" width="3.6" height="3.6"/><rect x="302.9" y="544.1" width="3.6" height="3.6"/><rect x="304.5" y="545.8" width="3.6" height="3.6"/><rect x="304.3" y="542.0" width="3.6" height="3.6"/><rect x="305.2" y="546.9" width="3.6" height="3.6"/><rect x="305.2" y="545.7" width="3.6" height="3.6"/><rect x="306.0" y="547.2" width="3.6" height="3.6"/><rect x="306.1" y="547.1" width="3.6" height="3.6"/><rect x="306.7" y="545.8" width="3.6" height="3.6"/><rect x="307.3" y="545.4" width="3.6" height="3.6"/></g>
<g fill="#b4b4b4"><rect x="62.4" y="460.2" width="3.6" height="3.6"/><rect x="63.3" y="462.8" width="3.6" height="3.6"/><rect x="64.5" y="467.4" width="3.6" height="3.6"/><rect x="65.2" y="462.8" width="3.6" height="3.6"/><rect x="66.0" y="466.6" width="3.6" height="3.6"/><rect x="67.5" y="466.5" width="3.6" height="3.6"/><rect x="67.8" y="469.6" width="3.6" height="3.6"/><rect x="69.0" y="462.5" width="3.6" height="3.6"/><rect x="70.3" y="462.0" width="3.6" height="3.6"/><rect x="71.4" y="460.6" width="3.6" height="3.6"/><rect x="72.4" y="463.8" width="3.6" height="3.6"/><rect x="72.9" y="466.3" width="3.6" height="3.6"/><rect x="74.0" y="466.1" width="3.6" height="3.6"/><rect x="75.7" y="465.7" width="3.6" height="3.6"/><rect x="75.8" y="463.5" width="3.6" height="3.6"/><rect x="77.4" y="462.4" width="3.6" height="3.6"/><rect x="78.0" y="466.0" width="3.6" height="3.6"/><rect x="78.7" y="467.4" width="3.6" height="3.6"/><rect x="80.7" y="474.7" width="3.6" height="3.6"/><rect x="81.5" y="463.5" width="3.6" height="3.6"/><rect x="82.3" y="461.9" width="3.6" height="3.6"/><rect x="82.7" y="469.5" width="3.6" height="3.6"/><rect x="82.9" y="468.1" width="3.6" height="3.6"/><rect x="83.5" y="473.6" width="3.6" height="3.6"/><rect x="84.3" y="473.0" width="3.6" height="3.6"/><rect x="85.3" y="471.7" width="3.6" height="3.6"/><rect x="85.5" y="473.9" width="3.6" height="3.6"/><rect x="85.1" y="473.8" width="3.6" height="3.6"/><rect x="85.8" y="477.4" width="3.6" height="3.6"/><rect x="86.1" y="477.1" width="3.6" height="3.6"/><rect x="86.4" y="476.2" width="3.6" height="3.6"/><rect x="86.6" y="476.1" width="3.6" height="3.6"/><rect x="86.6" y="477.2" width="3.6" height="3.6"/><rect x="86.4" y="479.5" width="3.6" height="3.6"/><rect x="87.2" y="477.2" width="3.6" height="3.6"/><rect x="87.6" y="487.5" width="3.6" height="3.6"/><rect x="87.3" y="478.0" width="3.6" height="3.6"/><rect x="88.1" y="477.2" width="3.6" height="3.6"/><rect x="87.8" y="482.8" width="3.6" height="3.6"/><rect x="87.6" y="481.6" width="3.6" height="3.6"/><rect x="88.7" y="484.3" width="3.6" height="3.6"/><rect x="88.6" y="485.7" width="3.6" height="3.6"/><rect x="88.7" y="484.9" width="3.6" height="3.6"/><rect x="89.2" y="487.2" width="3.6" height="3.6"/><rect x="89.7" y="486.8" width="3.6" height="3.6"/><rect x="89.5" y="488.0" width="3.6" height="3.6"/><rect x="90.0" y="486.5" width="3.6" height="3.6"/><rect x="89.8" y="488.0" width="3.6" height="3.6"/><rect x="90.1" y="488.8" width="3.6" height="3.6"/><rect x="90.2" y="490.6" width="3.6" height="3.6"/><rect x="91.0" y="491.8" width="3.6" height="3.6"/><rect x="91.1" y="490.5" width="3.6" height="3.6"/><rect x="91.6" y="491.1" width="3.6" height="3.6"/><rect x="92.1" y="493.6" width="3.6" height="3.6"/><rect x="92.0" y="501.9" width="3.6" height="3.6"/><rect x="92.0" y="500.0" width="3.6" height="3.6"/><rect x="92.5" y="499.1" width="3.6" height="3.6"/><rect x="93.4" y="500.4" width="3.6" height="3.6"/><rect x="93.7" y="501.3" width="3.6" height="3.6"/><rect x="93.6" y="503.4" width="3.6" height="3.6"/><rect x="93.4" y="501.3" width="3.6" height="3.6"/><rect x="94.0" y="504.5" width="3.6" height="3.6"/><rect x="94.8" y="506.0" width="3.6" height="3.6"/><rect x="94.7" y="504.7" width="3.6" height="3.6"/><rect x="95.2" y="506.4" width="3.6" height="3.6"/><rect x="95.7" y="508.8" width="3.6" height="3.6"/><rect x="96.3" y="511.4" width="3.6" height="3.6"/><rect x="96.0" y="512.9" width="3.6" height="3.6"/><rect x="96.6" y="515.1" width="3.6" height="3.6"/><rect x="97.4" y="514.6" width="3.6" height="3.6"/><rect x="97.3" y="515.3" width="3.6" height="3.6"/><rect x="98.3" y="513.8" width="3.6" height="3.6"/><rect x="97.9" y="517.0" width="3.6" height="3.6"/><rect x="98.9" y="520.4" width="3.6" height="3.6"/><rect x="98.6" y="522.3" width="3.6" height="3.6"/><rect x="99.3" y="521.1" width="3.6" height="3.6"/><rect x="99.5" y="518.5" width="3.6" height="3.6"/><rect x="100.7" y="523.2" width="3.6" height="3.6"/><rect x="101.2" y="523.8" width="3.6" height="3.6"/><rect x="101.8" y="524.2" width="3.6" height="3.6"/><rect x="102.3" y="524.6" width="3.6" height="3.6"/><rect x="102.1" y="521.4" width="3.6" height="3.6"/><rect x="102.3" y="529.7" width="3.6" height="3.6"/><rect x="103.5" y="525.0" width="3.6" height="3.6"/><rect x="103.8" y="522.1" width="3.6" height="3.6"/><rect x="104.2" y="523.4" width="3.6" height="3.6"/><rect x="105.3" y="525.7" width="3.6" height="3.6"/><rect x="105.9" y="528.9" width="3.6" height="3.6"/><rect x="106.8" y="526.9" width="3.6" height="3.6"/><rect x="107.8" y="529.9" width="3.6" height="3.6"/><rect x="108.6" y="530.3" width="3.6" height="3.6"/><rect x="109.0" y="530.6" width="3.6" height="3.6"/><rect x="109.2" y="526.9" width="3.6" height="3.6"/><rect x="110.0" y="534.9" width="3.6" height="3.6"/><rect x="111.1" y="531.2" width="3.6" height="3.6"/><rect x="112.1" y="533.3" width="3.6" height="3.6"/><rect x="112.4" y="534.6" width="3.6" height="3.6"/><rect x="113.9" y="534.7" width="3.6" height="3.6"/><rect x="114.3" y="535.3" width="3.6" height="3.6"/><rect x="116.0" y="534.9" width="3.6" height="3.6"/><rect x="116.1" y="536.7" width="3.6" height="3.6"/><rect x="117.2" y="541.9" width="3.6" height="3.6"/><rect x="118.5" y="538.7" width="3.6" height="3.6"/><rect x="119.6" y="539.8" width="3.6" height="3.6"/><rect x="120.1" y="539.7" width="3.6" height="3.6"/><rect x="120.7" y="538.9" width="3.6" height="3.6"/><rect x="122.2" y="538.5" width="3.6" height="3.6"/><rect x="123.4" y="540.2" width="3.6" height="3.6"/><rect x="124.6" y="542.7" width="3.6" height="3.6"/><rect x="125.6" y="544.5" width="3.6" height="3.6"/><rect x="126.3" y="543.2" width="3.6" height="3.6"/><rect x="127.3" y="541.9" width="3.6" height="3.6"/><rect x="128.4" y="539.3" width="3.6" height="3.6"/><rect x="129.3" y="544.0" width="3.6" height="3.6"/><rect x="130.4" y="541.5" width="3.6" height="3.6"/><rect x="130.8" y="541.8" width="3.6" height="3.6"/><rect x="132.5" y="541.1" width="3.6" height="3.6"/><rect x="133.6" y="539.7" width="3.6" height="3.6"/><rect x="134.0" y="539.0" width="3.6" height="3.6"/><rect x="135.0" y="535.9" width="3.6" height="3.6"/><rect x="136.2" y="538.9" width="3.6" height="3.6"/><rect x="137.5" y="539.5" width="3.6" height="3.6"/><rect x="138.5" y="535.5" width="3.6" height="3.6"/><rect x="138.9" y="535.4" width="3.6" height="3.6"/><rect x="140.5" y="535.8" width="3.6" height="3.6"/><rect x="140.7" y="534.7" width="3.6" height="3.6"/><rect x="142.6" y="539.6" width="3.6" height="3.6"/><rect x="143.2" y="536.4" width="3.6" height="3.6"/><rect x="144.1" y="536.2" width="3.6" height="3.6"/><rect x="145.1" y="538.7" width="3.6" height="3.6"/><rect x="145.8" y="535.4" width="3.6" height="3.6"/><rect x="147.5" y="534.4" width="3.6" height="3.6"/><rect x="147.9" y="536.6" width="3.6" height="3.6"/><rect x="149.1" y="536.8" width="3.6" height="3.6"/><rect x="150.3" y="537.7" width="3.6" height="3.6"/><rect x="150.9" y="536.7" width="3.6" height="3.6"/><rect x="152.4" y="541.4" width="3.6" height="3.6"/><rect x="153.3" y="540.8" width="3.6" height="3.6"/><rect x="154.2" y="543.6" width="3.6" height="3.6"/><rect x="155.4" y="542.9" width="3.6" height="3.6"/><rect x="155.7" y="540.4" width="3.6" height="3.6"/><rect x="156.8" y="538.1" width="3.6" height="3.6"/><rect x="158.0" y="537.5" width="3.6" height="3.6"/><rect x="159.3" y="538.4" width="3.6" height="3.6"/><rect x="160.4" y="540.4" width="3.6" height="3.6"/><rect x="160.8" y="543.1" width="3.6" height="3.6"/><rect x="162.3" y="536.7" width="3.6" height="3.6"/><rect x="163.5" y="541.5" width="3.6" height="3.6"/><rect x="163.9" y="541.7" width="3.6" height="3.6"/><rect x="165.4" y="542.5" width="3.6" height="3.6"/><rect x="165.7" y="542.5" width="3.6" height="3.6"/><rect x="167.2" y="532.5" width="3.6" height="3.6"/><rect x="168.1" y="540.7" width="3.6" height="3.6"/><rect x="169.1" y="540.0" width="3.6" height="3.6"/><rect x="169.9" y="539.8" width="3.6" height="3.6"/><rect x="170.9" y="540.2" width="3.6" height="3.6"/><rect x="172.4" y="542.8" width="3.6" height="3.6"/><rect x="173.3" y="538.5" width="3.6" height="3.6"/><rect x="174.4" y="545.4" width="3.6" height="3.6"/><rect x="175.7" y="545.2" width="3.6" height="3.6"/><rect x="176.4" y="542.4" width="3.6" height="3.6"/><rect x="177.0" y="539.6" width="3.6" height="3.6"/><rect x="178.2" y="544.6" width="3.6" height="3.6"/><rect x="179.3" y="547.8" width="3.6" height="3.6"/><rect x="180.5" y="544.7" width="3.6" height="3.6"/><rect x="181.1" y="550.4" width="3.6" height="3.6"/><rect x="181.8" y="546.2" width="3.6" height="3.6"/><rect x="182.8" y="541.7" width="3.6" height="3.6"/><rect x="184.3" y="543.9" width="3.6" height="3.6"/><rect x="184.9" y="545.9" width="3.6" height="3.6"/><rect x="186.6" y="545.1" width="3.6" height="3.6"/><rect x="186.9" y="545.7" width="3.6" height="3.6"/><rect x="188.3" y="543.1" width="3.6" height="3.6"/><rect x="188.9" y="543.8" width="3.6" height="3.6"/><rect x="190.6" y="548.5" width="3.6" height="3.6"/><rect x="190.9" y="542.3" width="3.6" height="3.6"/><rect x="192.6" y="545.8" width="3.6" height="3.6"/><rect x="193.7" y="544.8" width="3.6" height="3.6"/><rect x="194.2" y="546.0" width="3.6" height="3.6"/><rect x="194.7" y="545.4" width="3.6" height="3.6"/><rect x="196.3" y="544.9" width="3.6" height="3.6"/><rect x="197.4" y="540.2" width="3.6" height="3.6"/><rect x="198.1" y="549.6" width="3.6" height="3.6"/><rect x="199.3" y="548.2" width="3.6" height="3.6"/><rect x="200.5" y="546.1" width="3.6" height="3.6"/><rect x="201.0" y="542.2" width="3.6" height="3.6"/><rect x="202.6" y="541.2" width="3.6" height="3.6"/></g>
<g fill="#b4b4b4"><rect x="203.1" y="544.8" width="3.6" height="3.6"/><rect x="203.2" y="542.8" width="3.6" height="3.6"/><rect x="203.5" y="541.6" width="3.6" height="3.6"/><rect x="204.1" y="542.4" width="3.6" height="3.6"/><rect x="204.5" y="539.8" width="3.6" height="3.6"/><rect x="204.6" y="539.5" width="3.6" height="3.6"/><rect x="204.4" y="539.1" width="3.6" height="3.6"/><rect x="204.9" y="539.0" width="3.6" height="3.6"/><rect x="205.2" y="538.2" width="3.6" height="3.6"/><rect x="205.4" y="537.6" width="3.6" height="3.6"/><rect x="205.9" y="537.4" width="3.6" height="3.6"/><rect x="206.0" y="536.7" width="3.6" height="3.6"/><rect x="206.2" y="535.0" width="3.6" height="3.6"/><rect x="206.3" y="535.3" width="3.6" height="3.6"/><rect x="207.0" y="533.1" width="3.6" height="3.6"/><rect x="206.6" y="530.4" width="3.6" height="3.6"/><rect x="206.5" y="533.2" width="3.6" height="3.6"/><rect x="207.5" y="540.7" width="3.6" height="3.6"/><rect x="207.6" y="531.1" width="3.6" height="3.6"/><rect x="207.0" y="532.0" width="3.6" height="3.6"/><rect x="208.3" y="532.5" width="3.6" height="3.6"/><rect x="207.8" y="531.5" width="3.6" height="3.6"/><rect x="208.0" y="533.4" width="3.6" height="3.6"/><rect x="208.2" y="531.2" width="3.6" height="3.6"/><rect x="209.2" y="531.3" width="3.6" height="3.6"/><rect x="209.2" y="530.6" width="3.6" height="3.6"/><rect x="209.0" y="532.5" width="3.6" height="3.6"/><rect x="209.5" y="525.4" width="3.6" height="3.6"/><rect x="209.6" y="529.1" width="3.6" height="3.6"/><rect x="210.0" y="530.7" width="3.6" height="3.6"/><rect x="210.4" y="529.8" width="3.6" height="3.6"/><rect x="210.1" y="528.2" width="3.6" height="3.6"/><rect x="210.6" y="529.3" width="3.6" height="3.6"/><rect x="211.3" y="529.6" width="3.6" height="3.6"/><rect x="211.7" y="527.5" width="3.6" height="3.6"/><rect x="211.5" y="525.9" width="3.6" height="3.6"/><rect x="212.4" y="524.3" width="3.6" height="3.6"/><rect x="212.3" y="527.2" width="3.6" height="3.6"/><rect x="212.4" y="524.2" width="3.6" height="3.6"/><rect x="212.5" y="524.7" width="3.6" height="3.6"/><rect x="212.7" y="524.2" width="3.6" height="3.6"/><rect x="213.0" y="527.2" width="3.6" height="3.6"/><rect x="213.7" y="522.1" width="3.6" height="3.6"/><rect x="214.0" y="523.5" width="3.6" height="3.6"/><rect x="214.5" y="524.1" width="3.6" height="3.6"/><rect x="214.0" y="523.6" width="3.6" height="3.6"/><rect x="215.3" y="522.7" width="3.6" height="3.6"/><rect x="214.6" y="518.7" width="3.6" height="3.6"/><rect x="216.1" y="520.2" width="3.6" height="3.6"/><rect x="215.3" y="521.0" width="3.6" height="3.6"/><rect x="216.5" y="521.0" width="3.6" height="3.6"/><rect x="215.7" y="519.6" width="3.6" height="3.6"/><rect x="216.5" y="518.5" width="3.6" height="3.6"/><rect x="216.8" y="517.5" width="3.6" height="3.6"/><rect x="218.1" y="517.9" width="3.6" height="3.6"/><rect x="217.7" y="519.7" width="3.6" height="3.6"/><rect x="218.1" y="519.1" width="3.6" height="3.6"/><rect x="218.3" y="519.2" width="3.6" height="3.6"/><rect x="219.7" y="522.3" width="3.6" height="3.6"/><rect x="219.7" y="517.9" width="3.6" height="3.6"/><rect x="220.2" y="510.7" width="3.6" height="3.6"/><rect x="220.1" y="516.1" width="3.6" height="3.6"/><rect x="220.8" y="516.8" width="3.6" height="3.6"/><rect x="221.0" y="517.5" width="3.6" height="3.6"/><rect x="221.3" y="515.2" width="3.6" height="3.6"/><rect x="221.2" y="514.4" width="3.6" height="3.6"/><rect x="222.9" y="516.6" width="3.6" height="3.6"/><rect x="222.5" y="515.7" width="3.6" height="3.6"/><rect x="223.4" y="513.4" width="3.6" height="3.6"/><rect x="223.6" y="514.6" width="3.6" height="3.6"/><rect x="224.4" y="513.7" width="3.6" height="3.6"/><rect x="224.5" y="511.1" width="3.6" height="3.6"/><rect x="225.4" y="511.4" width="3.6" height="3.6"/><rect x="225.1" y="511.0" width="3.6" height="3.6"/><rect x="226.6" y="510.7" width="3.6" height="3.6"/><rect x="226.7" y="510.1" width="3.6" height="3.6"/><rect x="227.7" y="508.4" width="3.6" height="3.6"/><rect x="227.2" y="510.6" width="3.6" height="3.6"/><rect x="228.4" y="510.8" width="3.6" height="3.6"/><rect x="227.9" y="508.9" width="3.6" height="3.6"/><rect x="228.7" y="506.9" width="3.6" height="3.6"/><rect x="229.1" y="510.1" width="3.6" height="3.6"/><rect x="229.8" y="509.2" width="3.6" height="3.6"/><rect x="230.6" y="509.5" width="3.6" height="3.6"/><rect x="231.4" y="508.9" width="3.6" height="3.6"/><rect x="230.7" y="508.6" width="3.6" height="3.6"/><rect x="231.9" y="509.8" width="3.6" height="3.6"/><rect x="231.8" y="508.8" width="3.6" height="3.6"/><rect x="233.2" y="508.9" width="3.6" height="3.6"/><rect x="232.8" y="509.8" width="3.6" height="3.6"/><rect x="234.0" y="509.5" width="3.6" height="3.6"/><rect x="234.4" y="509.0" width="3.6" height="3.6"/><rect x="235.3" y="508.6" width="3.6" height="3.6"/><rect x="235.6" y="509.7" width="3.6" height="3.6"/><rect x="236.2" y="503.9" width="3.6" height="3.6"/><rect x="236.4" y="511.1" width="3.6" height="3.6"/><rect x="236.8" y="509.5" width="3.6" height="3.6"/><rect x="237.7" y="508.2" width="3.6" height="3.6"/><rect x="238.0" y="511.5" width="3.6" height="3.6"/><rect x="238.1" y="509.0" width="3.6" height="3.6"/><rect x="239.5" y="511.0" width="3.6" height="3.6"/><rect x="239.4" y="512.0" width="3.6" height="3.6"/><rect x="240.2" y="510.5" width="3.6" height="3.6"/><rect x="240.1" y="510.0" width="3.6" height="3.6"/><rect x="240.9" y="508.8" width="3.6" height="3.6"/><rect x="241.4" y="509.9" width="3.6" height="3.6"/><rect x="242.5" y="510.4" width="3.6" height="3.6"/><rect x="242.6" y="510.7" width="3.6" height="3.6"/><rect x="243.1" y="509.0" width="3.6" height="3.6"/><rect x="243.6" y="507.3" width="3.6" height="3.6"/><rect x="244.1" y="509.2" width="3.6" height="3.6"/><rect x="244.3" y="510.1" width="3.6" height="3.6"/><rect x="245.5" y="509.2" width="3.6" height="3.6"/><rect x="245.3" y="510.0" width="3.6" height="3.6"/><rect x="246.7" y="509.3" width="3.6" height="3.6"/><rect x="245.7" y="510.2" width="3.6" height="3.6"/><rect x="247.2" y="509.2" width="3.6" height="3.6"/><rect x="246.8" y="514.6" width="3.6" height="3.6"/><rect x="248.0" y="507.9" width="3.6" height="3.6"/><rect x="247.8" y="510.8" width="3.6" height="3.6"/><rect x="249.4" y="509.0" width="3.6" height="3.6"/><rect x="248.8" y="511.7" width="3.6" height="3.6"/><rect x="250.2" y="511.9" width="3.6" height="3.6"/><rect x="250.6" y="510.6" width="3.6" height="3.6"/><rect x="251.3" y="511.5" width="3.6" height="3.6"/><rect x="251.6" y="511.5" width="3.6" height="3.6"/><rect x="252.5" y="514.7" width="3.6" height="3.6"/><rect x="252.1" y="513.6" width="3.6" height="3.6"/><rect x="253.5" y="511.5" width="3.6" height="3.6"/><rect x="252.9" y="512.8" width="3.6" height="3.6"/><rect x="253.8" y="510.9" width="3.6" height="3.6"/><rect x="254.2" y="511.7" width="3.6" height="3.6"/><rect x="254.9" y="512.5" width="3.6" height="3.6"/><rect x="255.6" y="512.7" width="3.6" height="3.6"/><rect x="255.7" y="511.1" width="3.6" height="3.6"/><rect x="256.4" y="515.0" width="3.6" height="3.6"/><rect x="257.0" y="513.0" width="3.6" height="3.6"/><rect x="257.2" y="512.1" width="3.6" height="3.6"/><rect x="258.7" y="514.0" width="3.6" height="3.6"/><rect x="257.7" y="510.6" width="3.6" height="3.6"/><rect x="258.8" y="513.7" width="3.6" height="3.6"/><rect x="259.0" y="514.6" width="3.6" height="3.6"/><rect x="259.8" y="513.5" width="3.6" height="3.6"/><rect x="260.6" y="514.1" width="3.6" height="3.6"/><rect x="260.8" y="513.4" width="3.6" height="3.6"/><rect x="261.5" y="513.0" width="3.6" height="3.6"/><rect x="262.6" y="510.9" width="3.6" height="3.6"/><rect x="262.3" y="512.7" width="3.6" height="3.6"/><rect x="263.2" y="515.5" width="3.6" height="3.6"/><rect x="263.1" y="515.3" width="3.6" height="3.6"/><rect x="264.2" y="515.4" width="3.6" height="3.6"/><rect x="263.9" y="517.9" width="3.6" height="3.6"/><rect x="265.0" y="518.3" width="3.6" height="3.6"/><rect x="264.9" y="514.4" width="3.6" height="3.6"/><rect x="266.4" y="516.6" width="3.6" height="3.6"/><rect x="266.2" y="520.9" width="3.6" height="3.6"/><rect x="267.0" y="515.5" width="3.6" height="3.6"/><rect x="267.5" y="518.5" width="3.6" height="3.6"/><rect x="267.8" y="518.9" width="3.6" height="3.6"/><rect x="268.1" y="519.6" width="3.6" height="3.6"/><rect x="269.5" y="517.9" width="3.6" height="3.6"/><rect x="268.8" y="516.2" width="3.6" height="3.6"/><rect x="269.9" y="517.1" width="3.6" height="3.6"/><rect x="270.1" y="517.6" width="3.6" height="3.6"/><rect x="271.6" y="516.0" width="3.6" height="3.6"/><rect x="271.7" y="518.9" width="3.6" height="3.6"/><rect x="271.9" y="511.0" width="3.6" height="3.6"/><rect x="272.4" y="517.6" width="3.6" height="3.6"/><rect x="273.3" y="518.6" width="3.6" height="3.6"/><rect x="272.8" y="516.5" width="3.6" height="3.6"/><rect x="274.1" y="515.8" width="3.6" height="3.6"/><rect x="274.6" y="518.9" width="3.6" height="3.6"/><rect x="275.4" y="516.5" width="3.6" height="3.6"/><rect x="274.9" y="516.8" width="3.6" height="3.6"/><rect x="276.0" y="519.1" width="3.6" height="3.6"/><rect x="276.4" y="517.2" width="3.6" height="3.6"/><rect x="277.0" y="518.6" width="3.6" height="3.6"/><rect x="277.4" y="516.4" width="3.6" height="3.6"/><rect x="277.7" y="514.8" width="3.6" height="3.6"/><rect x="278.0" y="518.5" width="3.6" height="3.6"/><rect x="278.9" y="522.9" width="3.6" height="3.6"/><rect x="278.9" y="519.5" width="3.6" height="3.6"/><rect x="280.3" y="521.0" width="3.6" height="3.6"/><rect x="280.0" y="520.0" width="3.6" height="3.6"/><rect x="280.9" y="522.6" width="3.6" height="3.6"/><rect x="281.1" y="521.3" width="3.6" height="3.6"/><rect x="281.8" y="523.5" width="3.6" height="3.6"/><rect x="282.5" y="519.5" width="3.6" height="3.6"/><rect x="283.3" y="520.5" width="3.6" height="3.6"/><rect x="282.9" y="521.7" width="3.6" height="3.6"/><rect x="284.7" y="520.2" width="3.6" height="3.6"/><rect x="283.7" y="519.3" width="3.6" height="3.6"/><rect x="285.2" y="521.4" width="3.6" height="3.6"/><rect x="284.7" y="520.4" width="3.6" height="3.6"/><rect x="285.9" y="520.3" width="3.6" height="3.6"/><rect x="286.6" y="520.7" width="3.6" height="3.6"/><rect x="287.4" y="522.7" width="3.6" height="3.6"/><rect x="287.6" y="523.1" width="3.6" height="3.6"/><rect x="287.8" y="519.4" width="3.6" height="3.6"/><rect x="288.1" y="519.4" width="3.6" height="3.6"/><rect x="289.5" y="520.6" width="3.6" height="3.6"/><rect x="288.7" y="520.4" width="3.6" height="3.6"/><rect x="290.0" y="524.2" width="3.6" height="3.6"/><rect x="290.0" y="521.5" width="3.6" height="3.6"/><rect x="290.9" y="521.3" width="3.6" height="3.6"/><rect x="291.0" y="520.0" width="3.6" height="3.6"/><rect x="291.9" y="521.2" width="3.6" height="3.6"/><rect x="292.3" y="521.2" width="3.6" height="3.6"/><rect x="293.1" y="519.5" width="3.6" height="3.6"/><rect x="292.7" y="521.6" width="3.6" height="3.6"/><rect x="293.9" y="519.7" width="3.6" height="3.6"/><rect x="294.0" y="522.9" width="3.6" height="3.6"/><rect x="294.8" y="522.3" width="3.6" height="3.6"/><rect x="295.1" y="521.6" width="3.6" height="3.6"/><rect x="296.7" y="520.1" width="3.6" height="3.6"/><rect x="296.6" y="522.9" width="3.6" height="3.6"/><rect x="297.3" y="521.5" width="3.6" height="3.6"/><rect x="297.2" y="522.1" width="3.6" height="3.6"/><rect x="298.3" y="522.3" width="3.6" height="3.6"/><rect x="298.4" y="520.8" width="3.6" height="3.6"/><rect x="298.7" y="522.1" width="3.6" height="3.6"/><rect x="299.3" y="522.6" width="3.6" height="3.6"/><rect x="300.4" y="521.0" width="3.6" height="3.6"/><rect x="300.4" y="521.0" width="3.6" height="3.6"/><rect x="301.5" y="520.3" width="3.6" height="3.6"/><rect x="300.8" y="520.4" width="3.6" height="3.6"/><rect x="302.5" y="526.9" width="3.6" height="3.6"/><rect x="302.6" y="523.3" width="3.6" height="3.6"/><rect x="303.2" y="520.6" width="3.6" height="3.6"/><rect x="302.8" y="523.5" width="3.6" height="3.6"/><rect x="304.6" y="520.6" width="3.6" height="3.6"/><rect x="303.7" y="521.9" width="3.6" height="3.6"/><rect x="305.6" y="523.0" width="3.6" height="3.6"/><rect x="304.8" y="523.1" width="3.6" height="3.6"/><rect x="305.9" y="526.8" width="3.6" height="3.6"/><rect x="305.8" y="525.2" width="3.6" height="3.6"/><rect x="307.5" y="524.0" width="3.6" height="3.6"/><rect x="307.4" y="522.0" width="3.6" height="3.6"/></g>
<text x="193" y="491.6" font-size="10.8" text-anchor="middle" font-style="italic" fill="#333">Injection</text>
<path d="M193.5,497L193.5,527" stroke="#444" stroke-width="0.9"/>
<path d="M191.6,526.2L195.4,526.2L193.5,531.6Z" fill="#333"/>
<rect x="239.40" y="498.60" width="4.80" height="4.80" fill="#b4b4b4"/>
<text x="247.3" y="504.8" font-size="10.6" fill="#1e1e1e">ATA</text>
<rect x="239.40" y="529.60" width="4.80" height="4.80" fill="#7c7c7c"/>
<text x="247.3" y="535.8" font-size="10.6" fill="#1e1e1e">GR</text>
<rect x="239.40" y="559.10" width="4.80" height="4.80" fill="#141414"/>
<text x="247.3" y="565.3" font-size="10.6" fill="#1e1e1e">Saline</text>
<text x="331.2" y="433.6" font-size="17.6" font-weight="bold" fill="#000">F</text>
<path d="M396.3,448.5L396.3,575.5" stroke="#888888" stroke-width="1"/>
<path d="M396.3,575.5L516.5,575.5" stroke="#888888" stroke-width="1"/>
<path d="M392.5,448.5L396.3,448.5" stroke="#888888" stroke-width="1"/>
<text x="386.6" y="452.1" font-size="10.1" text-anchor="end" fill="#1e1e1e">80%</text>
<path d="M392.5,480.2L396.3,480.2" stroke="#888888" stroke-width="1"/>
<text x="386.6" y="483.8" font-size="10.1" text-anchor="end" fill="#1e1e1e">60%</text>
<path d="M392.5,512L396.3,512" stroke="#888888" stroke-width="1"/>
<text x="386.6" y="515.6" font-size="10.1" text-anchor="end" fill="#1e1e1e">40%</text>
<path d="M392.5,543.7L396.3,543.7" stroke="#888888" stroke-width="1"/>
<text x="386.6" y="547.3000000000001" font-size="10.1" text-anchor="end" fill="#1e1e1e">20%</text>
<path d="M392.5,575.5L396.3,575.5" stroke="#888888" stroke-width="1"/>
<text x="386.6" y="579.1" font-size="10.1" text-anchor="end" fill="#1e1e1e">0%</text>
<path d="M436.4,575.5L436.4,579.4" stroke="#888888" stroke-width="1"/>
<path d="M476.3,575.5L476.3,579.4" stroke="#888888" stroke-width="1"/>
<path d="M516.3,575.5L516.3,579.4" stroke="#888888" stroke-width="1"/>
<path d="M416.0,537.3L416.0,542.6" stroke="#444" stroke-width="0.9"/>
<path d="M414.7,537.3L417.3,537.3" stroke="#444" stroke-width="0.9"/>
<rect x="402.20" y="543.00" width="27.60" height="32.50" fill="#000" stroke="#000" stroke-width="0.8"/>
<path d="M456.55,478.3L456.55,493.8" stroke="#444" stroke-width="0.9"/>
<path d="M455.25,478.3L457.85,478.3" stroke="#444" stroke-width="0.9"/>
<rect x="442.50" y="494.20" width="28.10" height="81.30" fill="#b2b2b2" stroke="#6e6e6e" stroke-width="0.8"/>
<path d="M496.5,531L496.5,534.8" stroke="#444" stroke-width="0.9"/>
<path d="M495.2,531L497.8,531" stroke="#444" stroke-width="0.9"/>
<rect x="482.60" y="535.20" width="27.80" height="40.30" fill="#6c6c6c" stroke="#3c3c3c" stroke-width="0.8"/>
<text x="416" y="591.8" font-size="10.4" text-anchor="middle" fill="#1e1e1e">Saline</text>
<text x="456.4" y="591.8" font-size="10.4" text-anchor="middle" fill="#1e1e1e">ATA</text>
<text x="496.3" y="591.8" font-size="10.4" text-anchor="middle" fill="#1e1e1e">GR</text>
<path d="M422.6,456.3L452,456.3" stroke="#8a8a8a" stroke-width="1"/>
<path d="M460.7,456.3L489.3,456.3" stroke="#8a8a8a" stroke-width="1"/>
<path d="M436.50,442.55L436.50,453.05M441.05,445.18L431.95,450.43M441.05,450.43L431.95,445.18" stroke="#111" stroke-width="2.1" stroke-linecap="butt"/>
<path d="M474.70,442.55L474.70,453.05M479.25,445.18L470.15,450.43M479.25,450.43L470.15,445.18" stroke="#111" stroke-width="2.1" stroke-linecap="butt"/>
<text x="356" y="519.7" font-size="10.4" text-anchor="middle" font-weight="bold" fill="#111" transform="rotate(-90 356 519.7)">Mean Blood Flow (% of baseline)</text>
</svg></body></html>
